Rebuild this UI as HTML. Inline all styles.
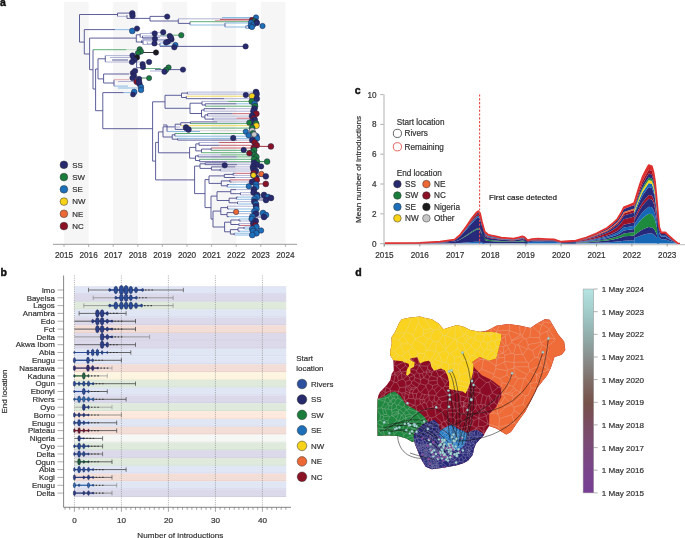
<!DOCTYPE html>
<html><head><meta charset="utf-8"><style>
html,body{margin:0;padding:0;background:#fff;overflow:hidden;width:685px;height:538px;}
svg{display:block;will-change:transform;}
text{font-family:"Liberation Sans",sans-serif;}
</style></head><body>
<svg width="685" height="538" viewBox="0 0 685 538">
<rect width="685" height="538" fill="#fff"/>
<rect x="64.0" y="2.0" width="24.6" height="241.8" fill="#f6f6f6" />
<rect x="113.2" y="2.0" width="24.6" height="241.8" fill="#f6f6f6" />
<rect x="162.4" y="2.0" width="24.6" height="241.8" fill="#f6f6f6" />
<rect x="211.6" y="2.0" width="24.6" height="241.8" fill="#f6f6f6" />
<rect x="260.8" y="2.0" width="24.6" height="241.8" fill="#f6f6f6" />
<text x="0.0" y="5.8" font-size="10.5" text-anchor="start" fill="#111" font-weight="bold"  stroke="#111" stroke-width="0.45">a</text>
<line x1="53.0" y1="244.3" x2="297.0" y2="244.3" stroke="#9a9a9a" stroke-width="1" />
<line x1="64.0" y1="244.3" x2="64.0" y2="246.8" stroke="#9a9a9a" stroke-width="0.8" />
<text x="64.0" y="258.0" font-size="8.2" text-anchor="middle" fill="#333" font-weight="normal" stroke="#333" stroke-width="0.2" >2015</text>
<line x1="88.6" y1="244.3" x2="88.6" y2="246.8" stroke="#9a9a9a" stroke-width="0.8" />
<text x="88.6" y="258.0" font-size="8.2" text-anchor="middle" fill="#333" font-weight="normal" stroke="#333" stroke-width="0.2" >2016</text>
<line x1="113.2" y1="244.3" x2="113.2" y2="246.8" stroke="#9a9a9a" stroke-width="0.8" />
<text x="113.2" y="258.0" font-size="8.2" text-anchor="middle" fill="#333" font-weight="normal" stroke="#333" stroke-width="0.2" >2017</text>
<line x1="137.8" y1="244.3" x2="137.8" y2="246.8" stroke="#9a9a9a" stroke-width="0.8" />
<text x="137.8" y="258.0" font-size="8.2" text-anchor="middle" fill="#333" font-weight="normal" stroke="#333" stroke-width="0.2" >2018</text>
<line x1="162.4" y1="244.3" x2="162.4" y2="246.8" stroke="#9a9a9a" stroke-width="0.8" />
<text x="162.4" y="258.0" font-size="8.2" text-anchor="middle" fill="#333" font-weight="normal" stroke="#333" stroke-width="0.2" >2019</text>
<line x1="187.0" y1="244.3" x2="187.0" y2="246.8" stroke="#9a9a9a" stroke-width="0.8" />
<text x="187.0" y="258.0" font-size="8.2" text-anchor="middle" fill="#333" font-weight="normal" stroke="#333" stroke-width="0.2" >2020</text>
<line x1="211.6" y1="244.3" x2="211.6" y2="246.8" stroke="#9a9a9a" stroke-width="0.8" />
<text x="211.6" y="258.0" font-size="8.2" text-anchor="middle" fill="#333" font-weight="normal" stroke="#333" stroke-width="0.2" >2021</text>
<line x1="236.2" y1="244.3" x2="236.2" y2="246.8" stroke="#9a9a9a" stroke-width="0.8" />
<text x="236.2" y="258.0" font-size="8.2" text-anchor="middle" fill="#333" font-weight="normal" stroke="#333" stroke-width="0.2" >2022</text>
<line x1="260.8" y1="244.3" x2="260.8" y2="246.8" stroke="#9a9a9a" stroke-width="0.8" />
<text x="260.8" y="258.0" font-size="8.2" text-anchor="middle" fill="#333" font-weight="normal" stroke="#333" stroke-width="0.2" >2023</text>
<line x1="285.4" y1="244.3" x2="285.4" y2="246.8" stroke="#9a9a9a" stroke-width="0.8" />
<text x="285.4" y="258.0" font-size="8.2" text-anchor="middle" fill="#333" font-weight="normal" stroke="#333" stroke-width="0.2" >2024</text>
<circle cx="63.9" cy="164.8" r="3.85" fill="#272a6c" stroke="#333" stroke-width="0.5"/>
<text x="72.3" y="167.7" font-size="7.9" text-anchor="start" fill="#333" font-weight="normal" stroke="#333" stroke-width="0.2" >SS</text>
<circle cx="63.9" cy="177.1" r="3.85" fill="#1b7d3b" stroke="#333" stroke-width="0.5"/>
<text x="72.3" y="179.9" font-size="7.9" text-anchor="start" fill="#333" font-weight="normal" stroke="#333" stroke-width="0.2" >SW</text>
<circle cx="63.9" cy="189.3" r="3.85" fill="#1c6fb8" stroke="#333" stroke-width="0.5"/>
<text x="72.3" y="192.2" font-size="7.9" text-anchor="start" fill="#333" font-weight="normal" stroke="#333" stroke-width="0.2" >SE</text>
<circle cx="63.9" cy="201.6" r="3.85" fill="#f6d219" stroke="#333" stroke-width="0.5"/>
<text x="72.3" y="204.4" font-size="7.9" text-anchor="start" fill="#333" font-weight="normal" stroke="#333" stroke-width="0.2" >NW</text>
<circle cx="63.9" cy="213.8" r="3.85" fill="#ec6935" stroke="#333" stroke-width="0.5"/>
<text x="72.3" y="216.7" font-size="7.9" text-anchor="start" fill="#333" font-weight="normal" stroke="#333" stroke-width="0.2" >NE</text>
<circle cx="63.9" cy="226.1" r="3.85" fill="#8a1224" stroke="#333" stroke-width="0.5"/>
<text x="72.3" y="228.9" font-size="7.9" text-anchor="start" fill="#333" font-weight="normal" stroke="#333" stroke-width="0.2" >NC</text>
<line x1="79.5" y1="14.5" x2="79.5" y2="42.1" stroke="#4c4e90" stroke-width="0.9" />
<line x1="79.5" y1="14.5" x2="117.5" y2="14.5" stroke="#4c4e90" stroke-width="0.9" />
<line x1="79.5" y1="42.1" x2="84.3" y2="42.1" stroke="#4c4e90" stroke-width="0.9" />
<line x1="117.5" y1="13.1" x2="117.5" y2="16.4" stroke="#4c4e90" stroke-width="0.9" />
<line x1="117.5" y1="13.1" x2="131.0" y2="13.1" stroke="#4c4e90" stroke-width="0.9" />
<line x1="117.5" y1="16.4" x2="127.0" y2="16.4" stroke="#a9abd3" stroke-width="0.9" />
<line x1="127.0" y1="15.1" x2="127.0" y2="18.4" stroke="#4c4e90" stroke-width="0.9" />
<line x1="127.0" y1="18.4" x2="150.0" y2="18.4" stroke="#4c4e90" stroke-width="0.9" />
<line x1="150.0" y1="16.4" x2="150.0" y2="21.0" stroke="#4c4e90" stroke-width="0.9" />
<line x1="150.0" y1="16.4" x2="165.0" y2="16.4" stroke="#4c4e90" stroke-width="0.9" />
<line x1="150.0" y1="21.0" x2="178.3" y2="21.0" stroke="#4c4e90" stroke-width="0.9" />
<line x1="178.3" y1="18.8" x2="178.3" y2="23.4" stroke="#4c4e90" stroke-width="0.9" />
<line x1="178.3" y1="18.8" x2="250.0" y2="18.8" stroke="#a9abd3" stroke-width="0.9" />
<line x1="178.3" y1="23.4" x2="190.0" y2="23.4" stroke="#4c4e90" stroke-width="0.9" />
<line x1="190.0" y1="21.7" x2="190.0" y2="25.0" stroke="#4c4e90" stroke-width="0.9" />
<line x1="190.0" y1="21.7" x2="250.0" y2="21.7" stroke="#4fa46a" stroke-width="0.9" />
<line x1="190.0" y1="25.0" x2="225.0" y2="25.0" stroke="#7fb3e0" stroke-width="0.9" />
<line x1="222.0" y1="17.5" x2="252.0" y2="17.5" stroke="#7fb3e0" stroke-width="0.9" />
<line x1="220.0" y1="19.5" x2="250.0" y2="19.5" stroke="#c0505c" stroke-width="0.9" />
<line x1="215.0" y1="20.5" x2="250.0" y2="20.5" stroke="#e3a3a6" stroke-width="0.9" />
<line x1="225.0" y1="23.0" x2="225.0" y2="27.0" stroke="#4c4e90" stroke-width="0.9" />
<line x1="225.0" y1="23.0" x2="252.0" y2="23.0" stroke="#7fb3e0" stroke-width="0.9" />
<line x1="225.0" y1="27.0" x2="246.0" y2="27.0" stroke="#7fb3e0" stroke-width="0.9" />
<line x1="246.0" y1="25.5" x2="246.0" y2="28.5" stroke="#4c4e90" stroke-width="0.9" />
<line x1="246.0" y1="25.5" x2="256.0" y2="25.5" stroke="#7fb3e0" stroke-width="0.9" />
<line x1="246.0" y1="28.5" x2="252.0" y2="28.5" stroke="#7fb3e0" stroke-width="0.9" />
<line x1="84.3" y1="29.6" x2="84.3" y2="54.0" stroke="#4c4e90" stroke-width="0.9" />
<line x1="84.3" y1="29.6" x2="115.0" y2="29.6" stroke="#4c4e90" stroke-width="0.9" />
<line x1="115.0" y1="29.6" x2="131.0" y2="29.6" stroke="#7fb3e0" stroke-width="0.9" />
<line x1="84.3" y1="54.0" x2="89.6" y2="54.0" stroke="#4c4e90" stroke-width="0.9" />
<line x1="89.6" y1="38.1" x2="89.6" y2="69.7" stroke="#4c4e90" stroke-width="0.9" />
<line x1="89.6" y1="38.1" x2="136.3" y2="38.1" stroke="#4c4e90" stroke-width="0.9" />
<line x1="136.3" y1="34.8" x2="136.3" y2="42.0" stroke="#4c4e90" stroke-width="0.9" />
<line x1="140.2" y1="33.5" x2="140.2" y2="37.5" stroke="#4c4e90" stroke-width="0.9" />
<line x1="140.2" y1="33.5" x2="153.4" y2="33.5" stroke="#a9abd3" stroke-width="0.9" />
<line x1="140.2" y1="37.5" x2="160.0" y2="37.5" stroke="#a9abd3" stroke-width="0.9" />
<line x1="136.3" y1="34.8" x2="140.2" y2="34.8" stroke="#4c4e90" stroke-width="0.9" />
<line x1="136.3" y1="42.0" x2="143.0" y2="42.0" stroke="#4c4e90" stroke-width="0.9" />
<line x1="143.0" y1="39.5" x2="143.0" y2="44.5" stroke="#4c4e90" stroke-width="0.9" />
<line x1="143.0" y1="39.5" x2="165.0" y2="39.5" stroke="#a9abd3" stroke-width="0.9" />
<line x1="143.0" y1="44.5" x2="160.0" y2="44.5" stroke="#a9abd3" stroke-width="0.9" />
<line x1="160.0" y1="43.0" x2="160.0" y2="46.4" stroke="#4c4e90" stroke-width="0.9" />
<line x1="160.0" y1="46.4" x2="245.6" y2="46.4" stroke="#4c4e90" stroke-width="0.9" />
<line x1="160.0" y1="43.0" x2="172.0" y2="43.0" stroke="#7fb3e0" stroke-width="0.9" />
<line x1="160.0" y1="35.2" x2="181.3" y2="35.2" stroke="#4fa46a" stroke-width="0.9" />
<line x1="142.5" y1="35.9" x2="142.5" y2="38.1" stroke="#4c4e90" stroke-width="0.9" />
<line x1="142.5" y1="35.9" x2="166.0" y2="35.9" stroke="#a9abd3" stroke-width="0.9" />
<line x1="142.5" y1="38.1" x2="156.5" y2="38.1" stroke="#4c4e90" stroke-width="0.9" />
<line x1="145.0" y1="36.6" x2="170.0" y2="36.6" stroke="#c4c6e4" stroke-width="0.9" />
<line x1="141.6" y1="40.3" x2="141.6" y2="43.0" stroke="#4c4e90" stroke-width="0.9" />
<line x1="141.6" y1="40.3" x2="170.0" y2="40.3" stroke="#a9abd3" stroke-width="0.9" />
<line x1="146.0" y1="41.2" x2="168.0" y2="41.2" stroke="#c4c6e4" stroke-width="0.9" />
<line x1="147.3" y1="42.5" x2="147.3" y2="43.8" stroke="#4c4e90" stroke-width="0.9" />
<line x1="147.3" y1="43.8" x2="155.0" y2="43.8" stroke="#a9abd3" stroke-width="0.9" />
<line x1="160.0" y1="45.6" x2="175.0" y2="45.6" stroke="#7fb3e0" stroke-width="0.9" />
<line x1="150.0" y1="32.4" x2="163.0" y2="32.4" stroke="#a9abd3" stroke-width="0.9" />
<line x1="156.0" y1="39.4" x2="172.0" y2="39.4" stroke="#a9abd3" stroke-width="0.9" />
<line x1="89.6" y1="69.7" x2="93.0" y2="69.7" stroke="#4c4e90" stroke-width="0.9" />
<line x1="93.0" y1="49.7" x2="93.0" y2="89.0" stroke="#4c4e90" stroke-width="0.9" />
<line x1="93.0" y1="49.7" x2="126.4" y2="49.7" stroke="#4fa46a" stroke-width="0.9" />
<line x1="126.4" y1="49.7" x2="138.0" y2="49.7" stroke="#b8dcc2" stroke-width="0.9" />
<line x1="140.0" y1="52.5" x2="156.0" y2="52.5" stroke="#222" stroke-width="0.9" />
<line x1="93.0" y1="89.0" x2="95.6" y2="89.0" stroke="#4c4e90" stroke-width="0.9" />
<line x1="95.6" y1="69.0" x2="95.6" y2="110.7" stroke="#4c4e90" stroke-width="0.9" />
<line x1="95.6" y1="69.0" x2="98.0" y2="69.0" stroke="#4c4e90" stroke-width="0.9" />
<line x1="98.0" y1="58.8" x2="98.0" y2="78.9" stroke="#4c4e90" stroke-width="0.9" />
<line x1="98.0" y1="58.8" x2="105.3" y2="58.8" stroke="#4c4e90" stroke-width="0.9" />
<line x1="105.3" y1="55.6" x2="105.3" y2="62.0" stroke="#4c4e90" stroke-width="0.9" />
<line x1="105.3" y1="55.6" x2="130.0" y2="55.6" stroke="#a9abd3" stroke-width="0.9" />
<line x1="105.3" y1="62.0" x2="130.0" y2="62.0" stroke="#a9abd3" stroke-width="0.9" />
<line x1="110.0" y1="57.5" x2="130.0" y2="57.5" stroke="#a9abd3" stroke-width="0.9" />
<line x1="112.0" y1="60.0" x2="128.0" y2="60.0" stroke="#4c4e90" stroke-width="0.9" />
<line x1="98.0" y1="78.9" x2="103.6" y2="78.9" stroke="#4c4e90" stroke-width="0.9" />
<line x1="103.6" y1="74.0" x2="103.6" y2="83.0" stroke="#4c4e90" stroke-width="0.9" />
<line x1="103.6" y1="74.0" x2="129.3" y2="74.0" stroke="#4c4e90" stroke-width="0.9" />
<line x1="103.6" y1="83.0" x2="114.0" y2="83.0" stroke="#4c4e90" stroke-width="0.9" />
<line x1="114.0" y1="79.7" x2="114.0" y2="86.1" stroke="#4c4e90" stroke-width="0.9" />
<line x1="114.0" y1="79.7" x2="129.0" y2="79.7" stroke="#e3a3a6" stroke-width="0.9" />
<line x1="118.0" y1="81.5" x2="135.0" y2="81.5" stroke="#a9abd3" stroke-width="0.9" />
<line x1="114.0" y1="86.1" x2="128.0" y2="86.1" stroke="#7fb3e0" stroke-width="0.9" />
<line x1="118.0" y1="88.0" x2="138.0" y2="88.0" stroke="#7fb3e0" stroke-width="0.9" />
<line x1="138.0" y1="78.0" x2="149.1" y2="78.0" stroke="#2a7a40" stroke-width="0.9" />
<line x1="136.6" y1="62.0" x2="136.6" y2="67.7" stroke="#4c4e90" stroke-width="0.9" />
<line x1="136.6" y1="62.0" x2="148.0" y2="62.0" stroke="#a9abd3" stroke-width="0.9" />
<line x1="136.6" y1="67.7" x2="142.0" y2="67.7" stroke="#4c4e90" stroke-width="0.9" />
<line x1="143.0" y1="68.5" x2="160.7" y2="68.5" stroke="#4fa46a" stroke-width="0.9" />
<line x1="155.0" y1="69.6" x2="183.0" y2="69.6" stroke="#4c4e90" stroke-width="0.9" />
<line x1="150.0" y1="71.0" x2="163.0" y2="71.0" stroke="#a9abd3" stroke-width="0.9" />
<line x1="95.6" y1="110.7" x2="102.8" y2="110.7" stroke="#4c4e90" stroke-width="0.9" />
<line x1="102.8" y1="92.6" x2="102.8" y2="128.7" stroke="#4c4e90" stroke-width="0.9" />
<line x1="102.8" y1="92.6" x2="123.7" y2="92.6" stroke="#4c4e90" stroke-width="0.9" />
<line x1="123.7" y1="92.6" x2="132.0" y2="92.6" stroke="#7fb3e0" stroke-width="0.9" />
<line x1="102.8" y1="128.7" x2="152.6" y2="128.7" stroke="#4c4e90" stroke-width="0.9" />
<line x1="187.3" y1="92.1" x2="256.0" y2="92.1" stroke="#a9abd3" stroke-width="0.9" />
<line x1="187.3" y1="94.1" x2="256.5" y2="94.1" stroke="#a9abd3" stroke-width="0.9" />
<line x1="187.3" y1="92.1" x2="187.3" y2="94.1" stroke="#4c4e90" stroke-width="0.9" />
<line x1="181.5" y1="93.1" x2="187.3" y2="93.1" stroke="#4c4e90" stroke-width="0.9" />
<line x1="186.3" y1="96.2" x2="252.0" y2="96.2" stroke="#f1d64a" stroke-width="0.9" />
<line x1="186.3" y1="98.7" x2="224.2" y2="98.7" stroke="#4c4e90" stroke-width="0.9" />
<line x1="224.2" y1="98.7" x2="256.7" y2="98.7" stroke="#a9abd3" stroke-width="0.9" />
<line x1="186.3" y1="96.2" x2="186.3" y2="98.7" stroke="#4c4e90" stroke-width="0.9" />
<line x1="181.5" y1="97.5" x2="186.3" y2="97.5" stroke="#4c4e90" stroke-width="0.9" />
<line x1="181.5" y1="93.1" x2="181.5" y2="97.5" stroke="#4c4e90" stroke-width="0.9" />
<line x1="165.0" y1="95.3" x2="181.5" y2="95.3" stroke="#4c4e90" stroke-width="0.9" />
<line x1="202.0" y1="101.4" x2="228.1" y2="101.4" stroke="#a9abd3" stroke-width="0.9" />
<line x1="228.1" y1="101.4" x2="251.8" y2="101.4" stroke="#4fa46a" stroke-width="0.9" />
<line x1="205.2" y1="103.8" x2="236.5" y2="103.8" stroke="#4c4e90" stroke-width="0.9" />
<line x1="236.5" y1="103.8" x2="254.6" y2="103.8" stroke="#7fb3e0" stroke-width="0.9" />
<line x1="205.2" y1="106.2" x2="255.0" y2="106.2" stroke="#4fa46a" stroke-width="0.9" />
<line x1="205.2" y1="103.8" x2="205.2" y2="106.2" stroke="#4c4e90" stroke-width="0.9" />
<line x1="202.0" y1="105.0" x2="205.2" y2="105.0" stroke="#4c4e90" stroke-width="0.9" />
<line x1="202.0" y1="101.4" x2="202.0" y2="105.0" stroke="#4c4e90" stroke-width="0.9" />
<line x1="190.0" y1="103.2" x2="202.0" y2="103.2" stroke="#4c4e90" stroke-width="0.9" />
<line x1="204.0" y1="108.7" x2="225.5" y2="108.7" stroke="#4c4e90" stroke-width="0.9" />
<line x1="225.5" y1="108.7" x2="254.4" y2="108.7" stroke="#a9abd3" stroke-width="0.9" />
<line x1="204.0" y1="111.2" x2="253.5" y2="111.2" stroke="#a9abd3" stroke-width="0.9" />
<line x1="204.0" y1="108.7" x2="204.0" y2="111.2" stroke="#4c4e90" stroke-width="0.9" />
<line x1="201.5" y1="110.0" x2="204.0" y2="110.0" stroke="#4c4e90" stroke-width="0.9" />
<line x1="207.6" y1="113.7" x2="232.7" y2="113.7" stroke="#4c4e90" stroke-width="0.9" />
<line x1="232.7" y1="113.7" x2="256.3" y2="113.7" stroke="#c0505c" stroke-width="0.9" />
<line x1="207.6" y1="116.1" x2="252.1" y2="116.1" stroke="#a9abd3" stroke-width="0.9" />
<line x1="207.6" y1="113.7" x2="207.6" y2="116.1" stroke="#4c4e90" stroke-width="0.9" />
<line x1="204.9" y1="114.9" x2="207.6" y2="114.9" stroke="#4c4e90" stroke-width="0.9" />
<line x1="213.0" y1="118.2" x2="236.5" y2="118.2" stroke="#a9abd3" stroke-width="0.9" />
<line x1="236.5" y1="118.2" x2="253.8" y2="118.2" stroke="#c0505c" stroke-width="0.9" />
<line x1="213.0" y1="119.9" x2="230.2" y2="119.9" stroke="#a9abd3" stroke-width="0.9" />
<line x1="230.2" y1="119.9" x2="254.7" y2="119.9" stroke="#a9abd3" stroke-width="0.9" />
<line x1="213.0" y1="118.2" x2="213.0" y2="119.9" stroke="#4c4e90" stroke-width="0.9" />
<line x1="204.9" y1="119.1" x2="213.0" y2="119.1" stroke="#4c4e90" stroke-width="0.9" />
<line x1="204.9" y1="114.9" x2="204.9" y2="119.1" stroke="#4c4e90" stroke-width="0.9" />
<line x1="201.5" y1="117.0" x2="204.9" y2="117.0" stroke="#4c4e90" stroke-width="0.9" />
<line x1="201.5" y1="110.0" x2="201.5" y2="117.0" stroke="#4c4e90" stroke-width="0.9" />
<line x1="190.0" y1="113.5" x2="201.5" y2="113.5" stroke="#4c4e90" stroke-width="0.9" />
<line x1="190.0" y1="103.2" x2="190.0" y2="113.5" stroke="#4c4e90" stroke-width="0.9" />
<line x1="165.0" y1="108.3" x2="190.0" y2="108.3" stroke="#4c4e90" stroke-width="0.9" />
<line x1="165.0" y1="95.3" x2="165.0" y2="108.3" stroke="#4c4e90" stroke-width="0.9" />
<line x1="152.6" y1="101.8" x2="165.0" y2="101.8" stroke="#4c4e90" stroke-width="0.9" />
<line x1="190.4" y1="121.9" x2="217.4" y2="121.9" stroke="#4c4e90" stroke-width="0.9" />
<line x1="217.4" y1="121.9" x2="251.8" y2="121.9" stroke="#a9abd3" stroke-width="0.9" />
<line x1="190.4" y1="123.6" x2="256.0" y2="123.6" stroke="#4fa46a" stroke-width="0.9" />
<line x1="190.4" y1="121.9" x2="190.4" y2="123.6" stroke="#4c4e90" stroke-width="0.9" />
<line x1="180.8" y1="122.7" x2="190.4" y2="122.7" stroke="#4c4e90" stroke-width="0.9" />
<line x1="180.8" y1="125.7" x2="256.4" y2="125.7" stroke="#f1d64a" stroke-width="0.9" />
<line x1="180.8" y1="122.7" x2="180.8" y2="125.7" stroke="#4c4e90" stroke-width="0.9" />
<line x1="175.2" y1="124.2" x2="180.8" y2="124.2" stroke="#4c4e90" stroke-width="0.9" />
<line x1="184.7" y1="128.1" x2="252.1" y2="128.1" stroke="#4fa46a" stroke-width="0.9" />
<line x1="184.7" y1="130.7" x2="252.2" y2="130.7" stroke="#d0d0d0" stroke-width="0.9" />
<line x1="184.7" y1="128.1" x2="184.7" y2="130.7" stroke="#4c4e90" stroke-width="0.9" />
<line x1="175.2" y1="129.4" x2="184.7" y2="129.4" stroke="#4c4e90" stroke-width="0.9" />
<line x1="175.2" y1="124.2" x2="175.2" y2="129.4" stroke="#4c4e90" stroke-width="0.9" />
<line x1="163.0" y1="126.8" x2="175.2" y2="126.8" stroke="#4c4e90" stroke-width="0.9" />
<line x1="174.9" y1="133.5" x2="253.0" y2="133.5" stroke="#4fa46a" stroke-width="0.9" />
<line x1="174.9" y1="136.2" x2="256.3" y2="136.2" stroke="#7fb3e0" stroke-width="0.9" />
<line x1="174.9" y1="133.5" x2="174.9" y2="136.2" stroke="#4c4e90" stroke-width="0.9" />
<line x1="172.2" y1="134.8" x2="174.9" y2="134.8" stroke="#4c4e90" stroke-width="0.9" />
<line x1="177.6" y1="138.4" x2="256.8" y2="138.4" stroke="#7fb3e0" stroke-width="0.9" />
<line x1="177.6" y1="140.1" x2="237.0" y2="140.1" stroke="#4c4e90" stroke-width="0.9" />
<line x1="237.0" y1="140.1" x2="252.3" y2="140.1" stroke="#a9abd3" stroke-width="0.9" />
<line x1="177.6" y1="138.4" x2="177.6" y2="140.1" stroke="#4c4e90" stroke-width="0.9" />
<line x1="172.2" y1="139.2" x2="177.6" y2="139.2" stroke="#4c4e90" stroke-width="0.9" />
<line x1="172.2" y1="134.8" x2="172.2" y2="139.2" stroke="#4c4e90" stroke-width="0.9" />
<line x1="163.0" y1="137.0" x2="172.2" y2="137.0" stroke="#4c4e90" stroke-width="0.9" />
<line x1="163.0" y1="126.8" x2="163.0" y2="137.0" stroke="#4c4e90" stroke-width="0.9" />
<line x1="158.4" y1="131.9" x2="163.0" y2="131.9" stroke="#4c4e90" stroke-width="0.9" />
<line x1="199.0" y1="142.5" x2="218.9" y2="142.5" stroke="#a9abd3" stroke-width="0.9" />
<line x1="218.9" y1="142.5" x2="254.6" y2="142.5" stroke="#c0505c" stroke-width="0.9" />
<line x1="199.0" y1="145.3" x2="219.5" y2="145.3" stroke="#4c4e90" stroke-width="0.9" />
<line x1="219.5" y1="145.3" x2="256.7" y2="145.3" stroke="#c0505c" stroke-width="0.9" />
<line x1="199.0" y1="142.5" x2="199.0" y2="145.3" stroke="#4c4e90" stroke-width="0.9" />
<line x1="195.8" y1="143.9" x2="199.0" y2="143.9" stroke="#4c4e90" stroke-width="0.9" />
<line x1="211.1" y1="148.0" x2="253.7" y2="148.0" stroke="#c0505c" stroke-width="0.9" />
<line x1="211.1" y1="150.3" x2="254.1" y2="150.3" stroke="#4fa46a" stroke-width="0.9" />
<line x1="211.1" y1="148.0" x2="211.1" y2="150.3" stroke="#4c4e90" stroke-width="0.9" />
<line x1="201.5" y1="149.1" x2="211.1" y2="149.1" stroke="#4c4e90" stroke-width="0.9" />
<line x1="201.5" y1="152.7" x2="251.9" y2="152.7" stroke="#4fa46a" stroke-width="0.9" />
<line x1="201.5" y1="149.1" x2="201.5" y2="152.7" stroke="#4c4e90" stroke-width="0.9" />
<line x1="195.8" y1="150.9" x2="201.5" y2="150.9" stroke="#4c4e90" stroke-width="0.9" />
<line x1="195.8" y1="143.9" x2="195.8" y2="150.9" stroke="#4c4e90" stroke-width="0.9" />
<line x1="189.6" y1="147.4" x2="195.8" y2="147.4" stroke="#4c4e90" stroke-width="0.9" />
<line x1="198.0" y1="154.9" x2="221.0" y2="154.9" stroke="#a9abd3" stroke-width="0.9" />
<line x1="221.0" y1="154.9" x2="254.5" y2="154.9" stroke="#4fa46a" stroke-width="0.9" />
<line x1="198.0" y1="156.9" x2="236.9" y2="156.9" stroke="#4c4e90" stroke-width="0.9" />
<line x1="236.9" y1="156.9" x2="256.3" y2="156.9" stroke="#4fa46a" stroke-width="0.9" />
<line x1="198.0" y1="154.9" x2="198.0" y2="156.9" stroke="#4c4e90" stroke-width="0.9" />
<line x1="195.5" y1="155.9" x2="198.0" y2="155.9" stroke="#4c4e90" stroke-width="0.9" />
<line x1="199.6" y1="159.3" x2="254.1" y2="159.3" stroke="#4fa46a" stroke-width="0.9" />
<line x1="199.6" y1="161.7" x2="227.4" y2="161.7" stroke="#4c4e90" stroke-width="0.9" />
<line x1="227.4" y1="161.7" x2="257.0" y2="161.7" stroke="#4fa46a" stroke-width="0.9" />
<line x1="199.6" y1="159.3" x2="199.6" y2="161.7" stroke="#4c4e90" stroke-width="0.9" />
<line x1="195.5" y1="160.5" x2="199.6" y2="160.5" stroke="#4c4e90" stroke-width="0.9" />
<line x1="195.5" y1="155.9" x2="195.5" y2="160.5" stroke="#4c4e90" stroke-width="0.9" />
<line x1="189.6" y1="158.2" x2="195.5" y2="158.2" stroke="#4c4e90" stroke-width="0.9" />
<line x1="189.6" y1="147.4" x2="189.6" y2="158.2" stroke="#4c4e90" stroke-width="0.9" />
<line x1="158.4" y1="152.8" x2="189.6" y2="152.8" stroke="#4c4e90" stroke-width="0.9" />
<line x1="158.4" y1="131.9" x2="158.4" y2="152.8" stroke="#4c4e90" stroke-width="0.9" />
<line x1="155.6" y1="142.4" x2="158.4" y2="142.4" stroke="#4c4e90" stroke-width="0.9" />
<line x1="205.1" y1="162.9" x2="223.6" y2="162.9" stroke="#4c4e90" stroke-width="0.9" />
<line x1="223.6" y1="162.9" x2="254.1" y2="162.9" stroke="#a9abd3" stroke-width="0.9" />
<line x1="205.1" y1="164.7" x2="237.3" y2="164.7" stroke="#4c4e90" stroke-width="0.9" />
<line x1="237.3" y1="164.7" x2="256.7" y2="164.7" stroke="#a9abd3" stroke-width="0.9" />
<line x1="205.1" y1="162.9" x2="205.1" y2="164.7" stroke="#4c4e90" stroke-width="0.9" />
<line x1="200.0" y1="163.8" x2="205.1" y2="163.8" stroke="#4c4e90" stroke-width="0.9" />
<line x1="211.4" y1="166.9" x2="235.4" y2="166.9" stroke="#4c4e90" stroke-width="0.9" />
<line x1="235.4" y1="166.9" x2="253.1" y2="166.9" stroke="#a9abd3" stroke-width="0.9" />
<line x1="220.2" y1="169.0" x2="253.5" y2="169.0" stroke="#a9abd3" stroke-width="0.9" />
<line x1="220.2" y1="171.0" x2="255.8" y2="171.0" stroke="#a9abd3" stroke-width="0.9" />
<line x1="220.2" y1="169.0" x2="220.2" y2="171.0" stroke="#4c4e90" stroke-width="0.9" />
<line x1="211.4" y1="170.0" x2="220.2" y2="170.0" stroke="#4c4e90" stroke-width="0.9" />
<line x1="211.4" y1="166.9" x2="211.4" y2="170.0" stroke="#4c4e90" stroke-width="0.9" />
<line x1="200.0" y1="168.4" x2="211.4" y2="168.4" stroke="#4c4e90" stroke-width="0.9" />
<line x1="200.0" y1="163.8" x2="200.0" y2="168.4" stroke="#4c4e90" stroke-width="0.9" />
<line x1="194.6" y1="166.1" x2="200.0" y2="166.1" stroke="#4c4e90" stroke-width="0.9" />
<line x1="233.1" y1="173.3" x2="235.1" y2="173.3" stroke="#4c4e90" stroke-width="0.9" />
<line x1="235.1" y1="173.3" x2="253.7" y2="173.3" stroke="#c0505c" stroke-width="0.9" />
<line x1="233.1" y1="175.4" x2="253.5" y2="175.4" stroke="#a9abd3" stroke-width="0.9" />
<line x1="233.1" y1="173.3" x2="233.1" y2="175.4" stroke="#4c4e90" stroke-width="0.9" />
<line x1="224.3" y1="174.4" x2="233.1" y2="174.4" stroke="#4c4e90" stroke-width="0.9" />
<line x1="224.3" y1="177.5" x2="235.0" y2="177.5" stroke="#4c4e90" stroke-width="0.9" />
<line x1="235.0" y1="177.5" x2="255.8" y2="177.5" stroke="#a9abd3" stroke-width="0.9" />
<line x1="224.3" y1="174.4" x2="224.3" y2="177.5" stroke="#4c4e90" stroke-width="0.9" />
<line x1="209.0" y1="175.9" x2="224.3" y2="175.9" stroke="#4c4e90" stroke-width="0.9" />
<line x1="229.8" y1="179.9" x2="256.8" y2="179.9" stroke="#c0505c" stroke-width="0.9" />
<line x1="229.8" y1="182.0" x2="231.8" y2="182.0" stroke="#4c4e90" stroke-width="0.9" />
<line x1="231.8" y1="182.0" x2="252.1" y2="182.0" stroke="#a9abd3" stroke-width="0.9" />
<line x1="229.8" y1="179.9" x2="229.8" y2="182.0" stroke="#4c4e90" stroke-width="0.9" />
<line x1="221.3" y1="180.9" x2="229.8" y2="180.9" stroke="#4c4e90" stroke-width="0.9" />
<line x1="227.2" y1="184.5" x2="229.2" y2="184.5" stroke="#4c4e90" stroke-width="0.9" />
<line x1="229.2" y1="184.5" x2="256.1" y2="184.5" stroke="#7fb3e0" stroke-width="0.9" />
<line x1="227.2" y1="187.1" x2="256.1" y2="187.1" stroke="#7fb3e0" stroke-width="0.9" />
<line x1="227.2" y1="184.5" x2="227.2" y2="187.1" stroke="#4c4e90" stroke-width="0.9" />
<line x1="221.3" y1="185.8" x2="227.2" y2="185.8" stroke="#4c4e90" stroke-width="0.9" />
<line x1="221.3" y1="180.9" x2="221.3" y2="185.8" stroke="#4c4e90" stroke-width="0.9" />
<line x1="209.0" y1="183.4" x2="221.3" y2="183.4" stroke="#4c4e90" stroke-width="0.9" />
<line x1="209.0" y1="175.9" x2="209.0" y2="183.4" stroke="#4c4e90" stroke-width="0.9" />
<line x1="205.0" y1="179.6" x2="209.0" y2="179.6" stroke="#4c4e90" stroke-width="0.9" />
<line x1="230.8" y1="189.6" x2="236.3" y2="189.6" stroke="#4c4e90" stroke-width="0.9" />
<line x1="236.3" y1="189.6" x2="253.9" y2="189.6" stroke="#a9abd3" stroke-width="0.9" />
<line x1="240.4" y1="192.6" x2="242.4" y2="192.6" stroke="#a9abd3" stroke-width="0.9" />
<line x1="242.4" y1="192.6" x2="253.7" y2="192.6" stroke="#a9abd3" stroke-width="0.9" />
<line x1="240.4" y1="194.9" x2="257.0" y2="194.9" stroke="#a9abd3" stroke-width="0.9" />
<line x1="240.4" y1="192.6" x2="240.4" y2="194.9" stroke="#4c4e90" stroke-width="0.9" />
<line x1="230.8" y1="193.7" x2="240.4" y2="193.7" stroke="#4c4e90" stroke-width="0.9" />
<line x1="230.8" y1="189.6" x2="230.8" y2="193.7" stroke="#4c4e90" stroke-width="0.9" />
<line x1="217.0" y1="191.7" x2="230.8" y2="191.7" stroke="#4c4e90" stroke-width="0.9" />
<line x1="236.4" y1="197.1" x2="238.4" y2="197.1" stroke="#4c4e90" stroke-width="0.9" />
<line x1="238.4" y1="197.1" x2="256.9" y2="197.1" stroke="#7fb3e0" stroke-width="0.9" />
<line x1="236.4" y1="199.3" x2="254.5" y2="199.3" stroke="#7fb3e0" stroke-width="0.9" />
<line x1="236.4" y1="197.1" x2="236.4" y2="199.3" stroke="#4c4e90" stroke-width="0.9" />
<line x1="229.1" y1="198.2" x2="236.4" y2="198.2" stroke="#4c4e90" stroke-width="0.9" />
<line x1="237.5" y1="201.7" x2="239.5" y2="201.7" stroke="#a9abd3" stroke-width="0.9" />
<line x1="239.5" y1="201.7" x2="254.4" y2="201.7" stroke="#a9abd3" stroke-width="0.9" />
<line x1="237.5" y1="204.0" x2="256.0" y2="204.0" stroke="#7fb3e0" stroke-width="0.9" />
<line x1="237.5" y1="201.7" x2="237.5" y2="204.0" stroke="#4c4e90" stroke-width="0.9" />
<line x1="229.1" y1="202.8" x2="237.5" y2="202.8" stroke="#4c4e90" stroke-width="0.9" />
<line x1="229.1" y1="198.2" x2="229.1" y2="202.8" stroke="#4c4e90" stroke-width="0.9" />
<line x1="217.0" y1="200.5" x2="229.1" y2="200.5" stroke="#4c4e90" stroke-width="0.9" />
<line x1="217.0" y1="191.7" x2="217.0" y2="200.5" stroke="#4c4e90" stroke-width="0.9" />
<line x1="211.0" y1="196.1" x2="217.0" y2="196.1" stroke="#4c4e90" stroke-width="0.9" />
<line x1="227.5" y1="206.2" x2="256.1" y2="206.2" stroke="#a9abd3" stroke-width="0.9" />
<line x1="227.5" y1="209.0" x2="229.5" y2="209.0" stroke="#4c4e90" stroke-width="0.9" />
<line x1="229.5" y1="209.0" x2="256.4" y2="209.0" stroke="#7fb3e0" stroke-width="0.9" />
<line x1="227.5" y1="206.2" x2="227.5" y2="209.0" stroke="#4c4e90" stroke-width="0.9" />
<line x1="220.8" y1="207.6" x2="227.5" y2="207.6" stroke="#4c4e90" stroke-width="0.9" />
<line x1="236.0" y1="211.5" x2="254.4" y2="211.5" stroke="#7fb3e0" stroke-width="0.9" />
<line x1="236.0" y1="213.7" x2="238.0" y2="213.7" stroke="#4c4e90" stroke-width="0.9" />
<line x1="238.0" y1="213.7" x2="255.8" y2="213.7" stroke="#a9abd3" stroke-width="0.9" />
<line x1="236.0" y1="211.5" x2="236.0" y2="213.7" stroke="#4c4e90" stroke-width="0.9" />
<line x1="227.0" y1="212.6" x2="236.0" y2="212.6" stroke="#4c4e90" stroke-width="0.9" />
<line x1="227.0" y1="216.7" x2="229.0" y2="216.7" stroke="#4c4e90" stroke-width="0.9" />
<line x1="229.0" y1="216.7" x2="252.4" y2="216.7" stroke="#7fb3e0" stroke-width="0.9" />
<line x1="227.0" y1="212.6" x2="227.0" y2="216.7" stroke="#4c4e90" stroke-width="0.9" />
<line x1="220.8" y1="214.6" x2="227.0" y2="214.6" stroke="#4c4e90" stroke-width="0.9" />
<line x1="220.8" y1="207.6" x2="220.8" y2="214.6" stroke="#4c4e90" stroke-width="0.9" />
<line x1="213.0" y1="211.1" x2="220.8" y2="211.1" stroke="#4c4e90" stroke-width="0.9" />
<line x1="239.0" y1="219.0" x2="251.8" y2="219.0" stroke="#7fb3e0" stroke-width="0.9" />
<line x1="239.0" y1="221.0" x2="241.0" y2="221.0" stroke="#4c4e90" stroke-width="0.9" />
<line x1="241.0" y1="221.0" x2="255.7" y2="221.0" stroke="#a9abd3" stroke-width="0.9" />
<line x1="239.0" y1="219.0" x2="239.0" y2="221.0" stroke="#4c4e90" stroke-width="0.9" />
<line x1="230.8" y1="220.0" x2="239.0" y2="220.0" stroke="#4c4e90" stroke-width="0.9" />
<line x1="238.8" y1="223.5" x2="240.8" y2="223.5" stroke="#a9abd3" stroke-width="0.9" />
<line x1="240.8" y1="223.5" x2="253.3" y2="223.5" stroke="#a9abd3" stroke-width="0.9" />
<line x1="238.8" y1="225.4" x2="240.8" y2="225.4" stroke="#4c4e90" stroke-width="0.9" />
<line x1="240.8" y1="225.4" x2="255.3" y2="225.4" stroke="#c0505c" stroke-width="0.9" />
<line x1="238.8" y1="223.5" x2="238.8" y2="225.4" stroke="#4c4e90" stroke-width="0.9" />
<line x1="230.8" y1="224.5" x2="238.8" y2="224.5" stroke="#4c4e90" stroke-width="0.9" />
<line x1="230.8" y1="220.0" x2="230.8" y2="224.5" stroke="#4c4e90" stroke-width="0.9" />
<line x1="224.6" y1="222.2" x2="230.8" y2="222.2" stroke="#4c4e90" stroke-width="0.9" />
<line x1="244.0" y1="227.0" x2="256.4" y2="227.0" stroke="#7fb3e0" stroke-width="0.9" />
<line x1="244.0" y1="228.9" x2="252.3" y2="228.9" stroke="#7fb3e0" stroke-width="0.9" />
<line x1="244.0" y1="227.0" x2="244.0" y2="228.9" stroke="#4c4e90" stroke-width="0.9" />
<line x1="238.0" y1="227.9" x2="244.0" y2="227.9" stroke="#4c4e90" stroke-width="0.9" />
<line x1="238.0" y1="231.2" x2="240.0" y2="231.2" stroke="#4c4e90" stroke-width="0.9" />
<line x1="240.0" y1="231.2" x2="253.2" y2="231.2" stroke="#7fb3e0" stroke-width="0.9" />
<line x1="238.0" y1="227.9" x2="238.0" y2="231.2" stroke="#4c4e90" stroke-width="0.9" />
<line x1="230.4" y1="229.6" x2="238.0" y2="229.6" stroke="#4c4e90" stroke-width="0.9" />
<line x1="234.1" y1="233.2" x2="256.4" y2="233.2" stroke="#7fb3e0" stroke-width="0.9" />
<line x1="234.1" y1="235.0" x2="236.1" y2="235.0" stroke="#a9abd3" stroke-width="0.9" />
<line x1="236.1" y1="235.0" x2="252.3" y2="235.0" stroke="#7fb3e0" stroke-width="0.9" />
<line x1="234.1" y1="233.2" x2="234.1" y2="235.0" stroke="#4c4e90" stroke-width="0.9" />
<line x1="230.4" y1="234.1" x2="234.1" y2="234.1" stroke="#4c4e90" stroke-width="0.9" />
<line x1="230.4" y1="229.6" x2="230.4" y2="234.1" stroke="#4c4e90" stroke-width="0.9" />
<line x1="224.6" y1="231.8" x2="230.4" y2="231.8" stroke="#4c4e90" stroke-width="0.9" />
<line x1="224.6" y1="222.2" x2="224.6" y2="231.8" stroke="#4c4e90" stroke-width="0.9" />
<line x1="213.0" y1="227.0" x2="224.6" y2="227.0" stroke="#4c4e90" stroke-width="0.9" />
<line x1="213.0" y1="211.1" x2="213.0" y2="227.0" stroke="#4c4e90" stroke-width="0.9" />
<line x1="211.0" y1="219.1" x2="213.0" y2="219.1" stroke="#4c4e90" stroke-width="0.9" />
<line x1="211.0" y1="196.1" x2="211.0" y2="219.1" stroke="#4c4e90" stroke-width="0.9" />
<line x1="205.0" y1="207.6" x2="211.0" y2="207.6" stroke="#4c4e90" stroke-width="0.9" />
<line x1="205.0" y1="179.6" x2="205.0" y2="207.6" stroke="#4c4e90" stroke-width="0.9" />
<line x1="194.6" y1="193.6" x2="205.0" y2="193.6" stroke="#4c4e90" stroke-width="0.9" />
<line x1="194.6" y1="166.1" x2="194.6" y2="193.6" stroke="#4c4e90" stroke-width="0.9" />
<line x1="155.6" y1="179.9" x2="194.6" y2="179.9" stroke="#4c4e90" stroke-width="0.9" />
<line x1="155.6" y1="142.4" x2="155.6" y2="179.9" stroke="#4c4e90" stroke-width="0.9" />
<line x1="152.6" y1="161.1" x2="155.6" y2="161.1" stroke="#4c4e90" stroke-width="0.9" />
<line x1="167.0" y1="127.0" x2="180.0" y2="127.0" stroke="#a9abd3" stroke-width="0.9" />
<line x1="167.0" y1="131.5" x2="200.0" y2="131.5" stroke="#7fb3e0" stroke-width="0.9" />
<line x1="167.0" y1="125.0" x2="167.0" y2="131.5" stroke="#4c4e90" stroke-width="0.9" />
<line x1="163.0" y1="125.0" x2="167.0" y2="125.0" stroke="#4c4e90" stroke-width="0.9" />
<line x1="152.6" y1="101.8" x2="152.6" y2="161.1" stroke="#4c4e90" stroke-width="0.9" />
<line x1="255.0" y1="146.4" x2="270.9" y2="146.4" stroke="#9a1c2a" stroke-width="0.9" />
<line x1="255.0" y1="161.6" x2="267.1" y2="161.6" stroke="#1b7d3b" stroke-width="0.9" />
<line x1="255.0" y1="166.4" x2="261.1" y2="166.4" stroke="#4c4e90" stroke-width="0.9" />
<line x1="255.0" y1="174.0" x2="261.4" y2="174.0" stroke="#ec6935" stroke-width="0.9" />
<line x1="255.0" y1="176.3" x2="265.8" y2="176.3" stroke="#4c4e90" stroke-width="0.9" />
<line x1="255.0" y1="183.9" x2="265.8" y2="183.9" stroke="#9a1c2a" stroke-width="0.9" />
<line x1="255.0" y1="195.0" x2="264.0" y2="195.0" stroke="#4c4e90" stroke-width="0.9" />
<line x1="255.0" y1="197.0" x2="268.0" y2="197.0" stroke="#3a7cc0" stroke-width="0.9" />
<line x1="255.0" y1="198.0" x2="271.0" y2="198.0" stroke="#4c4e90" stroke-width="0.9" />
<line x1="255.0" y1="200.0" x2="266.0" y2="200.0" stroke="#4c4e90" stroke-width="0.9" />
<line x1="255.0" y1="213.0" x2="263.0" y2="213.0" stroke="#3a7cc0" stroke-width="0.9" />
<line x1="255.0" y1="215.0" x2="266.0" y2="215.0" stroke="#3a7cc0" stroke-width="0.9" />
<line x1="255.0" y1="217.0" x2="264.0" y2="217.0" stroke="#4c4e90" stroke-width="0.9" />
<line x1="255.0" y1="230.5" x2="261.1" y2="230.5" stroke="#3a7cc0" stroke-width="0.9" />
<circle cx="132.3" cy="13.2" r="2.8" fill="#272a6c" stroke="#23234a" stroke-width="0.5"/>
<circle cx="132.5" cy="15.8" r="2.8" fill="#272a6c" stroke="#23234a" stroke-width="0.5"/>
<circle cx="167.2" cy="16.6" r="2.7" fill="#272a6c" stroke="#23234a" stroke-width="0.5"/>
<circle cx="256.0" cy="17.5" r="2.7" fill="#1c6fb8" stroke="#23234a" stroke-width="0.5"/>
<circle cx="252.0" cy="20.0" r="2.7" fill="#8a1224" stroke="#23234a" stroke-width="0.5"/>
<circle cx="254.5" cy="21.0" r="2.7" fill="#1b7d3b" stroke="#23234a" stroke-width="0.5"/>
<circle cx="256.5" cy="22.0" r="2.7" fill="#272a6c" stroke="#23234a" stroke-width="0.5"/>
<circle cx="251.0" cy="22.5" r="2.7" fill="#1c6fb8" stroke="#23234a" stroke-width="0.5"/>
<circle cx="253.5" cy="24.5" r="2.7" fill="#1c6fb8" stroke="#23234a" stroke-width="0.5"/>
<circle cx="250.5" cy="26.0" r="2.7" fill="#1c6fb8" stroke="#23234a" stroke-width="0.5"/>
<circle cx="252.0" cy="27.0" r="2.7" fill="#1c6fb8" stroke="#23234a" stroke-width="0.5"/>
<circle cx="262.5" cy="26.0" r="2.7" fill="#1c6fb8" stroke="#23234a" stroke-width="0.5"/>
<circle cx="257.0" cy="23.0" r="2.7" fill="#272a6c" stroke="#23234a" stroke-width="0.5"/>
<circle cx="132.3" cy="30.9" r="2.9" fill="#1c6fb8" stroke="#23234a" stroke-width="0.5"/>
<circle cx="137.0" cy="28.6" r="2.7" fill="#272a6c" stroke="#23234a" stroke-width="0.5"/>
<circle cx="154.7" cy="33.5" r="2.7" fill="#272a6c" stroke="#23234a" stroke-width="0.5"/>
<circle cx="163.2" cy="32.3" r="2.7" fill="#272a6c" stroke="#23234a" stroke-width="0.5"/>
<circle cx="169.7" cy="36.0" r="2.7" fill="#272a6c" stroke="#23234a" stroke-width="0.5"/>
<circle cx="171.5" cy="39.4" r="2.7" fill="#272a6c" stroke="#23234a" stroke-width="0.5"/>
<circle cx="168.0" cy="41.6" r="2.7" fill="#272a6c" stroke="#23234a" stroke-width="0.5"/>
<circle cx="154.9" cy="38.8" r="2.7" fill="#272a6c" stroke="#23234a" stroke-width="0.5"/>
<circle cx="154.5" cy="43.4" r="2.7" fill="#272a6c" stroke="#23234a" stroke-width="0.5"/>
<circle cx="175.4" cy="45.0" r="2.7" fill="#1c6fb8" stroke="#23234a" stroke-width="0.5"/>
<circle cx="174.3" cy="47.3" r="2.7" fill="#272a6c" stroke="#23234a" stroke-width="0.5"/>
<circle cx="166.0" cy="42.5" r="2.7" fill="#272a6c" stroke="#23234a" stroke-width="0.5"/>
<circle cx="171.0" cy="37.8" r="2.7" fill="#272a6c" stroke="#23234a" stroke-width="0.5"/>
<circle cx="245.6" cy="46.4" r="2.7" fill="#272a6c" stroke="#23234a" stroke-width="0.5"/>
<circle cx="181.3" cy="35.2" r="2.7" fill="#1b7d3b" stroke="#23234a" stroke-width="0.5"/>
<circle cx="156.0" cy="52.5" r="2.7" fill="#1b1b1b" stroke="#23234a" stroke-width="0.5"/>
<circle cx="139.7" cy="49.3" r="2.7" fill="#1b7d3b" stroke="#23234a" stroke-width="0.5"/>
<circle cx="141.0" cy="51.5" r="2.7" fill="#1b7d3b" stroke="#23234a" stroke-width="0.5"/>
<circle cx="138.0" cy="53.0" r="2.7" fill="#1b7d3b" stroke="#23234a" stroke-width="0.5"/>
<circle cx="132.5" cy="55.5" r="2.7" fill="#272a6c" stroke="#23234a" stroke-width="0.5"/>
<circle cx="133.5" cy="58.0" r="2.7" fill="#272a6c" stroke="#23234a" stroke-width="0.5"/>
<circle cx="137.0" cy="57.5" r="2.7" fill="#1b1b1b" stroke="#23234a" stroke-width="0.5"/>
<circle cx="134.5" cy="60.0" r="2.7" fill="#272a6c" stroke="#23234a" stroke-width="0.5"/>
<circle cx="132.0" cy="62.0" r="2.7" fill="#272a6c" stroke="#23234a" stroke-width="0.5"/>
<circle cx="133.0" cy="73.0" r="2.8" fill="#272a6c" stroke="#23234a" stroke-width="0.5"/>
<circle cx="135.0" cy="71.0" r="2.8" fill="#272a6c" stroke="#23234a" stroke-width="0.5"/>
<circle cx="134.0" cy="76.0" r="2.8" fill="#272a6c" stroke="#23234a" stroke-width="0.5"/>
<circle cx="132.6" cy="78.0" r="2.8" fill="#272a6c" stroke="#23234a" stroke-width="0.5"/>
<circle cx="136.6" cy="81.8" r="2.8" fill="#8a1224" stroke="#23234a" stroke-width="0.5"/>
<circle cx="139.0" cy="79.0" r="2.8" fill="#272a6c" stroke="#23234a" stroke-width="0.5"/>
<circle cx="139.5" cy="84.0" r="2.8" fill="#272a6c" stroke="#23234a" stroke-width="0.5"/>
<circle cx="141.0" cy="87.0" r="2.8" fill="#1c6fb8" stroke="#23234a" stroke-width="0.5"/>
<circle cx="141.0" cy="90.0" r="2.8" fill="#1c6fb8" stroke="#23234a" stroke-width="0.5"/>
<circle cx="139.0" cy="82.0" r="2.8" fill="#272a6c" stroke="#23234a" stroke-width="0.5"/>
<circle cx="149.1" cy="78.1" r="2.6" fill="#1b7d3b" stroke="#23234a" stroke-width="0.5"/>
<circle cx="142.6" cy="64.3" r="2.7" fill="#272a6c" stroke="#23234a" stroke-width="0.5"/>
<circle cx="149.1" cy="62.0" r="2.7" fill="#272a6c" stroke="#23234a" stroke-width="0.5"/>
<circle cx="143.0" cy="67.0" r="2.7" fill="#272a6c" stroke="#23234a" stroke-width="0.5"/>
<circle cx="168.5" cy="67.5" r="2.7" fill="#1b7d3b" stroke="#23234a" stroke-width="0.5"/>
<circle cx="166.0" cy="70.0" r="2.7" fill="#1b7d3b" stroke="#23234a" stroke-width="0.5"/>
<circle cx="164.5" cy="71.7" r="2.7" fill="#272a6c" stroke="#23234a" stroke-width="0.5"/>
<circle cx="183.0" cy="69.6" r="2.7" fill="#272a6c" stroke="#23234a" stroke-width="0.5"/>
<circle cx="134.2" cy="92.0" r="2.9" fill="#1c6fb8" stroke="#23234a" stroke-width="0.5"/>
<circle cx="133.0" cy="94.5" r="2.5" fill="#272a6c" stroke="#23234a" stroke-width="0.5"/>
<circle cx="256.0" cy="92.1" r="3.0" fill="#272a6c" stroke="#23234a" stroke-width="0.5"/>
<circle cx="256.5" cy="94.1" r="3.0" fill="#272a6c" stroke="#23234a" stroke-width="0.5"/>
<circle cx="252.0" cy="96.2" r="3.0" fill="#f6d219" stroke="#23234a" stroke-width="0.5"/>
<circle cx="256.7" cy="98.7" r="3.0" fill="#272a6c" stroke="#23234a" stroke-width="0.5"/>
<circle cx="251.8" cy="101.4" r="3.0" fill="#1b7d3b" stroke="#23234a" stroke-width="0.5"/>
<circle cx="254.6" cy="103.8" r="3.0" fill="#1c6fb8" stroke="#23234a" stroke-width="0.5"/>
<circle cx="255.0" cy="106.2" r="3.0" fill="#1b7d3b" stroke="#23234a" stroke-width="0.5"/>
<circle cx="254.4" cy="108.7" r="3.0" fill="#272a6c" stroke="#23234a" stroke-width="0.5"/>
<circle cx="253.5" cy="111.2" r="3.0" fill="#272a6c" stroke="#23234a" stroke-width="0.5"/>
<circle cx="256.3" cy="113.7" r="3.0" fill="#8a1224" stroke="#23234a" stroke-width="0.5"/>
<circle cx="252.1" cy="116.1" r="3.0" fill="#272a6c" stroke="#23234a" stroke-width="0.5"/>
<circle cx="253.8" cy="118.2" r="3.0" fill="#8a1224" stroke="#23234a" stroke-width="0.5"/>
<circle cx="254.7" cy="119.9" r="3.0" fill="#272a6c" stroke="#23234a" stroke-width="0.5"/>
<circle cx="251.8" cy="121.9" r="3.0" fill="#272a6c" stroke="#23234a" stroke-width="0.5"/>
<circle cx="256.0" cy="123.6" r="3.0" fill="#1b7d3b" stroke="#23234a" stroke-width="0.5"/>
<circle cx="256.4" cy="125.7" r="3.0" fill="#f6d219" stroke="#23234a" stroke-width="0.5"/>
<circle cx="252.1" cy="128.1" r="3.0" fill="#1b7d3b" stroke="#23234a" stroke-width="0.5"/>
<circle cx="252.2" cy="130.7" r="3.0" fill="#c6c6c6" stroke="#23234a" stroke-width="0.5"/>
<circle cx="253.0" cy="133.5" r="3.0" fill="#1b7d3b" stroke="#23234a" stroke-width="0.5"/>
<circle cx="256.3" cy="136.2" r="3.0" fill="#1c6fb8" stroke="#23234a" stroke-width="0.5"/>
<circle cx="256.8" cy="138.4" r="3.0" fill="#1c6fb8" stroke="#23234a" stroke-width="0.5"/>
<circle cx="252.3" cy="140.1" r="3.0" fill="#272a6c" stroke="#23234a" stroke-width="0.5"/>
<circle cx="254.6" cy="142.5" r="3.0" fill="#8a1224" stroke="#23234a" stroke-width="0.5"/>
<circle cx="256.7" cy="145.3" r="3.0" fill="#8a1224" stroke="#23234a" stroke-width="0.5"/>
<circle cx="253.7" cy="148.0" r="3.0" fill="#8a1224" stroke="#23234a" stroke-width="0.5"/>
<circle cx="254.1" cy="150.3" r="3.0" fill="#1b7d3b" stroke="#23234a" stroke-width="0.5"/>
<circle cx="251.9" cy="152.7" r="3.0" fill="#1b7d3b" stroke="#23234a" stroke-width="0.5"/>
<circle cx="254.5" cy="154.9" r="3.0" fill="#1b7d3b" stroke="#23234a" stroke-width="0.5"/>
<circle cx="256.3" cy="156.9" r="3.0" fill="#1b7d3b" stroke="#23234a" stroke-width="0.5"/>
<circle cx="254.1" cy="159.3" r="3.0" fill="#1b7d3b" stroke="#23234a" stroke-width="0.5"/>
<circle cx="257.0" cy="161.7" r="3.0" fill="#1b7d3b" stroke="#23234a" stroke-width="0.5"/>
<circle cx="254.1" cy="162.9" r="3.0" fill="#272a6c" stroke="#23234a" stroke-width="0.5"/>
<circle cx="256.7" cy="164.7" r="3.0" fill="#272a6c" stroke="#23234a" stroke-width="0.5"/>
<circle cx="253.1" cy="166.9" r="3.0" fill="#272a6c" stroke="#23234a" stroke-width="0.5"/>
<circle cx="253.5" cy="169.0" r="3.0" fill="#272a6c" stroke="#23234a" stroke-width="0.5"/>
<circle cx="255.8" cy="171.0" r="3.0" fill="#272a6c" stroke="#23234a" stroke-width="0.5"/>
<circle cx="253.7" cy="173.3" r="3.0" fill="#8a1224" stroke="#23234a" stroke-width="0.5"/>
<circle cx="253.5" cy="175.4" r="3.0" fill="#272a6c" stroke="#23234a" stroke-width="0.5"/>
<circle cx="255.8" cy="177.5" r="3.0" fill="#272a6c" stroke="#23234a" stroke-width="0.5"/>
<circle cx="256.8" cy="179.9" r="3.0" fill="#8a1224" stroke="#23234a" stroke-width="0.5"/>
<circle cx="252.1" cy="182.0" r="3.0" fill="#272a6c" stroke="#23234a" stroke-width="0.5"/>
<circle cx="256.1" cy="184.5" r="3.0" fill="#1c6fb8" stroke="#23234a" stroke-width="0.5"/>
<circle cx="256.1" cy="187.1" r="3.0" fill="#1c6fb8" stroke="#23234a" stroke-width="0.5"/>
<circle cx="253.9" cy="189.6" r="3.0" fill="#272a6c" stroke="#23234a" stroke-width="0.5"/>
<circle cx="253.7" cy="192.6" r="3.0" fill="#272a6c" stroke="#23234a" stroke-width="0.5"/>
<circle cx="257.0" cy="194.9" r="3.0" fill="#272a6c" stroke="#23234a" stroke-width="0.5"/>
<circle cx="256.9" cy="197.1" r="3.0" fill="#1c6fb8" stroke="#23234a" stroke-width="0.5"/>
<circle cx="254.5" cy="199.3" r="3.0" fill="#1c6fb8" stroke="#23234a" stroke-width="0.5"/>
<circle cx="254.4" cy="201.7" r="3.0" fill="#272a6c" stroke="#23234a" stroke-width="0.5"/>
<circle cx="256.0" cy="204.0" r="3.0" fill="#1c6fb8" stroke="#23234a" stroke-width="0.5"/>
<circle cx="256.1" cy="206.2" r="3.0" fill="#272a6c" stroke="#23234a" stroke-width="0.5"/>
<circle cx="256.4" cy="209.0" r="3.0" fill="#1c6fb8" stroke="#23234a" stroke-width="0.5"/>
<circle cx="254.4" cy="211.5" r="3.0" fill="#1c6fb8" stroke="#23234a" stroke-width="0.5"/>
<circle cx="255.8" cy="213.7" r="3.0" fill="#272a6c" stroke="#23234a" stroke-width="0.5"/>
<circle cx="252.4" cy="216.7" r="3.0" fill="#1c6fb8" stroke="#23234a" stroke-width="0.5"/>
<circle cx="251.8" cy="219.0" r="3.0" fill="#1c6fb8" stroke="#23234a" stroke-width="0.5"/>
<circle cx="255.7" cy="221.0" r="3.0" fill="#272a6c" stroke="#23234a" stroke-width="0.5"/>
<circle cx="253.3" cy="223.5" r="3.0" fill="#272a6c" stroke="#23234a" stroke-width="0.5"/>
<circle cx="255.3" cy="225.4" r="3.0" fill="#8a1224" stroke="#23234a" stroke-width="0.5"/>
<circle cx="256.4" cy="227.0" r="3.0" fill="#1c6fb8" stroke="#23234a" stroke-width="0.5"/>
<circle cx="252.3" cy="228.9" r="3.0" fill="#1c6fb8" stroke="#23234a" stroke-width="0.5"/>
<circle cx="253.2" cy="231.2" r="3.0" fill="#1c6fb8" stroke="#23234a" stroke-width="0.5"/>
<circle cx="256.4" cy="233.2" r="3.0" fill="#1c6fb8" stroke="#23234a" stroke-width="0.5"/>
<circle cx="252.3" cy="235.0" r="3.0" fill="#1c6fb8" stroke="#23234a" stroke-width="0.5"/>
<circle cx="186.0" cy="127.5" r="2.9" fill="#272a6c" stroke="#23234a" stroke-width="0.5"/>
<circle cx="188.5" cy="129.5" r="2.9" fill="#272a6c" stroke="#23234a" stroke-width="0.5"/>
<circle cx="245.8" cy="95.0" r="2.7" fill="#272a6c" stroke="#23234a" stroke-width="0.5"/>
<circle cx="233.2" cy="138.0" r="2.7" fill="#272a6c" stroke="#23234a" stroke-width="0.5"/>
<circle cx="270.9" cy="146.4" r="2.9" fill="#8a1224" stroke="#23234a" stroke-width="0.5"/>
<circle cx="243.7" cy="149.9" r="2.7" fill="#272a6c" stroke="#23234a" stroke-width="0.5"/>
<circle cx="249.3" cy="153.3" r="2.7" fill="#8a1224" stroke="#23234a" stroke-width="0.5"/>
<circle cx="245.8" cy="131.7" r="2.7" fill="#1c6fb8" stroke="#23234a" stroke-width="0.5"/>
<circle cx="248.6" cy="135.2" r="2.7" fill="#1c6fb8" stroke="#23234a" stroke-width="0.5"/>
<circle cx="254.2" cy="134.5" r="2.7" fill="#c6c6c6" stroke="#23234a" stroke-width="0.5"/>
<circle cx="249.3" cy="122.7" r="2.7" fill="#1b7d3b" stroke="#23234a" stroke-width="0.5"/>
<circle cx="267.1" cy="161.6" r="2.9" fill="#1b7d3b" stroke="#23234a" stroke-width="0.5"/>
<circle cx="224.7" cy="165.3" r="2.7" fill="#272a6c" stroke="#23234a" stroke-width="0.5"/>
<circle cx="261.1" cy="166.4" r="2.7" fill="#272a6c" stroke="#23234a" stroke-width="0.5"/>
<circle cx="261.4" cy="174.0" r="2.7" fill="#ec6935" stroke="#23234a" stroke-width="0.5"/>
<circle cx="265.8" cy="176.3" r="2.9" fill="#272a6c" stroke="#23234a" stroke-width="0.5"/>
<circle cx="253.5" cy="175.2" r="2.7" fill="#f6d219" stroke="#23234a" stroke-width="0.5"/>
<circle cx="265.8" cy="183.9" r="2.9" fill="#8a1224" stroke="#23234a" stroke-width="0.5"/>
<circle cx="248.8" cy="186.3" r="2.7" fill="#1c6fb8" stroke="#23234a" stroke-width="0.5"/>
<circle cx="264.0" cy="195.0" r="2.9" fill="#272a6c" stroke="#23234a" stroke-width="0.5"/>
<circle cx="268.0" cy="197.0" r="2.9" fill="#1c6fb8" stroke="#23234a" stroke-width="0.5"/>
<circle cx="271.0" cy="198.0" r="2.9" fill="#272a6c" stroke="#23234a" stroke-width="0.5"/>
<circle cx="266.0" cy="200.0" r="2.9" fill="#272a6c" stroke="#23234a" stroke-width="0.5"/>
<circle cx="236.1" cy="211.9" r="2.7" fill="#ec6935" stroke="#23234a" stroke-width="0.5"/>
<circle cx="263.0" cy="213.0" r="2.9" fill="#1c6fb8" stroke="#23234a" stroke-width="0.5"/>
<circle cx="266.0" cy="215.0" r="2.9" fill="#1c6fb8" stroke="#23234a" stroke-width="0.5"/>
<circle cx="264.0" cy="217.0" r="2.9" fill="#272a6c" stroke="#23234a" stroke-width="0.5"/>
<circle cx="261.1" cy="230.5" r="2.7" fill="#1c6fb8" stroke="#23234a" stroke-width="0.5"/>
<text x="0.5" y="276.3" font-size="10.5" text-anchor="start" fill="#111" font-weight="bold"  stroke="#111" stroke-width="0.45">b</text>
<rect x="74.4" y="286.1" width="211.8" height="7.8" fill="#e1e6f5" />
<line x1="74.4" y1="293.4" x2="286.2" y2="293.4" stroke="#d6ddf0" stroke-width="0.9" />
<text x="54.8" y="292.7" font-size="7.9" text-anchor="end" fill="#333" font-weight="normal" stroke="#333" stroke-width="0.2" >Imo</text>
<line x1="57.5" y1="290.0" x2="63.6" y2="290.0" stroke="#777" stroke-width="0.6" />
<rect x="74.4" y="293.9" width="211.8" height="7.8" fill="#dcdaea" />
<line x1="74.4" y1="301.2" x2="286.2" y2="301.2" stroke="#d2cfe3" stroke-width="0.9" />
<text x="54.8" y="300.5" font-size="7.9" text-anchor="end" fill="#333" font-weight="normal" stroke="#333" stroke-width="0.2" >Bayelsa</text>
<line x1="57.5" y1="297.8" x2="63.6" y2="297.8" stroke="#777" stroke-width="0.6" />
<rect x="74.4" y="301.7" width="211.8" height="7.8" fill="#dfeadd" />
<line x1="74.4" y1="309.0" x2="286.2" y2="309.0" stroke="#d3e1d1" stroke-width="0.9" />
<text x="54.8" y="308.3" font-size="7.9" text-anchor="end" fill="#333" font-weight="normal" stroke="#333" stroke-width="0.2" >Lagos</text>
<line x1="57.5" y1="305.6" x2="63.6" y2="305.6" stroke="#777" stroke-width="0.6" />
<rect x="74.4" y="309.5" width="211.8" height="7.8" fill="#e1e6f5" />
<line x1="74.4" y1="316.8" x2="286.2" y2="316.8" stroke="#d6ddf0" stroke-width="0.9" />
<text x="54.8" y="316.1" font-size="7.9" text-anchor="end" fill="#333" font-weight="normal" stroke="#333" stroke-width="0.2" >Anambra</text>
<line x1="57.5" y1="313.4" x2="63.6" y2="313.4" stroke="#777" stroke-width="0.6" />
<rect x="74.4" y="317.3" width="211.8" height="7.8" fill="#dcdaea" />
<line x1="74.4" y1="324.7" x2="286.2" y2="324.7" stroke="#d2cfe3" stroke-width="0.9" />
<text x="54.8" y="323.9" font-size="7.9" text-anchor="end" fill="#333" font-weight="normal" stroke="#333" stroke-width="0.2" >Edo</text>
<line x1="57.5" y1="321.2" x2="63.6" y2="321.2" stroke="#777" stroke-width="0.6" />
<rect x="74.4" y="325.2" width="211.8" height="7.8" fill="#f2ddd7" />
<line x1="74.4" y1="332.5" x2="286.2" y2="332.5" stroke="#ead0ca" stroke-width="0.9" />
<text x="54.8" y="331.8" font-size="7.9" text-anchor="end" fill="#333" font-weight="normal" stroke="#333" stroke-width="0.2" >Fct</text>
<line x1="57.5" y1="329.1" x2="63.6" y2="329.1" stroke="#777" stroke-width="0.6" />
<rect x="74.4" y="333.0" width="211.8" height="7.8" fill="#dcdaea" />
<line x1="74.4" y1="340.3" x2="286.2" y2="340.3" stroke="#d2cfe3" stroke-width="0.9" />
<text x="54.8" y="339.6" font-size="7.9" text-anchor="end" fill="#333" font-weight="normal" stroke="#333" stroke-width="0.2" >Delta</text>
<line x1="57.5" y1="336.9" x2="63.6" y2="336.9" stroke="#777" stroke-width="0.6" />
<rect x="74.4" y="340.8" width="211.8" height="7.8" fill="#dcdaea" />
<line x1="74.4" y1="348.1" x2="286.2" y2="348.1" stroke="#d2cfe3" stroke-width="0.9" />
<text x="54.8" y="347.4" font-size="7.9" text-anchor="end" fill="#333" font-weight="normal" stroke="#333" stroke-width="0.2" >Akwa Ibom</text>
<line x1="57.5" y1="344.7" x2="63.6" y2="344.7" stroke="#777" stroke-width="0.6" />
<rect x="74.4" y="348.6" width="211.8" height="7.8" fill="#e1e6f5" />
<line x1="74.4" y1="355.9" x2="286.2" y2="355.9" stroke="#d6ddf0" stroke-width="0.9" />
<text x="54.8" y="355.2" font-size="7.9" text-anchor="end" fill="#333" font-weight="normal" stroke="#333" stroke-width="0.2" >Abia</text>
<line x1="57.5" y1="352.5" x2="63.6" y2="352.5" stroke="#777" stroke-width="0.6" />
<rect x="74.4" y="356.4" width="211.8" height="7.8" fill="#e1e6f5" />
<line x1="74.4" y1="363.7" x2="286.2" y2="363.7" stroke="#d6ddf0" stroke-width="0.9" />
<text x="54.8" y="363.0" font-size="7.9" text-anchor="end" fill="#333" font-weight="normal" stroke="#333" stroke-width="0.2" >Enugu</text>
<line x1="57.5" y1="360.3" x2="63.6" y2="360.3" stroke="#777" stroke-width="0.6" />
<rect x="74.4" y="364.2" width="211.8" height="7.8" fill="#f2ddd7" />
<line x1="74.4" y1="371.5" x2="286.2" y2="371.5" stroke="#ead0ca" stroke-width="0.9" />
<text x="54.8" y="370.8" font-size="7.9" text-anchor="end" fill="#333" font-weight="normal" stroke="#333" stroke-width="0.2" >Nasarawa</text>
<line x1="57.5" y1="368.1" x2="63.6" y2="368.1" stroke="#777" stroke-width="0.6" />
<rect x="74.4" y="372.0" width="211.8" height="7.8" fill="#fdf5e1" />
<line x1="74.4" y1="379.3" x2="286.2" y2="379.3" stroke="#f6ecd2" stroke-width="0.9" />
<text x="54.8" y="378.6" font-size="7.9" text-anchor="end" fill="#333" font-weight="normal" stroke="#333" stroke-width="0.2" >Kaduna</text>
<line x1="57.5" y1="375.9" x2="63.6" y2="375.9" stroke="#777" stroke-width="0.6" />
<rect x="74.4" y="379.8" width="211.8" height="7.8" fill="#dfeadd" />
<line x1="74.4" y1="387.1" x2="286.2" y2="387.1" stroke="#d3e1d1" stroke-width="0.9" />
<text x="54.8" y="386.4" font-size="7.9" text-anchor="end" fill="#333" font-weight="normal" stroke="#333" stroke-width="0.2" >Ogun</text>
<line x1="57.5" y1="383.7" x2="63.6" y2="383.7" stroke="#777" stroke-width="0.6" />
<rect x="74.4" y="387.6" width="211.8" height="7.8" fill="#e1e6f5" />
<line x1="74.4" y1="394.9" x2="286.2" y2="394.9" stroke="#d6ddf0" stroke-width="0.9" />
<text x="54.8" y="394.2" font-size="7.9" text-anchor="end" fill="#333" font-weight="normal" stroke="#333" stroke-width="0.2" >Ebonyi</text>
<line x1="57.5" y1="391.5" x2="63.6" y2="391.5" stroke="#777" stroke-width="0.6" />
<rect x="74.4" y="395.4" width="211.8" height="7.8" fill="#dcdaea" />
<line x1="74.4" y1="402.8" x2="286.2" y2="402.8" stroke="#d2cfe3" stroke-width="0.9" />
<text x="54.8" y="402.0" font-size="7.9" text-anchor="end" fill="#333" font-weight="normal" stroke="#333" stroke-width="0.2" >Rivers</text>
<line x1="57.5" y1="399.3" x2="63.6" y2="399.3" stroke="#777" stroke-width="0.6" />
<rect x="74.4" y="403.2" width="211.8" height="7.8" fill="#dfeadd" />
<line x1="74.4" y1="410.6" x2="286.2" y2="410.6" stroke="#d3e1d1" stroke-width="0.9" />
<text x="54.8" y="409.9" font-size="7.9" text-anchor="end" fill="#333" font-weight="normal" stroke="#333" stroke-width="0.2" >Oyo</text>
<line x1="57.5" y1="407.2" x2="63.6" y2="407.2" stroke="#777" stroke-width="0.6" />
<rect x="74.4" y="411.1" width="211.8" height="7.8" fill="#fde9dd" />
<line x1="74.4" y1="418.4" x2="286.2" y2="418.4" stroke="#f6dccf" stroke-width="0.9" />
<text x="54.8" y="417.7" font-size="7.9" text-anchor="end" fill="#333" font-weight="normal" stroke="#333" stroke-width="0.2" >Borno</text>
<line x1="57.5" y1="415.0" x2="63.6" y2="415.0" stroke="#777" stroke-width="0.6" />
<rect x="74.4" y="418.9" width="211.8" height="7.8" fill="#e1e6f5" />
<line x1="74.4" y1="426.2" x2="286.2" y2="426.2" stroke="#d6ddf0" stroke-width="0.9" />
<text x="54.8" y="425.5" font-size="7.9" text-anchor="end" fill="#333" font-weight="normal" stroke="#333" stroke-width="0.2" >Enugu</text>
<line x1="57.5" y1="422.8" x2="63.6" y2="422.8" stroke="#777" stroke-width="0.6" />
<rect x="74.4" y="426.7" width="211.8" height="7.8" fill="#f2ddd7" />
<line x1="74.4" y1="434.0" x2="286.2" y2="434.0" stroke="#ead0ca" stroke-width="0.9" />
<text x="54.8" y="433.3" font-size="7.9" text-anchor="end" fill="#333" font-weight="normal" stroke="#333" stroke-width="0.2" >Plateau</text>
<line x1="57.5" y1="430.6" x2="63.6" y2="430.6" stroke="#777" stroke-width="0.6" />
<rect x="74.4" y="434.5" width="211.8" height="7.8" fill="#f5f8f4" />
<line x1="74.4" y1="441.8" x2="286.2" y2="441.8" stroke="#eaefe9" stroke-width="0.9" />
<text x="54.8" y="441.1" font-size="7.9" text-anchor="end" fill="#333" font-weight="normal" stroke="#333" stroke-width="0.2" >Nigeria</text>
<line x1="57.5" y1="438.4" x2="63.6" y2="438.4" stroke="#777" stroke-width="0.6" />
<rect x="74.4" y="442.3" width="211.8" height="7.8" fill="#dfeadd" />
<line x1="74.4" y1="449.6" x2="286.2" y2="449.6" stroke="#d3e1d1" stroke-width="0.9" />
<text x="54.8" y="448.9" font-size="7.9" text-anchor="end" fill="#333" font-weight="normal" stroke="#333" stroke-width="0.2" >Oyo</text>
<line x1="57.5" y1="446.2" x2="63.6" y2="446.2" stroke="#777" stroke-width="0.6" />
<rect x="74.4" y="450.1" width="211.8" height="7.8" fill="#dcdaea" />
<line x1="74.4" y1="457.4" x2="286.2" y2="457.4" stroke="#d2cfe3" stroke-width="0.9" />
<text x="54.8" y="456.7" font-size="7.9" text-anchor="end" fill="#333" font-weight="normal" stroke="#333" stroke-width="0.2" >Delta</text>
<line x1="57.5" y1="454.0" x2="63.6" y2="454.0" stroke="#777" stroke-width="0.6" />
<rect x="74.4" y="457.9" width="211.8" height="7.8" fill="#dfeadd" />
<line x1="74.4" y1="465.2" x2="286.2" y2="465.2" stroke="#d3e1d1" stroke-width="0.9" />
<text x="54.8" y="464.5" font-size="7.9" text-anchor="end" fill="#333" font-weight="normal" stroke="#333" stroke-width="0.2" >Ogun</text>
<line x1="57.5" y1="461.8" x2="63.6" y2="461.8" stroke="#777" stroke-width="0.6" />
<rect x="74.4" y="465.7" width="211.8" height="7.8" fill="#e1e6f5" />
<line x1="74.4" y1="473.0" x2="286.2" y2="473.0" stroke="#d6ddf0" stroke-width="0.9" />
<text x="54.8" y="472.3" font-size="7.9" text-anchor="end" fill="#333" font-weight="normal" stroke="#333" stroke-width="0.2" >Abia</text>
<line x1="57.5" y1="469.6" x2="63.6" y2="469.6" stroke="#777" stroke-width="0.6" />
<rect x="74.4" y="473.5" width="211.8" height="7.8" fill="#f2ddd7" />
<line x1="74.4" y1="480.9" x2="286.2" y2="480.9" stroke="#ead0ca" stroke-width="0.9" />
<text x="54.8" y="480.1" font-size="7.9" text-anchor="end" fill="#333" font-weight="normal" stroke="#333" stroke-width="0.2" >Kogi</text>
<line x1="57.5" y1="477.4" x2="63.6" y2="477.4" stroke="#777" stroke-width="0.6" />
<rect x="74.4" y="481.4" width="211.8" height="7.8" fill="#e1e6f5" />
<line x1="74.4" y1="488.7" x2="286.2" y2="488.7" stroke="#d6ddf0" stroke-width="0.9" />
<text x="54.8" y="488.0" font-size="7.9" text-anchor="end" fill="#333" font-weight="normal" stroke="#333" stroke-width="0.2" >Enugu</text>
<line x1="57.5" y1="485.3" x2="63.6" y2="485.3" stroke="#777" stroke-width="0.6" />
<rect x="74.4" y="489.2" width="211.8" height="7.8" fill="#dcdaea" />
<line x1="74.4" y1="496.5" x2="286.2" y2="496.5" stroke="#d2cfe3" stroke-width="0.9" />
<text x="54.8" y="495.8" font-size="7.9" text-anchor="end" fill="#333" font-weight="normal" stroke="#333" stroke-width="0.2" >Delta</text>
<line x1="57.5" y1="493.1" x2="63.6" y2="493.1" stroke="#777" stroke-width="0.6" />
<line x1="74.4" y1="275.5" x2="74.4" y2="507.0" stroke="#777" stroke-width="0.6" stroke-dasharray="1,1.2"/>
<line x1="121.4" y1="275.5" x2="121.4" y2="507.0" stroke="#777" stroke-width="0.6" stroke-dasharray="1,1.2"/>
<line x1="168.4" y1="275.5" x2="168.4" y2="507.0" stroke="#777" stroke-width="0.6" stroke-dasharray="1,1.2"/>
<line x1="215.4" y1="275.5" x2="215.4" y2="507.0" stroke="#777" stroke-width="0.6" stroke-dasharray="1,1.2"/>
<line x1="262.4" y1="275.5" x2="262.4" y2="507.0" stroke="#777" stroke-width="0.6" stroke-dasharray="1,1.2"/>
<line x1="63.6" y1="275.5" x2="63.6" y2="507.3" stroke="#666" stroke-width="0.8" />
<line x1="63.6" y1="507.3" x2="291.0" y2="507.3" stroke="#666" stroke-width="0.8" />
<line x1="65.0" y1="507.3" x2="65.0" y2="509.8" stroke="#666" stroke-width="0.6" />
<line x1="69.7" y1="507.3" x2="69.7" y2="509.8" stroke="#666" stroke-width="0.6" />
<line x1="74.4" y1="507.3" x2="74.4" y2="511.8" stroke="#666" stroke-width="0.6" />
<line x1="79.1" y1="507.3" x2="79.1" y2="509.8" stroke="#666" stroke-width="0.6" />
<line x1="83.8" y1="507.3" x2="83.8" y2="509.8" stroke="#666" stroke-width="0.6" />
<line x1="88.5" y1="507.3" x2="88.5" y2="509.8" stroke="#666" stroke-width="0.6" />
<line x1="93.2" y1="507.3" x2="93.2" y2="509.8" stroke="#666" stroke-width="0.6" />
<line x1="97.9" y1="507.3" x2="97.9" y2="509.8" stroke="#666" stroke-width="0.6" />
<line x1="102.6" y1="507.3" x2="102.6" y2="509.8" stroke="#666" stroke-width="0.6" />
<line x1="107.3" y1="507.3" x2="107.3" y2="509.8" stroke="#666" stroke-width="0.6" />
<line x1="112.0" y1="507.3" x2="112.0" y2="509.8" stroke="#666" stroke-width="0.6" />
<line x1="116.7" y1="507.3" x2="116.7" y2="509.8" stroke="#666" stroke-width="0.6" />
<line x1="121.4" y1="507.3" x2="121.4" y2="511.8" stroke="#666" stroke-width="0.6" />
<line x1="126.1" y1="507.3" x2="126.1" y2="509.8" stroke="#666" stroke-width="0.6" />
<line x1="130.8" y1="507.3" x2="130.8" y2="509.8" stroke="#666" stroke-width="0.6" />
<line x1="135.5" y1="507.3" x2="135.5" y2="509.8" stroke="#666" stroke-width="0.6" />
<line x1="140.2" y1="507.3" x2="140.2" y2="509.8" stroke="#666" stroke-width="0.6" />
<line x1="144.9" y1="507.3" x2="144.9" y2="509.8" stroke="#666" stroke-width="0.6" />
<line x1="149.6" y1="507.3" x2="149.6" y2="509.8" stroke="#666" stroke-width="0.6" />
<line x1="154.3" y1="507.3" x2="154.3" y2="509.8" stroke="#666" stroke-width="0.6" />
<line x1="159.0" y1="507.3" x2="159.0" y2="509.8" stroke="#666" stroke-width="0.6" />
<line x1="163.7" y1="507.3" x2="163.7" y2="509.8" stroke="#666" stroke-width="0.6" />
<line x1="168.4" y1="507.3" x2="168.4" y2="511.8" stroke="#666" stroke-width="0.6" />
<line x1="173.1" y1="507.3" x2="173.1" y2="509.8" stroke="#666" stroke-width="0.6" />
<line x1="177.8" y1="507.3" x2="177.8" y2="509.8" stroke="#666" stroke-width="0.6" />
<line x1="182.5" y1="507.3" x2="182.5" y2="509.8" stroke="#666" stroke-width="0.6" />
<line x1="187.2" y1="507.3" x2="187.2" y2="509.8" stroke="#666" stroke-width="0.6" />
<line x1="191.9" y1="507.3" x2="191.9" y2="509.8" stroke="#666" stroke-width="0.6" />
<line x1="196.6" y1="507.3" x2="196.6" y2="509.8" stroke="#666" stroke-width="0.6" />
<line x1="201.3" y1="507.3" x2="201.3" y2="509.8" stroke="#666" stroke-width="0.6" />
<line x1="206.0" y1="507.3" x2="206.0" y2="509.8" stroke="#666" stroke-width="0.6" />
<line x1="210.7" y1="507.3" x2="210.7" y2="509.8" stroke="#666" stroke-width="0.6" />
<line x1="215.4" y1="507.3" x2="215.4" y2="511.8" stroke="#666" stroke-width="0.6" />
<line x1="220.1" y1="507.3" x2="220.1" y2="509.8" stroke="#666" stroke-width="0.6" />
<line x1="224.8" y1="507.3" x2="224.8" y2="509.8" stroke="#666" stroke-width="0.6" />
<line x1="229.5" y1="507.3" x2="229.5" y2="509.8" stroke="#666" stroke-width="0.6" />
<line x1="234.2" y1="507.3" x2="234.2" y2="509.8" stroke="#666" stroke-width="0.6" />
<line x1="238.9" y1="507.3" x2="238.9" y2="509.8" stroke="#666" stroke-width="0.6" />
<line x1="243.6" y1="507.3" x2="243.6" y2="509.8" stroke="#666" stroke-width="0.6" />
<line x1="248.3" y1="507.3" x2="248.3" y2="509.8" stroke="#666" stroke-width="0.6" />
<line x1="253.0" y1="507.3" x2="253.0" y2="509.8" stroke="#666" stroke-width="0.6" />
<line x1="257.7" y1="507.3" x2="257.7" y2="509.8" stroke="#666" stroke-width="0.6" />
<line x1="262.4" y1="507.3" x2="262.4" y2="511.8" stroke="#666" stroke-width="0.6" />
<line x1="267.1" y1="507.3" x2="267.1" y2="509.8" stroke="#666" stroke-width="0.6" />
<line x1="271.8" y1="507.3" x2="271.8" y2="509.8" stroke="#666" stroke-width="0.6" />
<line x1="276.5" y1="507.3" x2="276.5" y2="509.8" stroke="#666" stroke-width="0.6" />
<line x1="281.2" y1="507.3" x2="281.2" y2="509.8" stroke="#666" stroke-width="0.6" />
<line x1="285.9" y1="507.3" x2="285.9" y2="509.8" stroke="#666" stroke-width="0.6" />
<text x="74.4" y="523.1" font-size="8.1" text-anchor="middle" fill="#333" font-weight="normal" stroke="#333" stroke-width="0.2" >0</text>
<text x="121.4" y="523.1" font-size="8.1" text-anchor="middle" fill="#333" font-weight="normal" stroke="#333" stroke-width="0.2" >10</text>
<text x="168.4" y="523.1" font-size="8.1" text-anchor="middle" fill="#333" font-weight="normal" stroke="#333" stroke-width="0.2" >20</text>
<text x="215.4" y="523.1" font-size="8.1" text-anchor="middle" fill="#333" font-weight="normal" stroke="#333" stroke-width="0.2" >30</text>
<text x="262.4" y="523.1" font-size="8.1" text-anchor="middle" fill="#333" font-weight="normal" stroke="#333" stroke-width="0.2" >40</text>
<text x="180.3" y="538.3" font-size="8.1" text-anchor="middle" fill="#333" font-weight="normal" stroke="#333" stroke-width="0.2" >Number of introductions</text>
<text x="0.0" y="0.0" font-size="8" text-anchor="middle" fill="#333" font-weight="normal" stroke="#333" stroke-width="0.2" transform="translate(7.2,391.5) rotate(-90)">End location</text>
<line x1="88.5" y1="290.0" x2="183.4" y2="290.0" stroke="#555" stroke-width="0.8" />
<line x1="183.4" y1="287.8" x2="183.4" y2="292.2" stroke="#555" stroke-width="0.7" />
<line x1="88.5" y1="287.8" x2="88.5" y2="292.2" stroke="#555" stroke-width="0.7" />
<line x1="109.7" y1="290.0" x2="142.6" y2="290.0" stroke="#2b4d98" stroke-width="1.6" />
<ellipse cx="115.8" cy="290.0" rx="1.85" ry="3.70" fill="#2b4d98" stroke="#18224a" stroke-width="0.45"/>
<ellipse cx="121.4" cy="290.0" rx="2.22" ry="4.44" fill="#2b4d98" stroke="#18224a" stroke-width="0.45"/>
<ellipse cx="126.1" cy="290.0" rx="2.22" ry="4.44" fill="#2b4d98" stroke="#18224a" stroke-width="0.45"/>
<ellipse cx="130.8" cy="290.0" rx="1.85" ry="3.70" fill="#2b4d98" stroke="#18224a" stroke-width="0.45"/>
<ellipse cx="136.0" cy="290.0" rx="1.48" ry="2.96" fill="#2b4d98" stroke="#18224a" stroke-width="0.45"/>
<ellipse cx="109.7" cy="290.0" rx="1.02" ry="1.48" fill="#2b4d98" stroke="#18224a" stroke-width="0.45"/>
<ellipse cx="142.6" cy="290.0" rx="1.02" ry="1.48" fill="#2b4d98" stroke="#18224a" stroke-width="0.45"/>
<line x1="145.1" y1="290.0" x2="146.5" y2="290.0" stroke="#333" stroke-width="1.1" />
<line x1="148.2" y1="290.0" x2="149.7" y2="290.0" stroke="#333" stroke-width="1.1" />
<line x1="151.5" y1="290.0" x2="152.9" y2="290.0" stroke="#333" stroke-width="1.1" />
<line x1="93.2" y1="297.8" x2="173.1" y2="297.8" stroke="#888" stroke-width="0.8" />
<line x1="173.1" y1="295.6" x2="173.1" y2="300.0" stroke="#888" stroke-width="0.7" />
<line x1="93.2" y1="295.6" x2="93.2" y2="300.0" stroke="#888" stroke-width="0.7" />
<line x1="115.8" y1="297.8" x2="136.4" y2="297.8" stroke="#2b4d98" stroke-width="1.6" />
<ellipse cx="121.4" cy="297.8" rx="1.85" ry="3.70" fill="#2b4d98" stroke="#18224a" stroke-width="0.45"/>
<ellipse cx="126.1" cy="297.8" rx="1.85" ry="3.70" fill="#2b4d98" stroke="#18224a" stroke-width="0.45"/>
<ellipse cx="130.8" cy="297.8" rx="1.48" ry="2.96" fill="#2b4d98" stroke="#18224a" stroke-width="0.45"/>
<ellipse cx="115.8" cy="297.8" rx="1.02" ry="1.48" fill="#2b4d98" stroke="#18224a" stroke-width="0.45"/>
<ellipse cx="136.4" cy="297.8" rx="1.02" ry="1.48" fill="#2b4d98" stroke="#18224a" stroke-width="0.45"/>
<line x1="138.9" y1="297.8" x2="140.3" y2="297.8" stroke="#333" stroke-width="1.1" />
<line x1="142.1" y1="297.8" x2="143.5" y2="297.8" stroke="#333" stroke-width="1.1" />
<line x1="145.3" y1="297.8" x2="146.7" y2="297.8" stroke="#333" stroke-width="1.1" />
<line x1="83.8" y1="305.6" x2="173.1" y2="305.6" stroke="#888" stroke-width="0.8" />
<line x1="173.1" y1="303.4" x2="173.1" y2="307.8" stroke="#888" stroke-width="0.7" />
<line x1="83.8" y1="303.4" x2="83.8" y2="307.8" stroke="#888" stroke-width="0.7" />
<line x1="109.7" y1="305.6" x2="141.6" y2="305.6" stroke="#2b4d98" stroke-width="1.6" />
<ellipse cx="115.8" cy="305.6" rx="1.85" ry="3.70" fill="#2b4d98" stroke="#18224a" stroke-width="0.45"/>
<ellipse cx="121.4" cy="305.6" rx="1.85" ry="3.70" fill="#2b4d98" stroke="#18224a" stroke-width="0.45"/>
<ellipse cx="126.1" cy="305.6" rx="1.85" ry="3.70" fill="#2b4d98" stroke="#18224a" stroke-width="0.45"/>
<ellipse cx="130.8" cy="305.6" rx="1.85" ry="3.70" fill="#2b4d98" stroke="#18224a" stroke-width="0.45"/>
<ellipse cx="136.0" cy="305.6" rx="1.48" ry="2.96" fill="#2b4d98" stroke="#18224a" stroke-width="0.45"/>
<ellipse cx="141.6" cy="305.6" rx="1.02" ry="1.48" fill="#2b4d98" stroke="#18224a" stroke-width="0.45"/>
<ellipse cx="109.7" cy="305.6" rx="1.02" ry="1.48" fill="#2b4d98" stroke="#18224a" stroke-width="0.45"/>
<line x1="144.1" y1="305.6" x2="145.5" y2="305.6" stroke="#333" stroke-width="1.1" />
<line x1="147.3" y1="305.6" x2="148.7" y2="305.6" stroke="#333" stroke-width="1.1" />
<line x1="150.5" y1="305.6" x2="151.9" y2="305.6" stroke="#333" stroke-width="1.1" />
<line x1="79.1" y1="313.4" x2="126.1" y2="313.4" stroke="#444" stroke-width="0.8" />
<line x1="126.1" y1="311.2" x2="126.1" y2="315.6" stroke="#444" stroke-width="0.7" />
<line x1="79.1" y1="311.2" x2="79.1" y2="315.6" stroke="#444" stroke-width="0.7" />
<line x1="97.4" y1="313.4" x2="107.3" y2="313.4" stroke="#2c3f86" stroke-width="1.6" />
<ellipse cx="97.4" cy="313.4" rx="1.85" ry="3.70" fill="#2c3f86" stroke="#18224a" stroke-width="0.45"/>
<ellipse cx="102.1" cy="313.4" rx="1.85" ry="3.70" fill="#2c3f86" stroke="#18224a" stroke-width="0.45"/>
<ellipse cx="107.3" cy="313.4" rx="1.02" ry="1.85" fill="#2c3f86" stroke="#18224a" stroke-width="0.45"/>
<line x1="109.8" y1="313.4" x2="111.2" y2="313.4" stroke="#333" stroke-width="1.1" />
<line x1="113.0" y1="313.4" x2="114.4" y2="313.4" stroke="#333" stroke-width="1.1" />
<line x1="116.2" y1="313.4" x2="117.6" y2="313.4" stroke="#333" stroke-width="1.1" />
<line x1="74.4" y1="321.2" x2="135.5" y2="321.2" stroke="#333" stroke-width="0.8" />
<line x1="135.5" y1="319.0" x2="135.5" y2="323.4" stroke="#333" stroke-width="0.7" />
<line x1="92.7" y1="321.2" x2="112.0" y2="321.2" stroke="#2c3f86" stroke-width="1.6" />
<ellipse cx="92.7" cy="321.2" rx="1.02" ry="1.85" fill="#2c3f86" stroke="#18224a" stroke-width="0.45"/>
<ellipse cx="97.4" cy="321.2" rx="1.85" ry="3.70" fill="#2c3f86" stroke="#18224a" stroke-width="0.45"/>
<ellipse cx="102.1" cy="321.2" rx="1.85" ry="3.70" fill="#2c3f86" stroke="#18224a" stroke-width="0.45"/>
<ellipse cx="107.3" cy="321.2" rx="1.11" ry="2.22" fill="#2c3f86" stroke="#18224a" stroke-width="0.45"/>
<ellipse cx="112.0" cy="321.2" rx="1.02" ry="1.11" fill="#2c3f86" stroke="#18224a" stroke-width="0.45"/>
<line x1="114.5" y1="321.2" x2="115.9" y2="321.2" stroke="#333" stroke-width="1.1" />
<line x1="117.7" y1="321.2" x2="119.1" y2="321.2" stroke="#333" stroke-width="1.1" />
<line x1="120.9" y1="321.2" x2="122.3" y2="321.2" stroke="#333" stroke-width="1.1" />
<line x1="74.4" y1="329.1" x2="135.5" y2="329.1" stroke="#333" stroke-width="0.8" />
<line x1="135.5" y1="326.9" x2="135.5" y2="331.3" stroke="#333" stroke-width="0.7" />
<line x1="97.4" y1="329.1" x2="112.0" y2="329.1" stroke="#2c3f86" stroke-width="1.6" />
<ellipse cx="97.4" cy="329.1" rx="1.85" ry="3.70" fill="#2c3f86" stroke="#18224a" stroke-width="0.45"/>
<ellipse cx="102.1" cy="329.1" rx="1.85" ry="3.70" fill="#2c3f86" stroke="#18224a" stroke-width="0.45"/>
<ellipse cx="107.3" cy="329.1" rx="1.11" ry="2.22" fill="#2c3f86" stroke="#18224a" stroke-width="0.45"/>
<ellipse cx="112.0" cy="329.1" rx="1.02" ry="1.11" fill="#2c3f86" stroke="#18224a" stroke-width="0.45"/>
<line x1="114.5" y1="329.1" x2="115.9" y2="329.1" stroke="#333" stroke-width="1.1" />
<line x1="117.7" y1="329.1" x2="119.1" y2="329.1" stroke="#333" stroke-width="1.1" />
<line x1="120.9" y1="329.1" x2="122.3" y2="329.1" stroke="#333" stroke-width="1.1" />
<line x1="74.4" y1="336.9" x2="149.6" y2="336.9" stroke="#888" stroke-width="0.8" />
<line x1="149.6" y1="334.7" x2="149.6" y2="339.1" stroke="#888" stroke-width="0.7" />
<line x1="102.1" y1="336.9" x2="112.0" y2="336.9" stroke="#2c3f86" stroke-width="1.6" />
<ellipse cx="102.1" cy="336.9" rx="1.85" ry="3.70" fill="#2c3f86" stroke="#18224a" stroke-width="0.45"/>
<ellipse cx="107.3" cy="336.9" rx="1.29" ry="2.59" fill="#2c3f86" stroke="#18224a" stroke-width="0.45"/>
<ellipse cx="112.0" cy="336.9" rx="1.02" ry="1.11" fill="#2c3f86" stroke="#18224a" stroke-width="0.45"/>
<line x1="114.5" y1="336.9" x2="115.9" y2="336.9" stroke="#333" stroke-width="1.1" />
<line x1="117.7" y1="336.9" x2="119.1" y2="336.9" stroke="#333" stroke-width="1.1" />
<line x1="120.9" y1="336.9" x2="122.3" y2="336.9" stroke="#333" stroke-width="1.1" />
<line x1="74.4" y1="344.7" x2="135.5" y2="344.7" stroke="#444" stroke-width="0.8" />
<line x1="135.5" y1="342.5" x2="135.5" y2="346.9" stroke="#444" stroke-width="0.7" />
<line x1="102.1" y1="344.7" x2="107.3" y2="344.7" stroke="#2c3f86" stroke-width="1.6" />
<ellipse cx="102.1" cy="344.7" rx="1.85" ry="3.70" fill="#2c3f86" stroke="#18224a" stroke-width="0.45"/>
<ellipse cx="107.3" cy="344.7" rx="1.29" ry="2.59" fill="#2c3f86" stroke="#18224a" stroke-width="0.45"/>
<line x1="109.8" y1="344.7" x2="111.2" y2="344.7" stroke="#333" stroke-width="1.1" />
<line x1="113.0" y1="344.7" x2="114.4" y2="344.7" stroke="#333" stroke-width="1.1" />
<line x1="116.2" y1="344.7" x2="117.6" y2="344.7" stroke="#333" stroke-width="1.1" />
<line x1="74.4" y1="352.5" x2="130.8" y2="352.5" stroke="#444" stroke-width="0.8" />
<line x1="130.8" y1="350.3" x2="130.8" y2="354.7" stroke="#444" stroke-width="0.7" />
<line x1="74.4" y1="352.5" x2="107.3" y2="352.5" stroke="#2b4d98" stroke-width="1.2" />
<ellipse cx="88.0" cy="352.5" rx="1.12" ry="2.64" fill="#2b4d98" stroke="#18224a" stroke-width="0.45"/>
<ellipse cx="92.7" cy="352.5" rx="1.40" ry="3.30" fill="#2b4d98" stroke="#18224a" stroke-width="0.45"/>
<ellipse cx="97.4" cy="352.5" rx="1.40" ry="3.30" fill="#2b4d98" stroke="#18224a" stroke-width="0.45"/>
<ellipse cx="102.1" cy="352.5" rx="0.84" ry="1.98" fill="#2b4d98" stroke="#18224a" stroke-width="0.45"/>
<ellipse cx="107.3" cy="352.5" rx="0.77" ry="0.99" fill="#2b4d98" stroke="#18224a" stroke-width="0.45"/>
<ellipse cx="74.4" cy="352.5" rx="0.77" ry="0.99" fill="#2b4d98" stroke="#18224a" stroke-width="0.45"/>
<line x1="109.8" y1="352.5" x2="111.2" y2="352.5" stroke="#333" stroke-width="1.1" />
<line x1="113.0" y1="352.5" x2="114.4" y2="352.5" stroke="#333" stroke-width="1.1" />
<line x1="116.2" y1="352.5" x2="117.6" y2="352.5" stroke="#333" stroke-width="1.1" />
<line x1="74.4" y1="360.3" x2="121.4" y2="360.3" stroke="#444" stroke-width="0.8" />
<line x1="121.4" y1="358.1" x2="121.4" y2="362.5" stroke="#444" stroke-width="0.7" />
<line x1="74.4" y1="360.3" x2="92.7" y2="360.3" stroke="#2b4d98" stroke-width="1.2" />
<ellipse cx="74.4" cy="360.3" rx="1.12" ry="2.64" fill="#2b4d98" stroke="#18224a" stroke-width="0.45"/>
<ellipse cx="88.0" cy="360.3" rx="1.40" ry="3.30" fill="#2b4d98" stroke="#18224a" stroke-width="0.45"/>
<ellipse cx="92.7" cy="360.3" rx="0.77" ry="1.65" fill="#2b4d98" stroke="#18224a" stroke-width="0.45"/>
<line x1="95.2" y1="360.3" x2="96.6" y2="360.3" stroke="#333" stroke-width="1.1" />
<line x1="98.4" y1="360.3" x2="99.8" y2="360.3" stroke="#333" stroke-width="1.1" />
<line x1="101.6" y1="360.3" x2="103.0" y2="360.3" stroke="#333" stroke-width="1.1" />
<line x1="74.4" y1="368.1" x2="112.0" y2="368.1" stroke="#999" stroke-width="0.8" />
<line x1="112.0" y1="365.9" x2="112.0" y2="370.3" stroke="#999" stroke-width="0.7" />
<line x1="74.4" y1="368.1" x2="97.9" y2="368.1" stroke="#342a6a" stroke-width="1.2" />
<ellipse cx="74.4" cy="368.1" rx="1.12" ry="2.64" fill="#342a6a" stroke="#18224a" stroke-width="0.45"/>
<ellipse cx="88.0" cy="368.1" rx="1.40" ry="3.30" fill="#342a6a" stroke="#18224a" stroke-width="0.45"/>
<ellipse cx="92.7" cy="368.1" rx="1.12" ry="2.64" fill="#342a6a" stroke="#18224a" stroke-width="0.45"/>
<ellipse cx="97.9" cy="368.1" rx="0.77" ry="0.99" fill="#342a6a" stroke="#18224a" stroke-width="0.45"/>
<line x1="100.4" y1="368.1" x2="101.8" y2="368.1" stroke="#333" stroke-width="1.1" />
<line x1="103.6" y1="368.1" x2="105.0" y2="368.1" stroke="#333" stroke-width="1.1" />
<line x1="106.8" y1="368.1" x2="108.2" y2="368.1" stroke="#333" stroke-width="1.1" />
<line x1="74.4" y1="375.9" x2="107.3" y2="375.9" stroke="#999" stroke-width="0.8" />
<line x1="107.3" y1="373.7" x2="107.3" y2="378.1" stroke="#999" stroke-width="0.7" />
<line x1="74.4" y1="375.9" x2="88.5" y2="375.9" stroke="#2a6a3a" stroke-width="1.2" />
<ellipse cx="74.4" cy="375.9" rx="0.77" ry="1.32" fill="#2a6a3a" stroke="#18224a" stroke-width="0.45"/>
<ellipse cx="83.8" cy="375.9" rx="1.40" ry="3.30" fill="#2a6a3a" stroke="#18224a" stroke-width="0.45"/>
<ellipse cx="88.5" cy="375.9" rx="0.77" ry="1.32" fill="#2a6a3a" stroke="#18224a" stroke-width="0.45"/>
<line x1="91.0" y1="375.9" x2="92.4" y2="375.9" stroke="#333" stroke-width="1.1" />
<line x1="94.2" y1="375.9" x2="95.6" y2="375.9" stroke="#333" stroke-width="1.1" />
<line x1="97.4" y1="375.9" x2="98.8" y2="375.9" stroke="#333" stroke-width="1.1" />
<line x1="74.4" y1="383.7" x2="135.5" y2="383.7" stroke="#444" stroke-width="0.8" />
<line x1="135.5" y1="381.5" x2="135.5" y2="385.9" stroke="#444" stroke-width="0.7" />
<line x1="74.4" y1="383.7" x2="93.2" y2="383.7" stroke="#2b4d98" stroke-width="1.2" />
<ellipse cx="74.4" cy="383.7" rx="1.12" ry="2.64" fill="#2b4d98" stroke="#18224a" stroke-width="0.45"/>
<ellipse cx="79.1" cy="383.7" rx="0.84" ry="1.98" fill="#2b4d98" stroke="#18224a" stroke-width="0.45"/>
<ellipse cx="83.8" cy="383.7" rx="1.12" ry="2.64" fill="#2b4d98" stroke="#18224a" stroke-width="0.45"/>
<ellipse cx="88.5" cy="383.7" rx="1.12" ry="2.64" fill="#2b4d98" stroke="#18224a" stroke-width="0.45"/>
<ellipse cx="93.2" cy="383.7" rx="0.77" ry="1.32" fill="#2b4d98" stroke="#18224a" stroke-width="0.45"/>
<line x1="95.7" y1="383.7" x2="97.1" y2="383.7" stroke="#333" stroke-width="1.1" />
<line x1="98.9" y1="383.7" x2="100.3" y2="383.7" stroke="#333" stroke-width="1.1" />
<line x1="102.1" y1="383.7" x2="103.5" y2="383.7" stroke="#333" stroke-width="1.1" />
<line x1="74.4" y1="391.5" x2="107.3" y2="391.5" stroke="#444" stroke-width="0.8" />
<line x1="107.3" y1="389.3" x2="107.3" y2="393.7" stroke="#444" stroke-width="0.7" />
<line x1="74.4" y1="391.5" x2="88.5" y2="391.5" stroke="#2b4d98" stroke-width="1.2" />
<ellipse cx="74.4" cy="391.5" rx="0.77" ry="0.99" fill="#2b4d98" stroke="#18224a" stroke-width="0.45"/>
<ellipse cx="83.8" cy="391.5" rx="1.40" ry="3.30" fill="#2b4d98" stroke="#18224a" stroke-width="0.45"/>
<ellipse cx="88.5" cy="391.5" rx="0.77" ry="1.32" fill="#2b4d98" stroke="#18224a" stroke-width="0.45"/>
<line x1="91.0" y1="391.5" x2="92.4" y2="391.5" stroke="#333" stroke-width="1.1" />
<line x1="94.2" y1="391.5" x2="95.6" y2="391.5" stroke="#333" stroke-width="1.1" />
<line x1="97.4" y1="391.5" x2="98.8" y2="391.5" stroke="#333" stroke-width="1.1" />
<line x1="74.4" y1="399.3" x2="126.1" y2="399.3" stroke="#444" stroke-width="0.8" />
<line x1="126.1" y1="397.1" x2="126.1" y2="401.5" stroke="#444" stroke-width="0.7" />
<line x1="74.4" y1="399.3" x2="93.2" y2="399.3" stroke="#2e6ab0" stroke-width="1.2" />
<ellipse cx="79.1" cy="399.3" rx="1.40" ry="3.30" fill="#2e6ab0" stroke="#18224a" stroke-width="0.45"/>
<ellipse cx="83.8" cy="399.3" rx="1.26" ry="2.97" fill="#2e6ab0" stroke="#18224a" stroke-width="0.45"/>
<ellipse cx="88.5" cy="399.3" rx="0.98" ry="2.31" fill="#2e6ab0" stroke="#18224a" stroke-width="0.45"/>
<ellipse cx="93.2" cy="399.3" rx="0.77" ry="1.65" fill="#2e6ab0" stroke="#18224a" stroke-width="0.45"/>
<ellipse cx="74.4" cy="399.3" rx="0.77" ry="1.32" fill="#2e6ab0" stroke="#18224a" stroke-width="0.45"/>
<line x1="95.7" y1="399.3" x2="97.1" y2="399.3" stroke="#333" stroke-width="1.1" />
<line x1="98.9" y1="399.3" x2="100.3" y2="399.3" stroke="#333" stroke-width="1.1" />
<line x1="102.1" y1="399.3" x2="103.5" y2="399.3" stroke="#333" stroke-width="1.1" />
<line x1="74.4" y1="407.2" x2="112.0" y2="407.2" stroke="#999" stroke-width="0.8" />
<line x1="112.0" y1="405.0" x2="112.0" y2="409.4" stroke="#999" stroke-width="0.7" />
<line x1="83.8" y1="407.2" x2="88.5" y2="407.2" stroke="#2c3f86" stroke-width="1.2" />
<ellipse cx="83.8" cy="407.2" rx="1.40" ry="3.30" fill="#2c3f86" stroke="#18224a" stroke-width="0.45"/>
<ellipse cx="88.5" cy="407.2" rx="0.77" ry="1.65" fill="#2c3f86" stroke="#18224a" stroke-width="0.45"/>
<line x1="91.0" y1="407.2" x2="92.4" y2="407.2" stroke="#333" stroke-width="1.1" />
<line x1="94.2" y1="407.2" x2="95.6" y2="407.2" stroke="#333" stroke-width="1.1" />
<line x1="97.4" y1="407.2" x2="98.8" y2="407.2" stroke="#333" stroke-width="1.1" />
<line x1="74.4" y1="415.0" x2="121.4" y2="415.0" stroke="#777" stroke-width="0.8" />
<line x1="121.4" y1="412.8" x2="121.4" y2="417.2" stroke="#777" stroke-width="0.7" />
<line x1="74.4" y1="415.0" x2="88.5" y2="415.0" stroke="#2c3f86" stroke-width="1.2" />
<ellipse cx="74.4" cy="415.0" rx="0.98" ry="2.31" fill="#2c3f86" stroke="#18224a" stroke-width="0.45"/>
<ellipse cx="79.1" cy="415.0" rx="0.98" ry="2.31" fill="#2c3f86" stroke="#18224a" stroke-width="0.45"/>
<ellipse cx="83.8" cy="415.0" rx="0.84" ry="1.98" fill="#2c3f86" stroke="#18224a" stroke-width="0.45"/>
<ellipse cx="88.5" cy="415.0" rx="0.77" ry="0.99" fill="#2c3f86" stroke="#18224a" stroke-width="0.45"/>
<line x1="91.0" y1="415.0" x2="92.4" y2="415.0" stroke="#333" stroke-width="1.1" />
<line x1="94.2" y1="415.0" x2="95.6" y2="415.0" stroke="#333" stroke-width="1.1" />
<line x1="97.4" y1="415.0" x2="98.8" y2="415.0" stroke="#333" stroke-width="1.1" />
<line x1="74.4" y1="422.8" x2="116.7" y2="422.8" stroke="#444" stroke-width="0.8" />
<line x1="116.7" y1="420.6" x2="116.7" y2="425.0" stroke="#444" stroke-width="0.7" />
<line x1="74.4" y1="422.8" x2="88.5" y2="422.8" stroke="#2b4d98" stroke-width="1.2" />
<ellipse cx="74.4" cy="422.8" rx="0.84" ry="1.98" fill="#2b4d98" stroke="#18224a" stroke-width="0.45"/>
<ellipse cx="79.1" cy="422.8" rx="1.40" ry="3.30" fill="#2b4d98" stroke="#18224a" stroke-width="0.45"/>
<ellipse cx="83.8" cy="422.8" rx="0.84" ry="1.98" fill="#2b4d98" stroke="#18224a" stroke-width="0.45"/>
<ellipse cx="88.5" cy="422.8" rx="0.77" ry="0.99" fill="#2b4d98" stroke="#18224a" stroke-width="0.45"/>
<line x1="91.0" y1="422.8" x2="92.4" y2="422.8" stroke="#333" stroke-width="1.1" />
<line x1="94.2" y1="422.8" x2="95.6" y2="422.8" stroke="#333" stroke-width="1.1" />
<line x1="97.4" y1="422.8" x2="98.8" y2="422.8" stroke="#333" stroke-width="1.1" />
<line x1="74.4" y1="430.6" x2="116.7" y2="430.6" stroke="#444" stroke-width="0.8" />
<line x1="116.7" y1="428.4" x2="116.7" y2="432.8" stroke="#444" stroke-width="0.7" />
<line x1="74.4" y1="430.6" x2="88.5" y2="430.6" stroke="#7a1a2a" stroke-width="1.2" />
<ellipse cx="74.4" cy="430.6" rx="0.84" ry="1.98" fill="#7a1a2a" stroke="#18224a" stroke-width="0.45"/>
<ellipse cx="79.1" cy="430.6" rx="1.26" ry="2.97" fill="#7a1a2a" stroke="#18224a" stroke-width="0.45"/>
<ellipse cx="83.8" cy="430.6" rx="0.84" ry="1.98" fill="#7a1a2a" stroke="#18224a" stroke-width="0.45"/>
<ellipse cx="88.5" cy="430.6" rx="0.77" ry="1.32" fill="#7a1a2a" stroke="#18224a" stroke-width="0.45"/>
<line x1="91.0" y1="430.6" x2="92.4" y2="430.6" stroke="#333" stroke-width="1.1" />
<line x1="94.2" y1="430.6" x2="95.6" y2="430.6" stroke="#333" stroke-width="1.1" />
<line x1="97.4" y1="430.6" x2="98.8" y2="430.6" stroke="#333" stroke-width="1.1" />
<line x1="74.4" y1="438.4" x2="102.6" y2="438.4" stroke="#444" stroke-width="0.8" />
<line x1="102.6" y1="436.2" x2="102.6" y2="440.6" stroke="#444" stroke-width="0.7" />
<line x1="79.1" y1="438.4" x2="83.8" y2="438.4" stroke="#2c3f86" stroke-width="1.2" />
<ellipse cx="79.1" cy="438.4" rx="1.26" ry="2.97" fill="#2c3f86" stroke="#18224a" stroke-width="0.45"/>
<ellipse cx="83.8" cy="438.4" rx="0.77" ry="0.66" fill="#2c3f86" stroke="#18224a" stroke-width="0.45"/>
<line x1="86.3" y1="438.4" x2="87.7" y2="438.4" stroke="#333" stroke-width="1.1" />
<line x1="89.5" y1="438.4" x2="90.9" y2="438.4" stroke="#333" stroke-width="1.1" />
<line x1="92.7" y1="438.4" x2="94.1" y2="438.4" stroke="#333" stroke-width="1.1" />
<line x1="74.4" y1="446.2" x2="102.6" y2="446.2" stroke="#444" stroke-width="0.8" />
<line x1="102.6" y1="444.0" x2="102.6" y2="448.4" stroke="#444" stroke-width="0.7" />
<line x1="74.4" y1="446.2" x2="88.5" y2="446.2" stroke="#2b4d98" stroke-width="1.2" />
<ellipse cx="74.4" cy="446.2" rx="0.77" ry="1.65" fill="#2b4d98" stroke="#18224a" stroke-width="0.45"/>
<ellipse cx="79.1" cy="446.2" rx="1.40" ry="3.30" fill="#2b4d98" stroke="#18224a" stroke-width="0.45"/>
<ellipse cx="83.8" cy="446.2" rx="1.12" ry="2.64" fill="#2b4d98" stroke="#18224a" stroke-width="0.45"/>
<ellipse cx="88.5" cy="446.2" rx="0.77" ry="0.99" fill="#2b4d98" stroke="#18224a" stroke-width="0.45"/>
<line x1="91.0" y1="446.2" x2="92.4" y2="446.2" stroke="#333" stroke-width="1.1" />
<line x1="94.2" y1="446.2" x2="95.6" y2="446.2" stroke="#333" stroke-width="1.1" />
<line x1="97.4" y1="446.2" x2="98.8" y2="446.2" stroke="#333" stroke-width="1.1" />
<line x1="74.4" y1="454.0" x2="102.6" y2="454.0" stroke="#555" stroke-width="0.8" />
<line x1="102.6" y1="451.8" x2="102.6" y2="456.2" stroke="#555" stroke-width="0.7" />
<line x1="74.4" y1="454.0" x2="88.5" y2="454.0" stroke="#2b4d98" stroke-width="1.2" />
<ellipse cx="74.4" cy="454.0" rx="0.77" ry="1.65" fill="#2b4d98" stroke="#18224a" stroke-width="0.45"/>
<ellipse cx="79.1" cy="454.0" rx="1.40" ry="3.30" fill="#2b4d98" stroke="#18224a" stroke-width="0.45"/>
<ellipse cx="83.8" cy="454.0" rx="1.12" ry="2.64" fill="#2b4d98" stroke="#18224a" stroke-width="0.45"/>
<ellipse cx="88.5" cy="454.0" rx="0.77" ry="0.99" fill="#2b4d98" stroke="#18224a" stroke-width="0.45"/>
<line x1="91.0" y1="454.0" x2="92.4" y2="454.0" stroke="#333" stroke-width="1.1" />
<line x1="94.2" y1="454.0" x2="95.6" y2="454.0" stroke="#333" stroke-width="1.1" />
<line x1="97.4" y1="454.0" x2="98.8" y2="454.0" stroke="#333" stroke-width="1.1" />
<line x1="74.4" y1="461.8" x2="112.0" y2="461.8" stroke="#444" stroke-width="0.8" />
<line x1="112.0" y1="459.6" x2="112.0" y2="464.0" stroke="#444" stroke-width="0.7" />
<line x1="79.1" y1="461.8" x2="88.5" y2="461.8" stroke="#1f5e3a" stroke-width="1.2" />
<ellipse cx="79.1" cy="461.8" rx="1.40" ry="3.30" fill="#1f5e3a" stroke="#18224a" stroke-width="0.45"/>
<ellipse cx="83.8" cy="461.8" rx="0.77" ry="1.65" fill="#1f5e3a" stroke="#18224a" stroke-width="0.45"/>
<ellipse cx="88.5" cy="461.8" rx="0.77" ry="0.99" fill="#1f5e3a" stroke="#18224a" stroke-width="0.45"/>
<line x1="91.0" y1="461.8" x2="92.4" y2="461.8" stroke="#333" stroke-width="1.1" />
<line x1="94.2" y1="461.8" x2="95.6" y2="461.8" stroke="#333" stroke-width="1.1" />
<line x1="97.4" y1="461.8" x2="98.8" y2="461.8" stroke="#333" stroke-width="1.1" />
<line x1="74.4" y1="469.6" x2="126.1" y2="469.6" stroke="#444" stroke-width="0.8" />
<line x1="126.1" y1="467.4" x2="126.1" y2="471.8" stroke="#444" stroke-width="0.7" />
<line x1="74.4" y1="469.6" x2="93.2" y2="469.6" stroke="#2b4d98" stroke-width="1.2" />
<ellipse cx="74.4" cy="469.6" rx="0.84" ry="1.98" fill="#2b4d98" stroke="#18224a" stroke-width="0.45"/>
<ellipse cx="79.1" cy="469.6" rx="1.40" ry="3.30" fill="#2b4d98" stroke="#18224a" stroke-width="0.45"/>
<ellipse cx="83.8" cy="469.6" rx="1.12" ry="2.64" fill="#2b4d98" stroke="#18224a" stroke-width="0.45"/>
<ellipse cx="88.5" cy="469.6" rx="0.98" ry="2.31" fill="#2b4d98" stroke="#18224a" stroke-width="0.45"/>
<ellipse cx="93.2" cy="469.6" rx="0.77" ry="0.99" fill="#2b4d98" stroke="#18224a" stroke-width="0.45"/>
<line x1="95.7" y1="469.6" x2="97.1" y2="469.6" stroke="#333" stroke-width="1.1" />
<line x1="98.9" y1="469.6" x2="100.3" y2="469.6" stroke="#333" stroke-width="1.1" />
<line x1="102.1" y1="469.6" x2="103.5" y2="469.6" stroke="#333" stroke-width="1.1" />
<line x1="74.4" y1="477.4" x2="112.0" y2="477.4" stroke="#555" stroke-width="0.8" />
<line x1="112.0" y1="475.2" x2="112.0" y2="479.6" stroke="#555" stroke-width="0.7" />
<line x1="74.4" y1="477.4" x2="93.2" y2="477.4" stroke="#2c3f86" stroke-width="1.2" />
<ellipse cx="74.4" cy="477.4" rx="1.12" ry="2.64" fill="#2c3f86" stroke="#18224a" stroke-width="0.45"/>
<ellipse cx="83.8" cy="477.4" rx="0.77" ry="1.65" fill="#2c3f86" stroke="#18224a" stroke-width="0.45"/>
<ellipse cx="88.5" cy="477.4" rx="0.98" ry="2.31" fill="#2c3f86" stroke="#18224a" stroke-width="0.45"/>
<ellipse cx="93.2" cy="477.4" rx="0.77" ry="0.99" fill="#2c3f86" stroke="#18224a" stroke-width="0.45"/>
<line x1="95.7" y1="477.4" x2="97.1" y2="477.4" stroke="#333" stroke-width="1.1" />
<line x1="98.9" y1="477.4" x2="100.3" y2="477.4" stroke="#333" stroke-width="1.1" />
<line x1="102.1" y1="477.4" x2="103.5" y2="477.4" stroke="#333" stroke-width="1.1" />
<line x1="74.4" y1="485.3" x2="116.7" y2="485.3" stroke="#888" stroke-width="0.8" />
<line x1="116.7" y1="483.1" x2="116.7" y2="487.5" stroke="#888" stroke-width="0.7" />
<line x1="74.4" y1="485.3" x2="93.2" y2="485.3" stroke="#2e6ab0" stroke-width="1.2" />
<ellipse cx="74.4" cy="485.3" rx="1.12" ry="2.64" fill="#2e6ab0" stroke="#18224a" stroke-width="0.45"/>
<ellipse cx="79.1" cy="485.3" rx="0.77" ry="1.32" fill="#2e6ab0" stroke="#18224a" stroke-width="0.45"/>
<ellipse cx="88.5" cy="485.3" rx="1.12" ry="2.64" fill="#2e6ab0" stroke="#18224a" stroke-width="0.45"/>
<ellipse cx="93.2" cy="485.3" rx="0.77" ry="0.99" fill="#2e6ab0" stroke="#18224a" stroke-width="0.45"/>
<line x1="95.7" y1="485.3" x2="97.1" y2="485.3" stroke="#333" stroke-width="1.1" />
<line x1="98.9" y1="485.3" x2="100.3" y2="485.3" stroke="#333" stroke-width="1.1" />
<line x1="102.1" y1="485.3" x2="103.5" y2="485.3" stroke="#333" stroke-width="1.1" />
<line x1="74.4" y1="493.1" x2="112.0" y2="493.1" stroke="#777" stroke-width="0.8" />
<line x1="112.0" y1="490.9" x2="112.0" y2="495.3" stroke="#777" stroke-width="0.7" />
<line x1="74.4" y1="493.1" x2="93.2" y2="493.1" stroke="#2c3f86" stroke-width="1.2" />
<ellipse cx="74.4" cy="493.1" rx="1.12" ry="2.64" fill="#2c3f86" stroke="#18224a" stroke-width="0.45"/>
<ellipse cx="83.8" cy="493.1" rx="0.84" ry="1.98" fill="#2c3f86" stroke="#18224a" stroke-width="0.45"/>
<ellipse cx="88.5" cy="493.1" rx="0.98" ry="2.31" fill="#2c3f86" stroke="#18224a" stroke-width="0.45"/>
<ellipse cx="93.2" cy="493.1" rx="0.77" ry="0.99" fill="#2c3f86" stroke="#18224a" stroke-width="0.45"/>
<line x1="95.7" y1="493.1" x2="97.1" y2="493.1" stroke="#333" stroke-width="1.1" />
<line x1="98.9" y1="493.1" x2="100.3" y2="493.1" stroke="#333" stroke-width="1.1" />
<line x1="102.1" y1="493.1" x2="103.5" y2="493.1" stroke="#333" stroke-width="1.1" />
<text x="296.3" y="361.1" font-size="7.9" text-anchor="start" fill="#333" font-weight="normal" stroke="#333" stroke-width="0.2" >Start</text>
<text x="296.3" y="370.6" font-size="7.9" text-anchor="start" fill="#333" font-weight="normal" stroke="#333" stroke-width="0.2" >location</text>
<circle cx="302.0" cy="384.0" r="4.8" fill="#2c4fa0" stroke="#333" stroke-width="0.5"/>
<text x="311.0" y="386.7" font-size="7.9" text-anchor="start" fill="#333" font-weight="normal" stroke="#333" stroke-width="0.2" >Rivers</text>
<circle cx="302.0" cy="399.5" r="4.8" fill="#272a6c" stroke="#333" stroke-width="0.5"/>
<text x="311.0" y="402.2" font-size="7.9" text-anchor="start" fill="#333" font-weight="normal" stroke="#333" stroke-width="0.2" >SS</text>
<circle cx="302.0" cy="414.9" r="4.8" fill="#1b7d3b" stroke="#333" stroke-width="0.5"/>
<text x="311.0" y="417.6" font-size="7.9" text-anchor="start" fill="#333" font-weight="normal" stroke="#333" stroke-width="0.2" >SW</text>
<circle cx="302.0" cy="430.4" r="4.8" fill="#1c6fb8" stroke="#333" stroke-width="0.5"/>
<text x="311.0" y="433.1" font-size="7.9" text-anchor="start" fill="#333" font-weight="normal" stroke="#333" stroke-width="0.2" >SE</text>
<circle cx="302.0" cy="445.9" r="4.8" fill="#f6d219" stroke="#333" stroke-width="0.5"/>
<text x="311.0" y="448.6" font-size="7.9" text-anchor="start" fill="#333" font-weight="normal" stroke="#333" stroke-width="0.2" >NW</text>
<circle cx="302.0" cy="461.4" r="4.8" fill="#ec6935" stroke="#333" stroke-width="0.5"/>
<text x="311.0" y="464.1" font-size="7.9" text-anchor="start" fill="#333" font-weight="normal" stroke="#333" stroke-width="0.2" >NE</text>
<circle cx="302.0" cy="476.8" r="4.8" fill="#8a1224" stroke="#333" stroke-width="0.5"/>
<text x="311.0" y="479.5" font-size="7.9" text-anchor="start" fill="#333" font-weight="normal" stroke="#333" stroke-width="0.2" >NC</text>
<text x="354.8" y="94.3" font-size="10.5" text-anchor="start" fill="#111" font-weight="bold"  stroke="#111" stroke-width="0.45">c</text>
<polygon points="524.5,240.8 527.6,242.3 532.0,241.7 538.0,241.5 546.0,241.7 553.9,241.8 561.2,242.8 568.0,242.6 575.8,242.3 575.8,243.6 568.0,243.6 561.2,243.6 553.9,243.6 546.0,243.6 538.0,243.6 532.0,243.6 527.6,243.6 524.5,243.6" fill="#1667b6"/>
<polygon points="524.5,239.5 527.6,241.6 532.0,240.7 538.0,240.4 546.0,240.7 553.9,241.0 561.2,242.4 568.0,242.1 575.8,241.7 575.8,242.3 568.0,242.6 561.2,242.8 553.9,241.8 546.0,241.7 538.0,241.5 532.0,241.7 527.6,242.3 524.5,240.8" fill="#272a7a"/>
<polygon points="524.5,238.8 527.6,241.3 532.0,240.3 538.0,239.9 546.0,240.3 553.9,240.6 561.2,242.2 568.0,241.9 575.8,241.4 575.8,241.7 568.0,242.1 561.2,242.4 553.9,241.0 546.0,240.7 538.0,240.4 532.0,240.7 527.6,241.6 524.5,239.5" fill="#9a1228"/>
<polygon points="524.5,238.1 527.6,240.9 532.0,239.7 538.0,239.3 546.0,239.7 553.9,240.1 561.2,242.0 568.0,241.6 575.8,241.1 575.8,241.4 568.0,241.9 561.2,242.2 553.9,240.6 546.0,240.3 538.0,239.9 532.0,240.3 527.6,241.3 524.5,238.8" fill="#272a7a"/>
<polygon points="524.5,237.0 527.6,240.4 532.0,239.0 538.0,238.5 546.0,239.0 553.9,239.4 561.2,241.7 568.0,241.2 575.8,240.6 575.8,241.1 568.0,241.6 561.2,242.0 553.9,240.1 546.0,239.7 538.0,239.3 532.0,239.7 527.6,240.9 524.5,238.1" fill="#d42a2a"/>
<polygon points="482.0,242.5 484.7,243.0 488.0,243.1 492.6,243.2 501.3,243.3 513.6,243.3 519.0,243.3 522.3,243.2 524.5,243.3 527.6,243.4 527.6,243.6 524.5,243.6 522.3,243.6 519.0,243.6 513.6,243.6 501.3,243.6 492.6,243.6 488.0,243.6 484.7,243.6 482.0,243.6" fill="#1667b6"/>
<polygon points="482.0,237.1 484.7,240.0 488.0,240.9 492.6,241.2 501.3,241.8 513.6,242.1 519.0,241.7 522.3,241.4 524.5,241.6 527.6,242.6 527.6,243.4 524.5,243.3 522.3,243.2 519.0,243.3 513.6,243.3 501.3,243.3 492.6,243.2 488.0,243.1 484.7,243.0 482.0,242.5" fill="#272a7a"/>
<polygon points="482.0,234.5 484.7,238.6 488.0,239.8 492.6,240.3 501.3,241.1 513.6,241.5 519.0,241.0 522.3,240.6 524.5,240.8 527.6,242.3 527.6,242.6 524.5,241.6 522.3,241.4 519.0,241.7 513.6,242.1 501.3,241.8 492.6,241.2 488.0,240.9 484.7,240.0 482.0,237.1" fill="#1d8a3e"/>
<polygon points="482.0,229.8 484.7,236.0 488.0,237.8 492.6,238.5 501.3,239.8 513.6,240.4 519.0,239.6 522.3,239.0 524.5,239.4 527.6,241.6 527.6,242.3 524.5,240.8 522.3,240.6 519.0,241.0 513.6,241.5 501.3,241.1 492.6,240.3 488.0,239.8 484.7,238.6 482.0,234.5" fill="#272a7a"/>
<polygon points="482.0,227.6 484.7,234.8 488.0,236.9 492.6,237.8 501.3,239.2 513.6,239.9 519.0,239.0 522.3,238.3 524.5,238.7 527.6,241.2 527.6,241.6 524.5,239.4 522.3,239.0 519.0,239.6 513.6,240.4 501.3,239.8 492.6,238.5 488.0,237.8 484.7,236.0 482.0,229.8" fill="#9a1228"/>
<polygon points="482.0,226.3 484.7,234.1 488.0,236.3 492.6,237.3 501.3,238.8 513.6,239.6 519.0,238.6 522.3,237.8 524.5,238.3 527.6,241.0 527.6,241.2 524.5,238.7 522.3,238.3 519.0,239.0 513.6,239.9 501.3,239.2 492.6,237.8 488.0,236.9 484.7,234.8 482.0,227.6" fill="#1667b6"/>
<polygon points="482.0,224.6 484.7,233.1 488.0,235.6 492.6,236.6 501.3,238.3 513.6,239.2 519.0,238.1 522.3,237.3 524.5,237.8 527.6,240.8 527.6,241.0 524.5,238.3 522.3,237.8 519.0,238.6 513.6,239.6 501.3,238.8 492.6,237.3 488.0,236.3 484.7,234.1 482.0,226.3" fill="#272a7a"/>
<polygon points="482.0,222.0 484.7,231.7 488.0,234.5 492.6,235.7 501.3,237.6 513.6,238.6 519.0,237.4 522.3,236.4 524.5,237.0 527.6,240.4 527.6,240.8 524.5,237.8 522.3,237.3 519.0,238.1 513.6,239.2 501.3,238.3 492.6,236.6 488.0,235.6 484.7,233.1 482.0,224.6" fill="#d42a2a"/>
<polygon points="384.4,243.6 419.6,243.6 440.0,243.5 454.5,243.4 460.0,243.1 466.3,242.6 472.0,242.1 476.0,241.8 478.2,241.7 480.0,241.8 482.0,242.3 484.7,242.9 484.7,243.6 482.0,243.6 480.0,243.6 478.2,243.6 476.0,243.6 472.0,243.6 466.3,243.6 460.0,243.6 454.5,243.6 440.0,243.6 419.6,243.6 384.4,243.6" fill="#1667b6"/>
<polygon points="384.4,243.4 419.6,243.2 440.0,242.7 454.5,241.8 460.0,239.8 466.3,236.0 472.0,232.3 476.0,230.1 478.2,229.3 480.0,230.1 482.0,234.1 484.7,238.4 484.7,242.9 482.0,242.3 480.0,241.8 478.2,241.7 476.0,241.8 472.0,242.1 466.3,242.6 460.0,243.1 454.5,243.4 440.0,243.5 419.6,243.6 384.4,243.6" fill="#272a7a"/>
<polygon points="384.4,243.4 419.6,243.2 440.0,242.6 454.5,241.7 460.0,239.5 466.3,235.3 472.0,231.3 476.0,228.9 478.2,228.0 480.0,228.9 482.0,233.2 484.7,237.9 484.7,238.4 482.0,234.1 480.0,230.1 478.2,229.3 476.0,230.1 472.0,232.3 466.3,236.0 460.0,239.8 454.5,241.8 440.0,242.7 419.6,243.2 384.4,243.4" fill="#1d8a3e"/>
<polygon points="384.4,243.3 419.6,243.0 440.0,242.0 454.5,240.4 460.0,236.6 466.3,229.7 472.0,222.9 476.0,218.8 478.2,217.4 480.0,218.8 482.0,226.1 484.7,234.0 484.7,237.9 482.0,233.2 480.0,228.9 478.2,228.0 476.0,228.9 472.0,231.3 466.3,235.3 460.0,239.5 454.5,241.7 440.0,242.6 419.6,243.2 384.4,243.4" fill="#272a7a"/>
<polygon points="384.4,243.3 419.6,242.9 440.0,241.9 454.5,240.1 460.0,236.1 466.3,228.6 472.0,221.3 476.0,217.0 478.2,215.4 480.0,217.0 482.0,224.8 484.7,233.2 484.7,234.0 482.0,226.1 480.0,218.8 478.2,217.4 476.0,218.8 472.0,222.9 466.3,229.7 460.0,236.6 454.5,240.4 440.0,242.0 419.6,243.0 384.4,243.3" fill="#1667b6"/>
<polygon points="384.4,243.2 419.6,242.9 440.0,241.7 454.5,239.9 460.0,235.6 466.3,227.6 472.0,219.8 476.0,215.1 478.2,213.5 480.0,215.1 482.0,223.5 484.7,232.5 484.7,233.2 482.0,224.8 480.0,217.0 478.2,215.4 476.0,217.0 472.0,221.3 466.3,228.6 460.0,236.1 454.5,240.1 440.0,241.9 419.6,242.9 384.4,243.3" fill="#9a1228"/>
<polygon points="384.4,243.2 419.6,242.8 440.0,241.7 454.5,239.7 460.0,235.3 466.3,226.9 472.0,218.8 476.0,213.9 478.2,212.2 480.0,213.9 482.0,222.6 484.7,232.1 484.7,232.5 482.0,223.5 480.0,215.1 478.2,213.5 476.0,215.1 472.0,219.8 466.3,227.6 460.0,235.6 454.5,239.9 440.0,241.7 419.6,242.9 384.4,243.2" fill="#272a7a"/>
<polygon points="384.4,243.2 419.6,242.8 440.0,241.6 454.5,239.6 460.0,235.0 466.3,226.4 472.0,218.0 476.0,213.0 478.2,211.2 480.0,213.0 482.0,222.0 484.7,231.7 484.7,232.1 482.0,222.6 480.0,213.9 478.2,212.2 476.0,213.9 472.0,218.8 466.3,226.9 460.0,235.3 454.5,239.7 440.0,241.7 419.6,242.8 384.4,243.2" fill="#d42a2a"/>
<polygon points="561.2,243.4 568.0,243.4 575.8,243.4 586.2,243.1 596.7,242.8 607.0,242.4 612.0,242.0 617.5,241.6 621.0,241.2 623.8,240.7 629.0,240.5 634.2,240.4 634.2,243.6 629.0,243.6 623.8,243.6 621.0,243.6 617.5,243.6 612.0,243.6 607.0,243.6 596.7,243.6 586.2,243.6 575.8,243.6 568.0,243.6 561.2,243.6" fill="#1667b6"/>
<polygon points="561.2,243.2 568.0,243.1 575.8,243.0 586.2,242.4 596.7,241.5 607.0,240.5 612.0,239.7 617.5,238.6 621.0,237.5 623.8,236.3 629.0,235.9 634.2,235.5 634.2,240.4 629.0,240.5 623.8,240.7 621.0,241.2 617.5,241.6 612.0,242.0 607.0,242.4 596.7,242.8 586.2,243.1 575.8,243.4 568.0,243.4 561.2,243.4" fill="#272a7a"/>
<polygon points="561.2,243.1 568.0,242.9 575.8,242.8 586.2,241.9 596.7,240.7 607.0,239.2 612.0,238.1 617.5,236.6 621.0,235.0 623.8,233.4 629.0,232.8 634.2,232.3 634.2,235.5 629.0,235.9 623.8,236.3 621.0,237.5 617.5,238.6 612.0,239.7 607.0,240.5 596.7,241.5 586.2,242.4 575.8,243.0 568.0,243.1 561.2,243.2" fill="#1d8a3e"/>
<polygon points="561.2,242.9 568.0,242.7 575.8,242.5 586.2,241.4 596.7,239.9 607.0,238.0 612.0,236.5 617.5,234.7 621.0,232.6 623.8,230.5 629.0,229.8 634.2,229.0 634.2,232.3 629.0,232.8 623.8,233.4 621.0,235.0 617.5,236.6 612.0,238.1 607.0,239.2 596.7,240.7 586.2,241.9 575.8,242.8 568.0,242.9 561.2,243.1" fill="#272a7a"/>
<polygon points="561.2,242.8 568.0,242.5 575.8,242.3 586.2,240.9 596.7,239.1 607.0,236.7 612.0,235.0 617.5,232.7 621.0,230.1 623.8,227.6 629.0,226.7 634.2,225.8 634.2,229.0 629.0,229.8 623.8,230.5 621.0,232.6 617.5,234.7 612.0,236.5 607.0,238.0 596.7,239.9 586.2,241.4 575.8,242.5 568.0,242.7 561.2,242.9" fill="#1667b6"/>
<polygon points="561.2,242.6 568.0,242.4 575.8,242.0 586.2,240.4 596.7,238.2 607.0,235.5 612.0,233.4 617.5,230.7 621.0,227.7 623.8,224.7 629.0,223.6 634.2,222.5 634.2,225.8 629.0,226.7 623.8,227.6 621.0,230.1 617.5,232.7 612.0,235.0 607.0,236.7 596.7,239.1 586.2,240.9 575.8,242.3 568.0,242.5 561.2,242.8" fill="#272a7a"/>
<polygon points="561.2,242.3 568.0,242.0 575.8,241.6 586.2,239.5 596.7,236.7 607.0,233.1 612.0,230.5 617.5,227.0 621.0,223.1 623.8,219.3 629.0,217.9 634.2,216.5 634.2,222.5 629.0,223.6 623.8,224.7 621.0,227.7 617.5,230.7 612.0,233.4 607.0,235.5 596.7,238.2 586.2,240.4 575.8,242.0 568.0,242.4 561.2,242.6" fill="#9a1228"/>
<polygon points="561.2,242.1 568.0,241.8 575.8,241.3 586.2,238.9 596.7,235.7 607.0,231.6 612.0,228.5 617.5,224.5 621.0,220.0 623.8,215.6 629.0,214.0 634.2,212.4 634.2,216.5 629.0,217.9 623.8,219.3 621.0,223.1 617.5,227.0 612.0,230.5 607.0,233.1 596.7,236.7 586.2,239.5 575.8,241.6 568.0,242.0 561.2,242.3" fill="#272a7a"/>
<polygon points="561.2,242.0 568.0,241.6 575.8,241.1 586.2,238.5 596.7,235.1 607.0,230.7 612.0,227.3 617.5,223.0 621.0,218.2 623.8,213.5 629.0,211.7 634.2,210.0 634.2,212.4 629.0,214.0 623.8,215.6 621.0,220.0 617.5,224.5 612.0,228.5 607.0,231.6 596.7,235.7 586.2,238.9 575.8,241.3 568.0,241.8 561.2,242.1" fill="#9a1228"/>
<polygon points="561.2,241.9 568.0,241.5 575.8,241.0 586.2,238.3 596.7,234.6 607.0,230.0 612.0,226.5 617.5,222.0 621.0,217.0 623.8,212.0 629.0,210.2 634.2,208.4 634.2,210.0 629.0,211.7 623.8,213.5 621.0,218.2 617.5,223.0 612.0,227.3 607.0,230.7 596.7,235.1 586.2,238.5 575.8,241.1 568.0,241.6 561.2,242.0" fill="#ec6935"/>
<polygon points="561.2,241.8 568.0,241.3 575.8,240.8 586.2,237.8 596.7,233.8 607.0,228.8 612.0,225.0 617.5,220.0 621.0,214.5 623.8,209.1 629.0,207.1 634.2,205.1 634.2,208.4 629.0,210.2 623.8,212.0 621.0,217.0 617.5,222.0 612.0,226.5 607.0,230.0 596.7,234.6 586.2,238.3 575.8,241.0 568.0,241.5 561.2,241.9" fill="#272a7a"/>
<polygon points="561.2,241.7 568.0,241.2 575.8,240.6 586.2,237.5 596.7,233.3 607.0,228.0 612.0,224.0 617.5,218.8 621.0,213.0 623.8,207.3 629.0,205.2 634.2,203.1 634.2,205.1 629.0,207.1 623.8,209.1 621.0,214.5 617.5,220.0 612.0,225.0 607.0,228.8 596.7,233.8 586.2,237.8 575.8,240.8 568.0,241.3 561.2,241.8" fill="#d42a2a"/>
<polygon points="634.2,238.3 637.3,237.0 640.0,235.9 642.5,234.9 646.0,234.0 648.8,233.4 651.9,233.5 653.5,234.3 655.0,235.5 657.0,238.2 659.2,241.4 659.2,243.6 657.0,243.6 655.0,243.6 653.5,243.6 651.9,243.6 648.8,243.6 646.0,243.6 642.5,243.6 640.0,243.6 637.3,243.6 634.2,243.6" fill="#1667b6"/>
<polygon points="634.2,235.1 637.3,232.9 640.0,231.1 642.5,229.6 646.0,228.1 648.8,227.1 651.9,227.4 653.5,228.6 655.0,230.5 657.0,234.9 659.2,240.1 659.2,241.4 657.0,238.2 655.0,235.5 653.5,234.3 651.9,233.5 648.8,233.4 646.0,234.0 642.5,234.9 640.0,235.9 637.3,237.0 634.2,238.3" fill="#272a7a"/>
<polygon points="634.2,228.2 637.3,224.3 640.0,221.0 642.5,218.3 646.0,215.6 648.8,213.7 651.9,214.2 653.5,216.4 655.0,219.9 657.0,227.8 659.2,237.3 659.2,240.1 657.0,234.9 655.0,230.5 653.5,228.6 651.9,227.4 648.8,227.1 646.0,228.1 642.5,229.6 640.0,231.1 637.3,232.9 634.2,235.1" fill="#1d8a3e"/>
<polygon points="634.2,224.6 637.3,219.7 640.0,215.6 642.5,212.3 646.0,209.0 648.8,206.7 651.9,207.2 653.5,209.9 655.0,214.3 657.0,224.0 659.2,235.8 659.2,237.3 657.0,227.8 655.0,219.9 653.5,216.4 651.9,214.2 648.8,213.7 646.0,215.6 642.5,218.3 640.0,221.0 637.3,224.3 634.2,228.2" fill="#1667b6"/>
<polygon points="634.2,220.5 637.3,214.6 640.0,209.6 642.5,205.6 646.0,201.6 648.8,198.8 651.9,199.5 653.5,202.8 655.0,208.1 657.0,219.9 659.2,234.1 659.2,235.8 657.0,224.0 655.0,214.3 653.5,209.9 651.9,207.2 648.8,206.7 646.0,209.0 642.5,212.3 640.0,215.6 637.3,219.7 634.2,224.6" fill="#272a7a"/>
<polygon points="634.2,218.5 637.3,212.0 640.0,206.6 642.5,202.3 646.0,198.0 648.8,194.9 651.9,195.6 653.5,199.2 655.0,204.9 657.0,217.8 659.2,233.3 659.2,234.1 657.0,219.9 655.0,208.1 653.5,202.8 651.9,199.5 648.8,198.8 646.0,201.6 642.5,205.6 640.0,209.6 637.3,214.6 634.2,220.5" fill="#9a1228"/>
<polygon points="634.2,214.4 637.3,207.0 640.0,200.7 642.5,195.6 646.0,190.6 648.8,187.0 651.9,187.9 653.5,192.0 655.0,198.7 657.0,213.6 659.2,231.6 659.2,233.3 657.0,217.8 655.0,204.9 653.5,199.2 651.9,195.6 648.8,194.9 646.0,198.0 642.5,202.3 640.0,206.6 637.3,212.0 634.2,218.5" fill="#272a7a"/>
<polygon points="634.2,212.4 637.3,204.4 640.0,197.7 642.5,192.3 646.0,186.9 648.8,183.1 651.9,184.0 653.5,188.5 655.0,195.6 657.0,211.6 659.2,230.8 659.2,231.6 657.0,213.6 655.0,198.7 653.5,192.0 651.9,187.9 648.8,187.0 646.0,190.6 642.5,195.6 640.0,200.7 637.3,207.0 634.2,214.4" fill="#1667b6"/>
<polygon points="634.2,210.8 637.3,202.4 640.0,195.3 642.5,189.7 646.0,184.0 648.8,179.9 651.9,180.9 653.5,185.6 655.0,193.1 657.0,209.9 659.2,230.2 659.2,230.8 657.0,211.6 655.0,195.6 653.5,188.5 651.9,184.0 648.8,183.1 646.0,186.9 642.5,192.3 640.0,197.7 637.3,204.4 634.2,212.4" fill="#f7d41a"/>
<polygon points="634.2,209.6 637.3,200.8 640.0,193.5 642.5,187.7 646.0,181.8 648.8,177.6 651.9,178.6 653.5,183.5 655.0,191.2 657.0,208.7 659.2,229.7 659.2,230.2 657.0,209.9 655.0,193.1 653.5,185.6 651.9,180.9 648.8,179.9 646.0,184.0 642.5,189.7 640.0,195.3 637.3,202.4 634.2,210.8" fill="#1d8a3e"/>
<polygon points="634.2,207.6 637.3,198.3 640.0,190.6 642.5,184.3 646.0,178.1 648.8,173.6 651.9,174.8 653.5,179.9 655.0,188.1 657.0,206.6 659.2,228.8 659.2,229.7 657.0,208.7 655.0,191.2 653.5,183.5 651.9,178.6 648.8,177.6 646.0,181.8 642.5,187.7 640.0,193.5 637.3,200.8 634.2,209.6" fill="#272a7a"/>
<polygon points="634.2,205.5 637.3,195.8 640.0,187.6 642.5,181.0 646.0,174.4 648.8,169.7 651.9,170.9 653.5,176.3 655.0,185.0 657.0,204.5 659.2,228.0 659.2,228.8 657.0,206.6 655.0,188.1 653.5,179.9 651.9,174.8 648.8,173.6 646.0,178.1 642.5,184.3 640.0,190.6 637.3,198.3 634.2,207.6" fill="#9a1228"/>
<polygon points="634.2,203.1 637.3,192.7 640.0,184.0 642.5,177.0 646.0,170.0 648.8,165.0 651.9,166.2 653.5,172.0 655.0,181.2 657.0,202.0 659.2,227.0 659.2,228.0 657.0,204.5 655.0,185.0 653.5,176.3 651.9,170.9 648.8,169.7 646.0,174.4 642.5,181.0 640.0,187.6 637.3,195.8 634.2,205.5" fill="#d42a2a"/>
<polygon points="657.0,227.8 659.2,237.3 661.2,239.3 665.4,239.3 668.5,240.5 673.0,242.0 677.9,243.5 680.0,243.6 680.0,243.6 677.9,243.6 673.0,243.6 668.5,243.6 665.4,243.6 661.2,243.6 659.2,243.6 657.0,243.6" fill="#1667b6"/>
<polygon points="657.0,218.6 659.2,233.6 661.2,236.8 665.4,236.8 668.5,238.7 673.0,241.1 677.9,243.4 680.0,243.6 680.0,243.6 677.9,243.5 673.0,242.0 668.5,240.5 665.4,239.3 661.2,239.3 659.2,237.3 657.0,227.8" fill="#272a7a"/>
<polygon points="657.0,214.5 659.2,232.0 661.2,235.7 665.4,235.7 668.5,237.9 673.0,240.7 677.9,243.4 680.0,243.6 680.0,243.6 677.9,243.4 673.0,241.1 668.5,238.7 665.4,236.8 661.2,236.8 659.2,233.6 657.0,218.6" fill="#1667b6"/>
<polygon points="657.0,208.2 659.2,229.5 661.2,234.0 665.4,234.0 668.5,236.6 673.0,240.1 677.9,243.3 680.0,243.6 680.0,243.6 677.9,243.4 673.0,240.7 668.5,237.9 665.4,235.7 661.2,235.7 659.2,232.0 657.0,214.5" fill="#272a7a"/>
<polygon points="657.0,204.9 659.2,228.2 661.2,233.1 665.4,233.1 668.5,236.0 673.0,239.8 677.9,243.3 680.0,243.6 680.0,243.6 677.9,243.3 673.0,240.1 668.5,236.6 665.4,234.0 661.2,234.0 659.2,229.5 657.0,208.2" fill="#9a1228"/>
<polygon points="657.0,202.0 659.2,227.0 661.2,232.3 665.4,232.3 668.5,235.4 673.0,239.5 677.9,243.3 680.0,243.6 680.0,243.6 677.9,243.3 673.0,239.8 668.5,236.0 665.4,233.1 661.2,233.1 659.2,228.2 657.0,204.9" fill="#d42a2a"/>
<polyline points="384.4,243.2 419.6,242.8 440.0,241.6 454.5,239.6 460.0,235.0 466.3,226.4 472.0,218.0 476.0,213.0 478.2,211.2 480.0,213.0 482.0,222.0 484.7,231.7 488.0,234.5 492.6,235.7 501.3,237.6 513.6,238.6 519.0,237.4 522.3,236.4 524.5,237.0 527.6,240.4 532.0,239.0 538.0,238.5 546.0,239.0 553.9,239.4 561.2,241.7 568.0,241.2 575.8,240.6 586.2,237.5 596.7,233.3 607.0,228.0 612.0,224.0 617.5,218.8 621.0,213.0 623.8,207.3 629.0,205.2 634.2,203.1 637.3,192.7 640.0,184.0 642.5,177.0 646.0,170.0 648.8,165.0 651.9,166.2 653.5,172.0 655.0,181.2 657.0,202.0 659.2,227.0 661.2,232.3 665.4,232.3 668.5,235.4 673.0,239.5 677.9,243.3 680.0,243.6" fill="none" stroke="#e0312e" stroke-width="1.7" stroke-linejoin="round"/>
<line x1="384.0" y1="94.4" x2="384.0" y2="246.5" stroke="#cfcfcf" stroke-width="1.6" />
<line x1="384.0" y1="244.6" x2="685.0" y2="244.6" stroke="#c8c8c8" stroke-width="1.4" />
<line x1="380.3" y1="243.6" x2="383.5" y2="243.6" stroke="#999" stroke-width="0.8" />
<text x="376.5" y="246.6" font-size="8.2" text-anchor="end" fill="#333" font-weight="normal" stroke="#333" stroke-width="0.2" >0</text>
<line x1="380.3" y1="213.8" x2="383.5" y2="213.8" stroke="#999" stroke-width="0.8" />
<text x="376.5" y="216.8" font-size="8.2" text-anchor="end" fill="#333" font-weight="normal" stroke="#333" stroke-width="0.2" >2</text>
<line x1="380.3" y1="184.0" x2="383.5" y2="184.0" stroke="#999" stroke-width="0.8" />
<text x="376.5" y="187.0" font-size="8.2" text-anchor="end" fill="#333" font-weight="normal" stroke="#333" stroke-width="0.2" >4</text>
<line x1="380.3" y1="154.2" x2="383.5" y2="154.2" stroke="#999" stroke-width="0.8" />
<text x="376.5" y="157.2" font-size="8.2" text-anchor="end" fill="#333" font-weight="normal" stroke="#333" stroke-width="0.2" >6</text>
<line x1="380.3" y1="124.4" x2="383.5" y2="124.4" stroke="#999" stroke-width="0.8" />
<text x="376.5" y="127.4" font-size="8.2" text-anchor="end" fill="#333" font-weight="normal" stroke="#333" stroke-width="0.2" >8</text>
<line x1="380.3" y1="94.6" x2="383.5" y2="94.6" stroke="#999" stroke-width="0.8" />
<text x="376.5" y="97.6" font-size="8.2" text-anchor="end" fill="#333" font-weight="normal" stroke="#333" stroke-width="0.2" >10</text>
<line x1="384.4" y1="243.6" x2="384.4" y2="246.5" stroke="#888" stroke-width="0.8" />
<text x="384.4" y="258.0" font-size="8.2" text-anchor="middle" fill="#333" font-weight="normal" stroke="#333" stroke-width="0.2" >2015</text>
<line x1="419.8" y1="243.6" x2="419.8" y2="246.5" stroke="#888" stroke-width="0.8" />
<text x="419.8" y="258.0" font-size="8.2" text-anchor="middle" fill="#333" font-weight="normal" stroke="#333" stroke-width="0.2" >2016</text>
<line x1="455.1" y1="243.6" x2="455.1" y2="246.5" stroke="#888" stroke-width="0.8" />
<text x="455.1" y="258.0" font-size="8.2" text-anchor="middle" fill="#333" font-weight="normal" stroke="#333" stroke-width="0.2" >2017</text>
<line x1="490.4" y1="243.6" x2="490.4" y2="246.5" stroke="#888" stroke-width="0.8" />
<text x="490.4" y="258.0" font-size="8.2" text-anchor="middle" fill="#333" font-weight="normal" stroke="#333" stroke-width="0.2" >2018</text>
<line x1="525.8" y1="243.6" x2="525.8" y2="246.5" stroke="#888" stroke-width="0.8" />
<text x="525.8" y="258.0" font-size="8.2" text-anchor="middle" fill="#333" font-weight="normal" stroke="#333" stroke-width="0.2" >2019</text>
<line x1="561.1" y1="243.6" x2="561.1" y2="246.5" stroke="#888" stroke-width="0.8" />
<text x="561.1" y="258.0" font-size="8.2" text-anchor="middle" fill="#333" font-weight="normal" stroke="#333" stroke-width="0.2" >2020</text>
<line x1="596.5" y1="243.6" x2="596.5" y2="246.5" stroke="#888" stroke-width="0.8" />
<text x="596.5" y="258.0" font-size="8.2" text-anchor="middle" fill="#333" font-weight="normal" stroke="#333" stroke-width="0.2" >2021</text>
<line x1="631.9" y1="243.6" x2="631.9" y2="246.5" stroke="#888" stroke-width="0.8" />
<text x="631.9" y="258.0" font-size="8.2" text-anchor="middle" fill="#333" font-weight="normal" stroke="#333" stroke-width="0.2" >2022</text>
<line x1="667.2" y1="243.6" x2="667.2" y2="246.5" stroke="#888" stroke-width="0.8" />
<text x="667.2" y="258.0" font-size="8.2" text-anchor="middle" fill="#333" font-weight="normal" stroke="#333" stroke-width="0.2" >2023</text>
<line x1="479.6" y1="94.4" x2="479.6" y2="243.6" stroke="#e84848" stroke-width="1.1" stroke-dasharray="2.2,1.6"/>
<text x="489.0" y="200.1" font-size="8.05" text-anchor="start" fill="#222" font-weight="normal" stroke="#222" stroke-width="0.2" >First case detected</text>
<text x="0.0" y="0.0" font-size="8.1" text-anchor="middle" fill="#333" font-weight="normal" stroke="#333" stroke-width="0.2" transform="translate(360.9,169.5) rotate(-90)">Mean number of introductions</text>
<text x="396.7" y="124.5" font-size="8.2" text-anchor="start" fill="#333" font-weight="normal" stroke="#333" stroke-width="0.2" >Start location</text>
<circle cx="397.4" cy="133.4" r="4.1" fill="#fff" stroke="#333" stroke-width="0.75"/>
<text x="404.6" y="136.2" font-size="8.2" text-anchor="start" fill="#333" font-weight="normal" stroke="#333" stroke-width="0.2" >Rivers</text>
<circle cx="397.4" cy="146.8" r="4.1" fill="#fff" stroke="#e0312e" stroke-width="0.75"/>
<text x="404.6" y="149.6" font-size="8.2" text-anchor="start" fill="#333" font-weight="normal" stroke="#333" stroke-width="0.2" >Remaining</text>
<text x="396.7" y="176.3" font-size="8.2" text-anchor="start" fill="#333" font-weight="normal" stroke="#333" stroke-width="0.2" >End location</text>
<circle cx="397.4" cy="184.1" r="3.8" fill="#272a6c" stroke="#333" stroke-width="0.5"/>
<text x="405.0" y="186.9" font-size="8.2" text-anchor="start" fill="#333" font-weight="normal" stroke="#333" stroke-width="0.2" >SS</text>
<circle cx="397.4" cy="195.5" r="3.8" fill="#1b7d3b" stroke="#333" stroke-width="0.5"/>
<text x="405.0" y="198.3" font-size="8.2" text-anchor="start" fill="#333" font-weight="normal" stroke="#333" stroke-width="0.2" >SW</text>
<circle cx="397.4" cy="206.9" r="3.8" fill="#1c6fb8" stroke="#333" stroke-width="0.5"/>
<text x="405.0" y="209.7" font-size="8.2" text-anchor="start" fill="#333" font-weight="normal" stroke="#333" stroke-width="0.2" >SE</text>
<circle cx="397.4" cy="218.3" r="3.8" fill="#f6d219" stroke="#333" stroke-width="0.5"/>
<text x="405.0" y="221.1" font-size="8.2" text-anchor="start" fill="#333" font-weight="normal" stroke="#333" stroke-width="0.2" >NW</text>
<circle cx="426.4" cy="184.1" r="3.8" fill="#ec6935" stroke="#333" stroke-width="0.5"/>
<text x="434.0" y="186.9" font-size="8.2" text-anchor="start" fill="#333" font-weight="normal" stroke="#333" stroke-width="0.2" >NE</text>
<circle cx="426.4" cy="195.5" r="3.8" fill="#8a1224" stroke="#333" stroke-width="0.5"/>
<text x="434.0" y="198.3" font-size="8.2" text-anchor="start" fill="#333" font-weight="normal" stroke="#333" stroke-width="0.2" >NC</text>
<circle cx="426.4" cy="206.9" r="3.8" fill="#1b1b1b" stroke="#333" stroke-width="0.5"/>
<text x="434.0" y="209.7" font-size="8.2" text-anchor="start" fill="#333" font-weight="normal" stroke="#333" stroke-width="0.2" >Nigeria</text>
<circle cx="426.4" cy="218.3" r="3.8" fill="#c6c6c6" stroke="#333" stroke-width="0.5"/>
<text x="434.0" y="221.1" font-size="8.2" text-anchor="start" fill="#333" font-weight="normal" stroke="#333" stroke-width="0.2" >Other</text>
<text x="355.3" y="275.6" font-size="10.5" text-anchor="start" fill="#111" font-weight="bold"  stroke="#111" stroke-width="0.45">d</text>
<clipPath id="cclip"><polygon points="399.3,322.5 401.8,319.2 410.1,317.5 420.2,316.4 425.2,318.0 431.9,319.2 438.6,323.4 443.6,329.2 448.6,327.6 457.0,325.0 463.6,326.7 470.3,330.0 480.0,331.7 488.0,330.6 496.4,325.7 508.5,324.0 520.6,325.7 530.3,328.1 537.5,323.3 544.8,319.2 549.6,319.7 553.2,325.7 558.1,334.2 564.1,341.4 565.3,349.9 561.7,354.7 554.5,357.1 550.8,368.0 547.2,375.3 537.5,387.4 530.3,401.9 525.4,411.5 518.2,421.2 510.9,432.1 506.1,434.5 496.4,428.5 489.2,426.0 486.0,431.0 483.7,435.4 480.1,439.0 475.9,443.8 474.0,448.7 472.8,454.7 468.0,460.8 463.2,463.2 455.9,465.6 448.7,466.8 441.4,468.0 431.8,469.2 425.7,466.8 422.1,460.8 419.7,455.9 417.3,449.9 414.8,443.8 414.7,441.4 412.3,442.0 406.3,438.4 397.8,436.0 388.0,435.4 377.6,436.0 377.2,418.0 377.6,399.0 378.4,395.3 380.0,392.0 382.5,389.5 386.8,385.0 390.3,380.0 391.6,373.9 393.8,370.4 393.3,360.3 390.3,355.5 390.1,351.8 391.7,343.4 391.4,337.6 395.1,331.7"/></clipPath>
<polygon points="399.3,322.5 401.8,319.2 410.1,317.5 420.2,316.4 425.2,318.0 431.9,319.2 438.6,323.4 443.6,329.2 448.6,327.6 457.0,325.0 463.6,326.7 470.3,330.0 480.0,331.7 488.0,330.6 496.4,325.7 508.5,324.0 520.6,325.7 530.3,328.1 537.5,323.3 544.8,319.2 549.6,319.7 553.2,325.7 558.1,334.2 564.1,341.4 565.3,349.9 561.7,354.7 554.5,357.1 550.8,368.0 547.2,375.3 537.5,387.4 530.3,401.9 525.4,411.5 518.2,421.2 510.9,432.1 506.1,434.5 496.4,428.5 489.2,426.0 486.0,431.0 483.7,435.4 480.1,439.0 475.9,443.8 474.0,448.7 472.8,454.7 468.0,460.8 463.2,463.2 455.9,465.6 448.7,466.8 441.4,468.0 431.8,469.2 425.7,466.8 422.1,460.8 419.7,455.9 417.3,449.9 414.8,443.8 414.7,441.4 412.3,442.0 406.3,438.4 397.8,436.0 388.0,435.4 377.6,436.0 377.2,418.0 377.6,399.0 378.4,395.3 380.0,392.0 382.5,389.5 386.8,385.0 390.3,380.0 391.6,373.9 393.8,370.4 393.3,360.3 390.3,355.5 390.1,351.8 391.7,343.4 391.4,337.6 395.1,331.7" fill="#8c0c26" />
<polygon points="486.0,331.0 496.4,325.7 508.5,324.0 520.6,325.7 530.3,328.1 537.5,323.3 544.8,319.2 549.6,319.7 553.2,325.7 558.1,334.2 564.1,341.4 565.3,349.9 561.7,354.7 554.5,357.1 550.8,368.0 547.2,375.3 537.5,387.4 530.3,401.9 525.4,411.5 518.2,421.2 510.9,432.1 506.1,434.5 496.4,428.5 489.2,426.0 489.2,414.0 496.4,406.7 501.3,397.0 501.3,387.4 491.6,380.1 481.9,375.3 474.7,368.0 472.3,362.0 479.5,357.1 489.2,360.8 496.4,358.4 498.8,348.7 501.3,339.0 501.3,334.0" fill="#ef6b37" />
<polygon points="390.3,355.5 390.1,351.8 391.7,343.4 391.4,337.6 395.1,331.7 399.3,322.5 401.8,319.2 410.1,317.5 420.2,316.4 425.2,318.0 431.9,319.2 438.6,323.4 443.6,329.2 448.6,327.6 457.0,325.0 463.6,326.7 470.3,330.0 480.0,331.7 488.0,331.5 496.0,332.5 501.3,334.0 501.3,339.0 498.8,348.7 496.4,358.4 489.2,360.8 479.5,357.1 472.3,362.0 473.7,365.2 472.9,372.7 471.4,378.7 468.5,387.6 465.5,393.6 462.5,391.3 456.5,390.6 449.1,389.1 449.1,381.7 447.6,375.7 445.0,370.4 441.0,368.6 437.5,369.5 434.0,370.4 431.4,366.9 430.5,362.5 428.8,360.8 424.4,361.6 420.0,363.4 418.7,360.8 417.4,357.3 413.9,357.7 410.4,358.6 410.4,359.9 414.8,362.5 413.9,366.9 410.4,368.6 410.4,373.0 407.8,375.6 406.0,374.8 406.9,369.5 409.1,366.0 408.6,363.8 403.4,362.1 402.5,361.2 393.3,360.3" fill="#f9d31f" />
<polygon points="377.6,399.0 383.3,397.1 389.0,393.3 394.7,391.4 400.4,396.1 406.0,404.7 413.6,408.5 419.3,412.3 424.0,416.5 428.1,422.1 424.5,423.3 419.7,426.9 414.8,431.8 413.6,437.8 414.7,441.4 412.3,442.0 406.3,438.4 397.8,436.0 388.0,435.4 377.6,436.0 377.2,418.0" fill="#1f873f" />
<polygon points="414.8,431.8 419.7,426.9 424.5,423.3 428.1,422.1 434.2,419.7 439.0,424.5 440.2,431.1 442.6,429.3 448.7,425.7 452.3,425.1 458.3,429.3 463.2,431.1 466.8,433.0 472.8,430.5 477.7,429.9 482.5,433.0 483.7,435.4 480.1,439.0 475.9,443.8 474.0,448.7 472.8,454.7 468.0,460.8 463.2,463.2 455.9,465.6 448.7,466.8 441.4,468.0 431.8,469.2 425.7,466.8 422.1,460.8 419.7,455.9 417.3,449.9 414.8,443.8 413.6,437.8" fill="#29297a" />
<polygon points="440.2,431.1 442.6,429.3 448.7,425.7 452.3,425.1 458.3,429.3 463.2,431.1 466.8,433.0 466.8,439.0 463.2,446.3 458.3,449.9 452.3,449.9 446.3,446.3 441.4,440.2 439.0,434.2" fill="#1a74c4" />
<path d="M417.1,306.0L405.9,331.6M548.9,337.9L554.8,339.0M548.9,337.9L547.2,331.2M554.8,339.0L549.0,329.8M547.2,331.2L549.0,329.8M379.6,333.5L398.8,340.1M379.6,333.5L404.7,332.9M398.8,340.1L403.5,335.5M404.7,332.9L403.5,335.5M401.4,343.9L398.8,340.1M401.4,343.9L400.8,345.2M168.1,280.1L394.3,351.0M168.1,280.1L379.6,333.5M394.3,351.0L400.8,345.2M-630.7,55.4L168.1,280.1M405.9,331.6L405.9,331.7M405.9,331.7L404.7,332.9M401.4,343.9L408.4,343.9M408.4,343.9L403.5,335.5M403.1,379.3L405.4,381.5M403.1,379.3L406.8,376.0M409.4,377.3L407.6,375.6M409.4,377.3L409.8,379.9M405.4,381.5L409.8,379.9M406.8,376.0L407.6,375.6M554.8,339.0L555.6,339.7M549.0,329.8L549.5,328.9M555.4,323.4L549.5,328.9M555.4,323.4L543.2,322.0M549.5,328.9L542.6,324.5M543.2,322.0L542.6,324.5M481.4,1.0L509.0,225.4M543.2,322.0L509.0,225.4M540.1,334.3L539.3,332.9M540.1,334.3L547.2,331.2M539.3,332.9L541.6,325.0M541.6,325.0L542.6,324.5M404.4,399.3L401.4,392.9M404.4,399.3L405.1,393.2M401.4,392.9L404.9,392.8M405.1,393.2L404.9,392.8M399.7,387.6L405.3,387.0M399.7,387.6L398.5,391.3M398.5,391.3L401.4,392.9M405.3,387.0L405.8,391.1M405.8,391.1L404.9,392.8M399.7,387.6L396.8,382.6M396.8,382.6L394.2,382.3M398.5,391.3L398.4,391.4M394.2,382.3L389.9,389.1M398.4,391.4L390.4,390.8M389.9,389.1L390.4,390.8M398.4,391.4L397.6,394.8M390.5,394.8L393.5,395.2M390.5,394.8L390.4,390.9M397.6,394.8L393.5,395.2M390.4,390.8L390.4,390.9M386.7,377.6L393.8,382.0M386.7,377.6L394.8,374.2M393.8,382.0L395.2,374.6M394.8,374.2L395.2,374.6M385.9,365.4L391.0,365.6M385.9,365.4L396.3,353.3M396.3,353.3L398.4,355.3M398.4,355.3L393.4,365.0M391.0,365.6L393.4,365.0M403.1,379.3L402.1,379.2M406.8,376.0L401.5,373.1M402.1,379.2L401.5,373.1M420.0,383.7L419.5,384.1M420.0,383.7L425.8,385.3M419.5,384.1L417.0,387.6M420.7,392.4L418.8,391.5M420.7,392.4L425.9,386.4M425.8,385.3L425.9,386.4M418.8,391.5L417.0,387.6M413.9,380.4L419.5,384.1M413.9,380.4L411.6,381.4M411.3,383.8L411.6,381.4M411.3,383.8L416.6,387.6M417.0,387.6L416.6,387.6M396.1,365.9L393.4,365.0M396.1,365.9L400.0,370.0M394.7,373.2L400.3,370.7M394.7,373.2L391.0,365.6M400.0,370.0L400.3,370.7M497.5,414.0L497.1,404.7M497.5,414.0L498.0,414.4M498.0,414.4L505.1,407.4M498.3,403.6L497.1,404.7M498.3,403.6L501.2,403.3M501.2,403.3L505.1,407.4M525.3,395.9L522.9,394.7M525.3,395.9L523.2,404.4M522.9,394.7L511.9,405.2M511.9,405.2L513.8,407.3M513.8,407.3L523.2,404.4M509.0,225.4L513.5,271.7M541.6,325.0L529.0,320.4M513.5,271.7L529.0,320.4M539.3,332.9L531.5,325.3M531.5,325.3L529.1,320.8M529.1,320.8L529.0,320.4M540.1,334.3L539.3,337.6M531.5,325.3L529.7,337.3M539.3,337.6L529.7,337.3M548.9,337.9L541.2,343.0M541.2,343.0L540.8,342.3M539.3,337.6L540.8,342.3M555.6,339.7L546.5,347.2M548.4,350.6L546.5,347.2M540.7,365.1L545.7,367.7M540.7,365.1L539.6,358.3M545.7,367.7L542.8,357.7M542.8,357.7L539.6,358.3M425.8,385.3L428.1,383.4M425.9,386.4L428.6,392.1M428.1,383.4L432.7,385.6M432.7,385.6L432.2,388.6M432.2,388.6L428.6,392.1M473.6,389.0L472.4,391.4M473.6,389.0L468.1,388.1M471.4,391.9L472.4,391.4M471.4,391.9L467.6,390.1M467.6,390.1L468.1,388.1M455.2,392.9L448.7,386.6M455.2,392.9L449.7,396.6M448.7,386.6L444.5,386.4M443.0,388.0L444.5,386.4M443.0,388.0L448.0,395.3M449.7,396.6L448.0,395.3M405.3,387.0L406.1,386.5M405.8,391.1L409.9,392.8M409.9,392.8L409.8,391.2M409.8,391.2L406.1,386.5M396.8,382.6L398.4,380.8M405.4,381.5L406.2,386.3M402.1,379.2L398.4,380.8M406.2,386.3L406.1,386.5M392.9,398.2L392.4,397.9M392.9,398.2L390.8,402.3M392.4,397.9L390.0,401.1M390.0,401.1L390.2,402.0M390.8,402.3L390.2,402.0M390.3,395.5L392.4,397.9M390.3,395.5L390.5,394.8M394.8,398.8L393.5,395.2M394.8,398.8L392.9,398.2M390.3,395.5L388.1,397.3M388.1,397.3L390.0,401.1M401.6,400.1L397.9,398.4M401.6,400.1L398.3,404.8M397.9,398.4L396.1,399.5M396.1,399.5L394.4,403.1M394.4,403.1L396.4,405.0M398.3,404.8L396.4,405.0M404.6,400.3L401.6,400.1M404.6,400.3L404.4,399.3M397.6,394.8L397.9,398.4M394.8,398.8L396.1,399.5M392.9,403.4L390.8,402.3M392.9,403.4L394.4,403.1M384.7,401.4L385.5,398.5M384.7,401.4L378.0,399.2M378.0,399.2L385.5,398.5M384.8,401.7L384.7,401.4M384.8,401.7L388.4,402.9M388.1,397.3L385.9,397.6M385.9,397.6L385.5,398.5M388.4,402.9L390.2,402.0M396.4,374.9L400.6,371.4M396.4,374.9L397.6,376.8M397.6,376.8L401.3,372.6M400.6,371.4L401.2,372.0M401.3,372.6L401.2,372.0M394.8,374.2L394.7,373.2M395.2,374.6L396.4,374.9M400.3,370.7L400.6,371.4M394.2,382.3L393.8,382.0M398.4,380.8L397.6,376.8M401.5,373.1L401.3,372.6M407.6,375.6L408.2,371.7M408.2,371.7L408.1,371.3M408.1,371.3L401.2,372.0M402.7,439.8L403.8,434.6M402.7,439.8L412.0,435.9M403.8,434.6L406.9,432.9M406.9,432.9L408.6,432.8M408.6,432.8L411.9,434.4M412.0,435.9L411.9,434.4M407.9,426.5L406.9,432.9M407.9,426.5L411.5,427.1M408.6,432.8L412.0,428.0M411.5,427.1L412.0,428.0M420.7,392.4L422.1,394.0M422.1,394.0L424.8,394.6M428.6,392.1L428.6,394.7M424.8,394.6L428.6,394.7M522.9,394.7L520.2,392.3M511.9,405.2L511.2,404.7M520.2,392.3L513.5,397.0M511.2,404.7L510.9,403.7M513.5,397.0L510.9,403.7M501.2,403.3L504.7,397.3M505.1,407.4L511.2,404.7M510.9,403.7L504.7,397.3M511.8,414.7L514.3,410.6M511.8,414.7L514.4,422.8M514.3,410.6L547.2,431.7M514.4,422.8L559.3,442.1M559.3,442.1L547.2,431.7M498.0,414.4L499.5,418.6M499.5,418.6L511.8,414.7M513.8,407.3L514.3,410.6M523.2,404.4L547.2,431.7M525.3,395.9L528.1,395.4M513.4,368.2L516.0,376.9M513.4,368.2L513.8,367.4M513.8,367.4L527.1,374.4M516.0,376.9L518.4,378.3M518.4,378.3L524.3,378.3M524.3,378.3L525.1,378.0M525.1,378.0L527.1,374.4M514.0,387.9L513.2,386.5M514.0,387.9L516.2,389.9M516.2,389.9L520.1,392.3M520.1,392.3L524.3,378.3M513.2,386.5L518.4,378.3M528.1,395.4L531.1,388.0M520.2,392.3L520.1,392.3M529.8,383.7L531.1,388.0M529.8,383.7L525.1,378.0M545.7,367.7L548.3,369.8M544.7,356.9L542.8,357.7M544.7,356.9L548.5,369.8M548.3,369.8L548.5,369.8M546.1,356.0L544.7,356.9M546.1,356.0L562.7,373.8M548.5,369.8L562.7,373.8M548.4,350.6L546.1,356.0M473.6,397.0L471.4,391.9M473.6,397.0L475.5,397.3M472.4,391.4L480.0,392.8M475.5,397.3L480.0,392.8M454.6,339.4L446.3,348.8M454.6,339.4L446.0,335.5M446.3,348.8L444.3,335.4M446.0,335.5L444.3,335.4M455.2,339.3L454.9,322.7M455.2,339.3L454.6,339.4M454.9,322.7L446.0,335.5M455.8,278.0L455.5,320.1M455.8,278.0L438.7,328.8M454.9,322.7L455.5,320.1M444.3,335.4L442.8,335.0M438.7,328.8L442.8,335.0M541.6,343.9L532.7,350.6M541.6,343.9L542.4,344.8M542.4,344.8L537.4,357.5M532.7,350.6L534.8,357.6M534.8,357.6L537.4,357.5M541.2,343.0L541.6,343.9M546.5,347.2L542.4,344.8M539.6,358.3L537.4,357.5M540.8,342.3L528.1,344.5M529.7,337.3L525.8,339.0M528.1,344.5L525.8,339.0M532.7,350.6L528.0,348.5M528.1,344.5L528.0,348.5M494.2,402.6L497.1,404.7M494.2,402.6L497.2,395.1M498.3,403.6L499.5,395.2M499.5,395.2L497.2,395.1M495.7,368.7L507.3,370.7M495.7,368.7L495.8,366.0M495.8,366.0L495.8,366.0M495.8,366.0L504.0,362.3M504.0,362.3L507.9,369.9M507.9,369.9L507.3,370.7M506.8,375.1L507.3,370.7M506.8,375.1L499.8,378.6M493.8,374.2L494.1,376.3M493.8,374.2L495.7,368.7M494.1,376.3L499.8,378.6M506.8,375.1L510.4,377.6M510.4,377.6L516.0,376.9M513.4,368.2L507.9,369.9M510.2,303.9L509.4,330.3M510.2,303.9L496.8,330.9M496.8,330.9L509.4,330.3M520.4,334.5L513.5,271.7M520.4,334.5L509.5,330.7M513.5,271.7L510.2,303.9M509.5,330.7L509.4,330.3M434.0,389.7L436.7,393.7M434.0,389.7L438.6,385.2M436.7,393.7L441.9,388.0M438.6,385.2L441.9,388.0M432.7,385.6L437.6,384.1M432.2,388.6L434.0,389.7M437.6,384.1L438.6,385.2M443.0,388.0L441.9,388.0M448.0,395.3L438.5,397.6M436.7,393.7L436.0,395.0M436.0,395.0L438.5,397.6M457.1,383.7L457.2,380.7M457.1,383.7L457.4,385.0M457.4,385.0L468.0,387.5M458.0,379.9L457.2,380.7M458.0,379.9L469.3,383.6M469.3,383.6L468.0,387.5M457.0,392.0L457.4,385.0M457.0,392.0L455.2,392.9M448.7,386.6L457.1,383.7M467.6,390.1L458.0,392.6M467.6,390.1L467.7,397.3M467.7,397.3L466.9,397.4M466.9,397.4L460.3,395.7M460.3,395.7L458.0,392.6M467.6,390.1L467.6,390.1M468.1,388.1L468.0,387.5M457.0,392.0L458.0,392.6M473.6,397.0L468.7,397.9M468.7,397.9L467.7,397.3M449.6,399.2L448.8,400.6M449.6,399.2L449.7,396.6M438.8,399.0L438.5,397.6M438.8,399.0L441.8,401.7M441.8,401.7L448.8,400.6M437.0,403.6L440.2,405.5M437.0,403.6L436.8,401.9M436.8,401.9L438.8,399.0M441.8,401.7L440.2,405.5M434.9,408.9L440.8,407.6M434.9,408.9L432.5,407.0M432.5,407.0L437.0,403.6M440.2,405.5L440.8,407.6M462.2,420.9L458.6,426.6M462.2,420.9L460.6,418.8M458.6,426.6L455.9,425.8M455.9,425.8L454.4,425.1M454.4,425.1L455.7,419.4M460.6,418.8L455.7,419.4M382.4,426.4L375.9,422.3M382.4,426.4L383.7,423.3M383.7,423.3L380.4,420.5M375.9,422.3L379.9,420.5M379.9,420.5L380.4,420.5M362.4,423.8L375.9,422.3M362.4,423.8L375.7,428.7M375.7,428.7L383.6,428.5M383.6,428.5L382.4,426.4M388.2,423.0L383.7,423.3M388.2,423.0L387.9,421.0M380.4,420.5L382.8,419.3M387.9,421.0L382.8,419.3M402.7,439.8L401.0,443.8M412.0,435.9L413.6,438.5M401.0,443.8L413.6,438.5M466.4,422.9L467.9,425.6M466.4,422.9L465.1,421.8M465.1,421.8L462.2,420.9M458.6,426.6L459.1,427.3M459.1,427.3L460.7,427.9M467.9,425.6L467.5,426.4M467.5,426.4L460.7,427.9M476.3,405.4L475.6,408.5M476.3,405.4L470.9,404.6M471.8,412.1L471.8,412.1M471.8,412.1L468.5,409.1M468.5,409.1L470.9,404.6M475.6,408.5L471.8,412.1M499.5,418.6L498.8,427.2M514.4,422.8L498.9,427.4M498.9,427.4L498.8,427.2M473.4,443.7L470.2,444.5M473.4,443.7L471.6,441.3M470.2,444.5L470.2,444.4M470.2,444.4L471.6,441.3M411.7,387.8L410.8,389.0M411.7,387.8L409.2,385.3M410.8,389.0L407.6,386.0M409.2,385.3L407.6,386.0M414.0,389.7L416.3,387.8M414.0,389.7L410.9,389.5M416.3,387.8L411.7,387.8M410.9,389.5L410.8,389.0M411.3,383.8L409.2,385.3M416.6,387.6L416.3,387.8M410.9,389.5L409.8,391.2M406.2,386.3L407.6,386.0M409.8,379.9L411.6,381.4M389.9,389.1L386.0,387.1M390.4,390.9L386.2,392.6M386.2,392.6L385.2,390.5M386.0,387.1L385.2,390.5M386.7,377.6L359.8,368.3M386.0,387.1L359.8,368.3M386.2,392.6L385.2,393.1M385.2,393.1L384.2,391.6M385.2,390.5L384.2,391.6M385.9,365.4L355.7,366.3M359.8,368.3L355.7,366.3M-630.7,55.4L354.0,365.9M394.3,351.0L396.3,353.3M354.0,365.9L355.7,366.3M404.6,400.3L405.3,400.7M405.3,400.7L405.5,401.4M398.3,404.8L402.1,407.2M405.5,401.4L404.0,406.7M402.1,407.2L404.0,406.7M392.9,403.4L392.1,405.3M388.4,402.9L388.1,404.0M388.1,404.0L389.1,405.6M392.1,405.3L389.1,405.6M422.1,394.0L419.5,398.8M418.8,391.5L416.8,393.6M416.8,393.6L415.9,399.1M415.9,399.1L419.5,398.8M436.2,415.7L434.9,408.9M436.2,415.7L435.7,416.6M426.4,410.8L428.0,408.5M426.4,410.8L428.2,415.9M428.2,415.9L429.8,417.3M432.5,407.0L432.5,407.0M432.5,407.0L428.0,408.5M435.7,416.6L431.3,417.8M429.8,417.3L431.3,417.8M403.5,425.0L402.6,432.2M403.5,425.0L401.4,423.9M398.2,430.6L402.6,432.2M398.2,430.6L397.4,428.1M401.4,423.9L397.4,428.1M411.9,434.4L413.0,433.4M412.0,428.0L413.1,428.7M413.0,433.4L413.1,428.7M408.4,398.3L413.8,398.8M408.4,398.3L409.0,394.9M413.8,398.8L412.7,393.5M409.0,394.9L410.0,393.1M410.0,393.1L412.1,393.1M412.1,393.1L412.7,393.5M405.1,393.2L409.0,394.9M405.3,400.7L408.4,398.3M416.8,393.6L412.7,393.5M415.9,399.1L415.3,399.5M415.3,399.5L413.8,398.8M409.9,392.8L410.0,393.1M414.0,389.7L412.1,393.1M509.2,392.6L506.1,393.6M509.2,392.6L511.9,393.5M506.1,393.6L512.7,396.1M511.9,393.5L512.7,396.1M514.0,387.9L509.2,392.6M516.2,389.9L511.9,393.5M513.5,397.0L512.7,396.1M536.4,382.1L545.5,388.4M536.4,382.1L536.5,374.1M536.5,374.1L536.9,374.2M536.9,374.2L550.9,389.8M545.5,388.4L550.9,389.8M529.8,383.7L536.4,382.1M531.1,388.0L545.5,388.4M529.7,371.0L527.1,374.4M529.7,371.0L536.5,374.1M540.7,365.1L529.7,370.1M529.7,370.1L529.7,371.0M548.3,369.8L536.9,374.2M413.9,380.4L414.8,377.5M420.0,383.7L420.6,379.5M420.6,379.5L414.8,377.5M409.4,377.3L414.4,375.4M414.8,377.5L414.4,375.4M408.2,371.7L414.5,375.0M414.4,375.4L414.5,375.0M396.1,365.9L404.3,361.7M400.0,370.0L405.6,365.7M404.3,361.7L405.6,365.7M408.1,371.3L409.0,368.7M405.6,365.7L409.0,368.7M522.8,336.7L511.7,340.8M522.8,336.7L522.3,335.5M520.9,334.8L522.3,335.5M520.9,334.8L511.6,340.5M511.6,340.5L511.7,340.8M515.7,345.2L518.3,344.7M515.7,345.2L511.9,342.4M518.3,344.7L523.9,338.3M523.9,338.3L522.8,336.7M511.9,342.4L511.7,340.8M529.1,320.8L522.3,335.5M525.8,339.0L523.9,338.3M520.4,334.5L520.9,334.8M513.5,271.7L513.5,271.7M509.5,330.7L508.7,333.3M508.7,333.3L511.6,340.5M526.9,349.3L518.6,345.1M526.9,349.3L523.0,354.5M518.6,345.1L522.4,354.3M523.0,354.5L522.4,354.3M528.0,348.5L526.9,349.3M518.3,344.7L518.6,345.1M534.8,357.6L528.4,363.2M523.0,354.5L527.0,362.0M528.4,363.2L527.0,362.0M529.7,370.1L528.7,366.8M528.4,363.2L528.7,366.8M513.8,367.4L514.0,366.8M528.7,366.8L514.0,366.8M504.0,362.3L504.7,361.4M514.0,366.8L513.9,362.5M504.7,361.4L513.9,362.5M527.0,362.0L514.0,362.3M513.9,362.5L514.0,362.3M522.4,354.3L514.7,354.8M514.0,362.3L514.7,354.8M515.7,345.2L513.6,353.6M513.6,353.6L514.7,354.8M480.0,392.8L482.6,394.5M480.0,392.8L480.0,389.4M480.0,389.4L486.5,382.5M482.6,394.5L487.1,396.2M489.0,382.2L486.5,382.5M489.0,382.2L492.2,392.3M487.1,396.2L489.0,395.7M492.3,393.2L492.2,392.3M492.3,393.2L489.1,395.7M489.1,395.7L489.0,395.7M473.6,389.0L477.4,387.8M480.0,392.8L480.0,392.8M477.4,387.8L480.0,389.4M490.2,381.1L498.0,387.3M490.2,381.1L489.0,382.2M498.0,387.3L492.2,392.3M494.2,402.6L494.2,402.6M494.2,402.6L489.1,395.7M497.2,395.1L492.3,393.2M494.2,402.6L490.9,404.0M490.9,404.0L489.0,395.7M500.8,387.5L502.3,382.7M500.8,387.5L502.6,394.5M504.5,393.8L503.2,394.6M504.5,393.8L508.9,385.2M502.3,382.7L508.2,384.3M503.2,394.6L502.6,394.5M508.2,384.3L508.9,385.2M490.2,381.1L494.1,376.3M499.8,378.6L502.3,382.7M498.0,387.3L500.8,387.5M499.5,395.2L502.6,394.5M504.7,397.3L503.2,394.6M506.1,393.6L504.5,393.8M513.2,386.5L508.9,385.2M510.4,377.6L508.2,384.3M458.0,379.9L460.0,375.4M469.3,383.6L469.9,383.1M460.0,375.4L467.4,372.3M467.4,372.3L469.9,383.1M511.9,342.4L507.3,345.6M508.7,333.3L506.4,335.0M506.4,335.0L505.2,336.2M505.2,336.2L506.2,345.6M506.2,345.6L507.3,345.6M500.4,339.4L504.9,345.9M500.4,339.4L505.2,336.2M506.2,345.6L504.9,345.9M511.6,353.3L513.6,353.6M511.6,353.3L508.7,348.2M508.7,348.2L507.3,345.6M428.6,394.7L428.9,395.1M436.0,395.0L434.8,395.3M434.8,395.3L428.9,395.1M449.6,399.2L452.6,401.2M452.6,401.2L454.9,408.8M448.8,400.6L447.4,409.1M447.4,409.1L454.9,408.8M452.6,401.2L457.0,402.8M457.0,402.8L456.8,409.2M456.8,409.2L456.8,409.2M454.9,408.8L456.8,409.2M460.6,418.8L461.6,414.2M455.7,419.4L453.5,417.5M453.5,417.5L456.2,412.6M461.6,414.2L457.3,411.4M457.3,411.4L456.2,412.6M449.3,416.9L446.3,420.7M449.3,416.9L448.4,412.5M448.4,412.5L447.2,409.3M446.3,420.7L445.1,421.4M447.2,409.3L443.6,409.8M444.4,421.5L445.1,421.4M444.4,421.5L442.0,411.8M442.0,411.8L443.6,409.8M454.4,425.1L453.9,425.3M453.9,425.3L446.3,420.7M453.5,417.5L449.3,416.9M456.2,412.6L448.4,412.5M447.4,409.1L447.2,409.3M456.8,409.2L457.3,411.4M440.8,407.6L443.6,409.8M436.2,415.7L442.0,411.8M435.7,416.6L441.9,422.4M441.9,422.4L444.4,421.5M465.0,413.8L471.8,412.1M465.0,413.8L463.9,413.3M468.5,409.1L468.1,409.1M468.1,409.1L463.9,413.3M465.1,421.8L467.2,416.3M467.2,416.3L465.0,413.8M461.6,414.2L463.5,413.2M463.5,413.2L463.9,413.3M354.0,404.1L376.3,408.4M379.9,420.5L380.5,414.9M380.5,414.9L376.3,408.4M354.0,404.1L377.7,399.2M384.8,401.7L381.5,408.0M377.7,399.2L378.0,399.2M376.3,408.4L381.5,408.0M384.3,408.7L388.1,404.0M384.3,408.7L382.5,408.4M381.5,408.0L382.5,408.4M380.5,414.9L383.1,415.7M382.5,408.4L383.9,414.4M383.9,414.4L383.1,415.7M382.8,419.3L383.7,417.0M383.7,417.0L383.1,415.7M474.0,420.4L471.8,419.3M474.0,420.4L478.9,418.3M478.8,417.9L472.1,414.5M478.8,417.9L478.9,418.2M471.8,419.3L470.7,418.4M478.9,418.3L478.9,418.2M470.7,418.4L470.6,416.4M470.6,416.4L472.1,414.5M471.9,425.5L474.0,420.4M471.9,425.5L470.0,425.5M470.0,425.5L471.8,419.3M479.3,413.7L478.8,417.9M479.3,413.7L475.6,408.5M471.8,412.1L472.1,414.5M470.0,425.5L467.9,425.6M466.4,422.9L470.7,418.4M479.0,418.6L488.2,424.1M479.0,418.6L478.9,418.3M488.2,424.1L486.2,415.9M486.2,415.9L478.9,418.2M467.2,416.3L470.6,416.4M483.8,426.6L484.0,432.5M483.8,426.6L478.3,426.4M484.0,432.5L477.5,427.2M478.3,426.4L477.5,427.2M488.2,424.1L483.8,426.6M488.2,424.1L488.2,424.1M479.0,418.6L478.3,426.4M471.9,425.5L476.5,427.8M476.5,427.8L477.5,427.2M473.4,443.7L473.9,443.7M471.6,441.3L471.6,440.2M471.6,440.2L473.9,440.9M473.9,443.7L473.9,440.9M473.8,436.8L475.3,436.5M473.8,436.8L470.8,439.3M470.8,439.3L471.6,440.2M476.3,437.0L475.3,436.5M476.3,437.0L475.6,439.8M475.6,439.8L473.9,440.9M459.1,427.3L458.1,430.7M455.9,425.8L455.5,429.6M458.1,430.7L457.7,431.0M457.7,431.0L456.6,431.3M455.5,429.6L455.5,430.4M455.5,430.4L456.4,431.3M456.6,431.3L456.4,431.3M456.7,444.3L458.5,446.1M456.7,444.3L455.7,447.0M458.5,446.1L456.4,447.9M455.7,447.0L456.4,447.9M470.8,439.3L469.6,439.2M470.2,444.4L469.5,443.4M469.0,439.5L469.5,443.4M469.0,439.5L469.5,439.2M469.6,439.2L469.5,439.2M472.9,436.3L470.9,434.2M472.9,436.3L469.9,436.2M469.9,436.2L469.6,433.5M470.9,434.2L469.6,433.5M473.8,436.8L472.9,436.3M475.3,436.5L474.5,433.9M474.5,433.9L470.9,434.2M469.8,436.5L469.6,439.2M469.8,436.5L469.9,436.2M467.5,426.4L467.3,429.4M460.7,427.9L461.9,430.5M461.9,430.5L465.1,431.1M467.3,429.4L465.1,431.1M362.6,374.0L373.4,383.5M362.6,374.0L382.4,396.0M373.4,383.5L384.3,394.9M382.4,396.0L384.2,395.7M384.2,395.7L384.3,394.9M384.2,391.6L373.4,383.5M354.0,365.9L362.6,374.0M377.7,399.2L382.4,396.0M385.2,393.1L384.3,394.9M385.9,397.6L384.2,395.7M384.3,408.7L385.1,409.0M389.1,405.6L388.1,409.1M385.1,409.0L388.1,409.1M383.9,414.4L387.0,414.5M385.1,409.0L387.0,414.5M392.1,405.3L391.4,410.0M388.1,409.1L391.4,410.0M396.4,405.0L396.3,408.2M396.3,408.2L391.5,410.2M391.5,410.2L391.4,410.0M383.7,417.0L388.6,416.2M387.0,414.5L388.6,416.2M387.9,421.0L389.5,416.7M389.5,416.7L388.6,416.2M396.4,419.5L398.7,413.1M396.4,419.5L393.2,416.6M393.2,416.6L398.7,413.1M392.0,412.4L391.9,415.6M392.0,412.4L391.5,410.2M389.5,416.7L391.8,415.6M391.8,415.6L391.9,415.6M436.3,430.6L438.7,431.8M436.3,430.6L437.1,427.3M437.1,427.3L438.5,426.0M438.5,426.0L438.8,431.6M438.8,431.6L438.7,431.8M441.8,428.7L438.8,431.6M441.8,428.7L442.3,431.4M438.9,432.5L438.7,431.8M438.9,432.5L440.8,433.1M440.8,433.1L442.3,431.4M420.3,419.6L420.3,419.9M420.3,419.6L428.2,415.9M420.3,419.9L421.9,422.9M421.9,422.9L424.0,423.2M429.8,417.3L428.7,419.1M424.0,423.2L428.7,419.1M441.2,423.9L441.6,425.3M441.2,423.9L439.5,424.8M441.8,428.7L442.0,427.8M442.0,427.8L441.9,426.9M438.5,426.0L439.2,425.0M439.5,424.8L439.2,425.0M441.6,425.3L441.9,426.9M396.9,420.1L398.9,420.7M396.9,420.1L392.5,424.3M398.9,420.7L395.4,427.2M392.5,424.3L394.0,426.3M394.0,426.3L395.4,427.2M396.4,419.5L396.9,420.1M388.2,423.0L389.1,424.6M389.1,424.6L392.5,424.3M393.2,416.6L391.8,415.6M420.6,379.5L420.6,379.5M420.6,379.5L419.1,373.7M414.5,375.0L416.9,372.5M419.1,373.7L416.9,372.5M458.4,371.3L459.5,374.7M458.4,371.3L454.0,368.5M459.5,374.7L450.8,370.8M454.0,368.5L450.8,370.8M446.3,348.8L445.8,349.8M442.8,335.0L438.6,341.1M438.6,341.1L445.8,349.8M495.8,366.0L496.9,359.6M504.7,361.4L504.5,357.5M496.9,359.6L498.2,357.8M498.2,357.8L504.5,357.5M504.9,345.9L504.0,346.8M508.7,348.2L503.3,353.2M504.0,346.8L503.2,353.2M503.2,353.2L503.3,353.2M511.6,353.3L505.0,355.1M503.3,353.2L505.0,355.1M505.0,355.1L504.5,357.5M500.4,339.4L497.3,339.7M506.4,335.0L496.7,333.1M497.3,339.7L496.7,333.1M496.6,331.1L496.5,332.4M496.6,331.1L491.6,327.3M491.6,327.3L490.6,334.8M490.6,334.8L496.5,332.4M496.6,331.1L496.8,330.9M496.7,333.1L496.5,332.4M465.9,350.9L466.1,350.9M465.9,350.9L462.9,344.0M466.1,350.9L470.9,346.1M470.9,346.1L471.1,344.9M471.1,344.9L466.7,342.3M466.7,342.3L462.9,344.0M457.3,348.9L456.7,340.9M457.3,348.9L461.9,352.0M461.9,352.0L465.9,350.9M462.9,344.0L456.7,340.9M458.4,371.3L458.4,364.3M454.0,368.5L454.7,363.4M454.7,363.4L458.4,364.3M460.0,375.4L459.5,374.7M467.4,372.3L468.8,370.8M468.8,370.8L460.0,363.7M458.4,364.3L460.0,363.7M495.8,366.0L488.5,360.7M496.9,359.6L494.3,355.1M488.5,360.7L494.3,355.1M477.5,372.5L473.8,371.6M477.5,372.5L479.1,377.1M473.8,371.6L471.8,383.0M479.1,377.1L473.9,383.2M473.9,383.2L471.8,383.0M493.8,374.2L481.7,369.0M486.5,382.5L479.1,377.1M481.7,369.0L477.5,372.5M468.8,370.8L470.1,370.2M469.9,383.1L471.8,383.0M470.1,370.2L473.8,371.6M477.4,387.8L473.9,383.2M434.9,401.5L434.2,399.4M434.9,401.5L432.2,402.8M434.2,399.4L431.5,401.7M432.2,402.8L431.5,401.7M436.8,401.9L434.9,401.5M434.8,395.3L434.2,399.4M432.5,407.0L432.2,402.8M428.9,395.2L428.9,395.1M428.9,395.2L429.2,399.8M429.2,399.8L431.5,401.7M428.0,408.5L426.4,403.4M426.4,403.4L429.2,399.8M460.3,395.7L460.1,401.5M457.0,402.8L459.9,401.8M460.1,401.5L459.9,401.8M456.8,409.2L462.0,406.6M459.9,401.8L462.0,406.6M463.5,413.2L463.2,407.0M462.0,406.6L463.2,407.0M466.2,402.9L463.9,406.9M466.2,402.9L468.8,402.8M468.8,402.8L469.0,403.2M469.0,403.2L465.5,406.9M465.5,406.9L463.9,406.9M468.7,397.9L468.8,402.8M476.3,405.4L477.1,404.7M475.5,397.3L477.1,404.7M470.9,404.6L469.0,403.2M468.1,409.1L465.5,406.9M463.2,407.0L463.4,406.9M463.4,406.9L463.9,406.9M387.7,428.1L392.6,429.7M387.7,428.1L387.0,429.0M387.0,429.0L391.7,441.4M393.5,430.8L392.6,429.7M393.5,430.8L394.1,434.6M394.1,434.6L391.7,441.4M389.1,424.6L387.7,428.1M394.0,426.3L392.6,429.7M383.6,428.5L384.3,429.1M384.3,429.1L387.0,429.0M396.2,427.9L395.4,427.2M396.2,427.9L393.5,430.8M398.2,430.6L394.1,434.6M396.2,427.9L397.4,428.1M402.6,432.2L403.8,434.6M401.0,443.8L393.1,457.1M393.1,457.1L391.7,447.5M391.7,447.5L391.7,441.4M384.7,436.9L383.3,430.5M384.7,436.9L380.6,433.2M383.3,430.5L380.7,432.6M380.6,433.2L380.7,432.6M384.3,429.1L383.3,430.5M391.7,447.5L384.7,436.9M393.1,457.1L392.4,460.8M392.4,460.8L386.6,475.2M375.7,428.7L380.7,432.6M427.2,436.9L427.5,435.0M427.2,436.9L428.5,438.4M427.5,435.0L428.7,434.3M428.7,434.3L430.1,435.2M428.5,438.4L430.1,435.2M446.1,460.7L444.5,460.8M446.1,460.7L447.4,456.8M444.5,460.8L444.0,457.5M444.0,457.5L445.0,456.2M447.4,456.8L445.0,456.2M448.8,455.7L449.0,453.4M448.8,455.7L447.4,456.8M449.0,453.4L447.0,453.1M445.0,456.2L444.4,454.7M447.0,453.1L445.1,453.3M444.4,454.7L445.1,453.3M444.0,457.5L443.1,456.9M444.4,454.7L443.3,455.0M443.1,456.9L443.3,455.0M426.6,452.3L427.3,450.4M426.6,452.3L429.4,451.6M429.4,451.6L427.3,450.4M429.6,449.2L430.1,450.0M429.6,449.2L427.1,449.9M427.1,449.9L427.3,450.4M430.1,450.0L430.2,451.7M430.2,451.7L429.4,451.6M458.1,430.7L459.7,432.2M461.9,430.5L461.4,431.5M459.7,432.2L461.4,431.5M479.3,413.7L481.1,412.4M486.2,415.9L486.4,415.5M486.4,415.5L482.9,412.3M481.1,412.4L482.9,412.3M498.9,427.4L500.2,445.0M498.8,427.2L488.2,424.1M500.2,445.0L490.5,438.6M484.0,432.5L484.2,433.3M484.2,433.3L490.5,438.6M475.9,428.8L474.5,432.8M475.9,428.8L469.3,432.3M474.5,432.8L469.3,432.5M469.3,432.3L469.3,432.5M476.3,437.0L476.8,437.0M476.8,437.0L478.1,430.8M474.5,433.9L474.5,432.8M476.5,427.9L478.1,430.8M476.5,427.9L475.9,428.8M476.5,427.8L476.5,427.9M467.3,429.4L469.3,432.3M469.6,433.5L469.3,433.2M469.3,433.2L469.3,432.5M454.1,431.0L454.1,429.8M454.1,431.0L455.5,430.4M455.5,430.4L454.1,429.8M453.8,431.3L454.1,431.0M453.8,431.3L452.3,430.8M453.6,429.3L454.1,429.8M453.6,429.3L452.4,428.1M452.3,430.8L452.4,428.1M455.5,429.6L453.6,429.3M455.5,430.4L455.5,430.4M470.4,452.5L469.7,451.6M470.4,452.5L469.5,453.3M469.7,451.6L468.2,452.0M468.2,452.0L469.5,453.3M448.8,455.7L449.9,456.9M446.1,460.7L447.5,461.5M447.5,461.5L449.9,456.9M470.4,452.5L473.7,453.6M473.7,453.6L469.9,455.3M469.5,453.3L469.3,453.9M469.9,455.3L469.3,453.9M467.1,446.2L468.9,446.2M467.1,446.2L465.8,447.1M468.9,446.2L467.9,449.6M465.8,447.1L465.5,447.5M467.9,449.6L466.1,449.1M466.1,449.1L465.5,447.5M459.5,449.0L458.8,446.1M459.5,449.0L459.5,449.1M459.5,449.1L462.1,449.3M459.3,445.9L458.8,446.1M459.3,445.9L462.3,447.9M462.1,449.3L462.6,448.6M462.3,447.9L462.6,448.6M458.5,446.1L458.8,446.1M456.4,447.9L456.3,448.6M456.3,448.6L459.5,449.0M458.5,452.9L458.4,451.0M458.5,452.9L458.3,453.0M458.3,453.0L453.4,450.4M458.4,451.0L455.8,449.3M455.8,449.3L453.4,450.4M462.9,453.8L463.0,453.6M462.9,453.8L458.5,452.9M463.0,453.6L462.1,449.3M459.5,449.1L458.4,451.0M456.3,448.6L455.8,449.3M454.7,446.6L455.7,447.0M454.7,446.6L453.0,450.5M453.0,450.5L453.4,450.4M469.8,436.5L468.1,436.2M469.5,439.2L467.9,436.9M467.9,436.9L468.1,436.2M466.1,442.5L466.2,442.5M466.1,442.5L464.7,442.4M466.2,442.5L468.2,439.7M464.7,442.4L464.2,442.1M466.6,438.9L464.0,441.5M466.6,438.9L468.2,439.7M464.2,442.1L464.0,441.5M470.2,444.5L469.6,446.1M469.6,446.1L468.9,446.2M467.1,446.2L466.1,442.5M469.5,443.4L466.2,442.5M464.3,445.5L465.8,447.1M464.3,445.5L464.7,442.4M469.0,439.5L468.2,439.7M464.3,445.5L462.8,445.1M463.0,442.9L462.8,445.1M463.0,442.9L464.2,442.1M462.6,438.3L462.2,438.6M462.6,438.3L464.8,438.1M462.3,439.0L462.2,438.6M462.3,439.0L464.0,441.5M464.8,438.1L466.5,438.8M466.5,438.8L466.6,438.9M466.5,438.8L466.8,436.4M466.8,436.4L467.9,436.9M416.9,411.3L415.8,406.4M416.9,411.3L416.7,411.6M416.7,411.6L408.1,409.1M415.8,406.4L415.0,405.3M409.5,407.6L408.1,409.1M409.5,407.6L414.1,405.3M414.1,405.3L415.0,405.3M425.0,410.6L421.5,404.0M425.0,410.6L416.9,411.3M421.5,404.0L420.4,404.0M420.4,404.0L415.8,406.4M426.4,410.8L425.0,410.6M420.3,419.6L416.1,413.0M416.1,413.0L416.7,411.6M415.3,399.5L415.0,405.3M419.5,398.8L419.9,399.2M420.4,404.0L419.9,399.2M405.5,401.4L407.3,402.4M407.3,402.4L409.5,407.6M404.0,406.7L406.2,409.7M406.2,409.7L406.4,409.7M406.4,409.7L408.1,409.1M407.3,402.4L414.1,405.3M402.1,407.2L399.6,409.8M406.2,409.7L404.0,413.2M404.0,413.2L399.6,409.8M398.7,413.1L398.8,413.0M391.9,415.6L398.5,412.1M398.8,413.0L398.5,412.1M392.0,412.4L398.5,411.3M398.5,412.1L398.5,411.3M396.3,408.2L398.8,410.1M398.5,411.3L398.8,410.1M398.8,410.1L399.6,409.8M404.3,418.5L401.7,414.9M404.3,418.5L399.7,421.1M399.7,421.1L399.2,420.7M399.2,420.7L401.4,415.0M401.4,415.0L401.7,414.9M401.4,423.9L399.7,421.1M398.9,420.7L399.2,420.7M398.8,413.0L401.4,415.0M404.0,413.2L403.9,413.8M403.9,413.8L401.7,414.9M405.1,415.1L405.6,417.7M405.1,415.1L410.4,414.4M405.6,417.7L412.2,416.1M410.4,414.4L412.5,415.5M412.2,416.1L412.5,415.5M405.5,417.9L405.6,417.7M405.5,417.9L404.3,418.5M403.9,413.8L405.1,415.1M406.4,409.7L410.4,414.4M416.1,413.0L412.5,415.5M424.8,402.8L423.6,402.7M424.8,402.8L424.8,399.6M423.6,402.7L422.0,399.8M424.8,399.6L422.9,399.3M422.9,399.3L422.0,399.8M426.4,403.4L424.8,402.8M421.5,404.0L423.6,402.7M428.9,395.2L424.8,399.6M419.9,399.2L422.0,399.8M424.8,394.6L422.9,399.3M437.8,436.3L437.5,436.0M437.8,436.3L437.9,436.7M437.9,436.7L436.6,440.5M435.2,439.8L436.6,440.5M435.2,439.8L434.5,436.7M437.5,436.0L434.5,436.7M429.0,432.4L428.7,434.3M429.0,432.4L433.0,434.0M430.1,435.2L430.3,435.3M430.3,435.3L433.0,434.1M433.0,434.0L433.0,434.1M450.5,429.1L452.4,427.7M450.5,429.1L448.2,429.6M448.2,429.6L447.9,429.4M447.9,429.4L449.5,427.4M449.5,427.4L450.4,427.0M450.4,427.0L452.5,427.1M452.5,427.1L452.4,427.7M450.3,432.2L448.9,431.3M450.3,432.2L450.5,429.1M448.9,431.3L448.2,429.6M446.8,424.7L447.3,427.0M446.8,424.7L450.4,427.0M447.3,427.0L449.5,427.4M453.9,425.3L452.5,427.1M445.1,421.4L446.8,424.7M452.4,428.1L452.4,427.7M424.0,423.2L425.7,424.6M428.7,419.1L427.4,423.4M425.7,424.6L426.1,424.7M427.4,423.4L426.1,424.7M441.9,422.4L441.2,423.9M431.3,417.8L431.6,419.6M439.5,424.8L432.6,421.9M431.6,419.6L432.6,421.9M439.2,425.0L433.4,424.7M432.6,421.9L433.4,424.7M445.6,428.5L445.4,427.7M445.6,428.5L446.2,429.8M447.4,429.3L446.8,429.6M447.4,429.3L447.2,428.1M447.2,428.1L445.4,427.7M446.2,429.8L446.8,429.6M441.6,425.3L445.4,427.7M441.9,426.9L445.6,428.5M448.9,431.3L447.2,432.4M447.2,432.4L446.8,429.6M447.9,429.4L447.4,429.3M447.3,427.0L447.2,428.1M421.9,422.9L421.1,426.2M425.7,424.6L423.6,427.2M421.1,426.2L423.6,427.2M420.3,419.9L415.8,422.7M415.8,422.7L418.4,428.0M418.4,428.0L420.4,426.8M421.1,426.2L420.4,426.8M431.4,328.6L423.4,329.7M431.4,328.6L417.5,307.6M423.4,329.7L418.4,322.8M417.5,307.6L418.4,322.8M481.4,1.0L471.5,186.9M417.1,306.0L417.5,307.6M471.5,186.9L455.8,278.0M438.7,328.8L433.9,330.0M433.9,330.0L431.4,328.6M405.9,331.7L413.1,334.9M413.1,334.9L418.4,322.8M433.9,330.0L433.5,330.6M423.4,329.7L423.4,334.1M433.5,330.6L423.4,334.1M420.6,379.5L423.7,377.9M419.1,373.7L422.4,373.3M422.4,373.3L423.7,377.9M409.0,368.7L409.5,368.5M416.9,372.5L416.7,370.6M409.5,368.5L416.7,370.6M446.3,362.4L448.8,353.2M446.3,362.4L448.5,364.4M448.5,364.4L454.5,363.2M454.5,363.2L454.4,357.3M454.4,357.3L450.4,353.4M450.4,353.4L448.8,353.2M450.8,370.8L448.3,370.9M448.3,370.9L448.5,364.4M454.7,363.4L454.5,363.2M460.3,356.3L462.1,360.3M460.3,356.3L454.4,357.3M462.1,360.3L460.0,363.7M457.3,348.9L450.4,353.4M461.9,352.0L460.3,356.3M455.2,339.3L456.0,339.6M445.8,349.8L445.7,350.5M445.7,350.5L448.8,353.2M456.0,339.6L456.7,340.9M439.9,376.3L444.9,372.7M439.9,376.3L447.6,381.1M444.9,372.7L446.9,372.6M446.9,372.6L450.5,378.9M447.6,381.1L450.5,378.9M445.4,384.3L447.6,381.1M445.4,384.3L439.9,376.3M439.9,376.3L439.9,376.3M457.2,380.7L450.5,378.9M448.3,370.9L446.9,372.6M445.4,384.3L444.5,386.4M439.1,353.9L442.3,362.0M439.1,353.9L434.9,359.7M434.9,359.7L442.3,362.0M442.8,362.7L442.3,362.0M442.8,362.7L446.3,362.4M439.2,353.0L445.7,350.5M439.2,353.0L439.1,353.9M442.8,362.7L440.5,365.3M444.9,372.7L443.5,371.0M443.5,371.0L440.5,365.3M466.7,342.3L466.3,340.8M456.0,339.6L462.6,335.7M466.3,340.8L462.6,335.7M455.5,320.1L463.3,334.8M463.3,334.8L462.6,335.7M498.2,357.8L498.2,354.6M494.3,355.1L494.8,353.4M494.8,353.4L498.2,354.6M503.2,353.2L502.9,353.1M502.9,353.1L498.2,354.6M473.5,355.6L480.5,359.5M473.5,355.6L470.0,356.2M480.5,359.5L470.6,365.6M470.0,356.2L468.5,360.3M468.5,360.3L470.6,365.6M466.1,350.9L470.0,356.2M470.9,346.1L475.7,350.4M475.7,350.4L473.5,355.6M481.7,369.0L483.4,359.7M470.1,370.2L470.6,365.6M483.4,359.7L480.5,359.5M462.1,360.3L468.5,360.3M471.1,344.9L475.4,339.8M475.7,350.4L476.9,350.1M480.4,342.2L475.4,339.8M480.4,342.2L480.4,345.5M480.4,345.5L476.9,350.1M464.8,402.6L463.4,406.8M464.8,402.6L463.8,401.6M463.4,406.8L463.5,401.6M463.8,401.6L463.5,401.6M463.4,406.9L463.4,406.8M466.2,402.9L464.8,402.6M466.9,397.4L463.8,401.6M460.1,401.5L463.5,401.6M414.4,439.0L413.1,442.8M414.4,439.0L415.4,438.9M413.1,442.8L415.8,443.3M415.8,443.3L415.4,438.9M420.9,441.9L420.7,444.9M420.9,441.9L418.5,441.1M420.7,444.9L420.6,444.9M420.6,444.9L417.8,444.2M417.8,444.2L417.7,443.6M417.7,443.6L418.5,441.1M416.4,446.9L417.1,444.9M416.4,446.9L411.0,450.3M417.1,444.9L414.9,445.1M414.9,445.1L406.6,450.4M411.0,450.3L403.7,453.2M406.6,450.4L403.7,453.2M417.8,444.2L417.7,444.4M417.7,444.4L417.1,444.9M415.9,443.4L417.7,443.6M415.9,443.4L414.9,445.1M413.1,442.8L406.6,450.4M415.8,443.3L415.9,443.4M413.6,438.5L414.4,439.0M392.4,460.8L403.7,453.2M419.1,450.1L419.1,451.1M419.1,450.1L421.8,449.6M419.1,451.1L421.7,451.5M421.8,449.6L421.8,451.3M421.7,451.5L421.8,451.3M424.2,437.9L424.4,440.4M424.2,437.9L427.2,436.9M424.4,440.4L424.8,440.6M428.5,438.4L428.8,438.9M424.8,440.6L428.8,438.9M420.9,441.9L422.9,441.4M421.8,445.0L420.7,444.9M421.8,445.0L422.6,444.4M422.9,441.4L423.0,442.2M422.6,444.4L423.0,442.2M421.8,445.0L422.2,445.7M422.2,445.7L423.0,446.3M423.0,446.3L423.7,444.8M422.6,444.4L423.7,444.8M424.2,452.2L422.9,453.7M424.2,452.2L424.0,451.7M422.9,453.7L422.3,453.9M421.7,451.5L421.7,454.0M421.8,451.3L423.2,451.2M424.0,451.7L423.2,451.2M422.3,453.9L421.7,454.0M386.6,475.2L394.5,471.3M428.1,466.4L422.1,462.7M422.1,462.7L394.5,471.3M419.1,451.1L411.7,460.1M420.9,454.9L421.7,454.0M420.9,454.9L411.9,460.0M411.9,460.0L411.7,460.1M423.1,462.2L422.1,462.7M423.1,462.2L423.8,461.3M394.5,471.3L411.7,460.1M411.9,460.0L424.1,457.5M423.8,461.3L424.1,457.5M427.0,449.8L426.6,449.9M427.0,449.8L427.1,449.9M425.8,451.4L426.6,449.9M425.8,451.4L426.3,452.4M426.6,452.3L426.4,452.4M426.3,452.4L426.4,452.4M438.4,466.6L438.3,466.2M438.4,466.6L442.7,469.1M442.7,469.1L441.9,464.2M438.3,466.2L438.7,465.3M441.9,464.2L438.7,465.3M441.9,464.2L442.5,462.8M438.7,465.3L438.3,464.6M438.3,464.6L438.0,462.4M442.5,462.1L442.5,462.8M442.5,462.1L439.0,461.7M438.0,462.4L439.0,461.7M443.1,456.9L440.8,457.1M443.3,455.0L442.5,454.8M442.5,454.8L440.8,455.8M440.8,455.8L440.8,457.1M427.0,449.8L426.9,448.4M429.6,449.2L429.3,448.2M426.9,448.4L427.9,447.5M427.9,447.5L429.3,448.2M430.2,451.7L430.2,451.7M430.2,451.7L430.3,452.0M426.4,452.4L426.9,453.6M426.9,453.6L430.3,452.0M465.1,431.1L464.5,432.7M461.4,431.5L462.1,432.8M464.5,432.7L464.5,432.7M464.5,432.7L463.8,432.9M462.1,432.8L463.8,432.9M463.2,435.9L462.3,434.8M463.2,435.9L463.7,435.6M463.7,435.6L464.5,432.7M463.8,432.9L462.3,434.8M486.4,415.5L488.4,414.0M482.9,412.3L485.1,409.7M485.1,409.7L488.4,414.0M497.5,414.0L494.1,412.9M490.9,404.0L489.1,405.9M489.1,405.9L494.1,412.9M494.1,412.9L488.4,414.0M477.1,404.7L478.3,404.8M481.1,412.4L481.4,410.9M481.4,410.9L478.3,404.8M482.6,394.5L480.7,404.5M480.7,404.5L478.3,404.8M480.1,432.7L477.7,436.7M480.1,432.7L481.9,433.2M481.9,433.2L479.6,436.3M477.7,436.7L479.6,436.3M477.1,437.0L477.7,436.7M477.1,437.0L476.8,437.0M478.1,430.8L480.1,432.7M484.2,433.3L481.9,433.2M490.5,438.6L479.6,436.3M469.6,446.1L470.8,447.5M467.9,449.6L468.2,449.8M470.8,447.5L470.8,447.7M470.8,447.7L468.2,449.8M474.5,444.2L478.3,444.6M474.5,444.2L473.5,446.1M473.5,446.1L478.6,453.2M478.3,444.6L490.8,451.0M490.8,451.0L505.1,460.7M478.6,453.2L505.9,462.4M505.1,460.7L505.9,462.4M473.9,443.7L474.5,444.2M475.6,439.8L478.3,444.6M470.8,447.5L473.5,446.1M478.0,453.1L478.6,453.2M478.0,453.1L471.6,449.0M470.8,447.7L471.6,449.0M477.1,437.0L490.8,451.0M500.2,445.0L505.1,460.7M1307.8,1612.9L505.9,462.4M457.7,431.0L457.8,434.2M456.6,431.3L457.0,434.2M457.8,434.2L457.5,434.4M457.5,434.4L457.0,434.2M459.7,432.2L459.7,432.9M457.8,434.2L457.9,434.2M459.7,432.9L457.9,434.2M456.1,435.7L457.4,436.4M456.1,435.7L455.8,434.1M457.5,434.4L457.5,436.1M457.0,434.2L455.8,434.1M457.4,436.4L457.5,436.1M459.3,445.9L459.5,445.7M462.3,447.9L462.2,446.2M459.5,445.7L462.2,446.2M462.8,445.1L462.5,445.2M465.5,447.5L462.6,448.6M462.2,446.2L462.5,445.2M459.5,445.7L460.4,444.4M462.5,445.2L460.6,444.3M460.4,444.4L460.6,444.3M463.0,442.9L461.5,443.0M460.6,444.3L461.5,443.0M462.3,439.0L461.4,440.3M461.4,440.3L461.2,440.7M461.2,440.7L461.0,441.9M461.5,443.0L461.0,441.9M451.3,451.1L453.9,454.6M451.3,451.1L453.0,450.5M458.3,453.0L457.5,454.2M453.9,454.6L457.5,454.2M442.7,469.1L449.9,484.8M442.5,462.8L448.9,468.1M448.9,468.1L449.9,484.8M464.9,456.2L467.8,456.0M464.9,456.2L465.9,458.8M467.8,456.0L469.1,456.5M469.1,456.5L472.1,465.5M465.9,458.8L472.1,465.5M473.7,453.6L478.0,453.1M469.9,455.3L469.1,456.5M1307.8,1612.9L479.0,477.6M472.1,465.5L479.0,477.6M459.3,461.5L463.0,462.1M459.3,461.5L459.3,458.3M461.9,456.9L463.1,459.9M461.9,456.9L459.3,458.3M463.1,459.9L463.0,462.1M463.1,455.1L464.9,456.2M463.1,455.1L461.9,456.9M465.9,458.8L463.1,459.9M463.1,455.1L462.9,453.8M457.5,454.2L457.9,457.5M457.9,457.5L459.3,458.3M479.0,477.6L463.0,462.1M459.3,461.5L458.9,461.9M438.4,466.6L438.3,466.9M438.3,466.9L436.0,481.3M435.7,506.9L436.0,481.3M459.5,531.1L449.9,484.8M459.5,531.1L501.3,749.0M465.8,451.1L463.4,453.4M465.8,451.1L467.8,451.6M463.4,453.4L467.6,453.5M467.8,451.6L468.1,452.0M468.1,452.0L467.6,453.5M467.6,453.5L467.6,453.5M463.0,453.6L463.4,453.4M466.1,449.1L465.8,451.1M467.8,456.0L467.6,453.5M468.2,452.0L468.1,452.0M469.3,453.9L467.6,453.5M465.7,434.3L465.6,435.6M465.7,434.3L469.0,433.4M469.0,433.4L467.8,435.2M467.8,435.2L466.6,436.0M466.6,436.0L465.7,435.7M465.7,435.7L465.6,435.6M463.7,435.6L465.6,435.6M464.5,432.7L465.7,434.3M469.3,433.2L469.0,433.4M468.1,436.2L467.8,435.2M466.8,436.4L466.6,436.0M464.8,438.1L465.7,435.7M462.6,438.3L463.2,435.9M405.7,418.1L408.1,420.4M405.7,418.1L405.0,424.9M408.1,420.4L406.8,423.4M406.8,423.4L405.6,424.9M405.6,424.9L405.0,424.9M403.5,425.0L405.0,424.9M405.5,417.9L405.7,418.1M407.9,426.5L405.6,424.9M411.9,418.1L409.3,419.9M411.9,418.1L413.8,422.6M409.3,419.9L410.1,422.7M410.1,422.7L413.4,422.9M413.4,422.9L413.8,422.6M412.2,416.1L411.9,418.1M408.1,420.4L409.3,419.9M415.8,422.7L413.8,422.6M406.8,423.4L410.1,422.7M411.5,427.1L413.4,422.9M413.1,428.7L417.9,428.9M418.4,428.0L417.9,428.9M438.9,432.5L438.3,433.6M437.8,436.3L442.1,435.0M440.8,433.1L442.1,435.0M437.5,436.0L437.5,435.8M438.3,433.6L437.5,435.8M452.3,430.8L451.6,431.9M450.3,432.2L450.3,432.2M450.3,432.2L451.6,431.9M442.0,427.8L443.3,428.7M446.2,429.8L445.9,429.9M445.9,429.9L443.3,428.7M442.3,431.4L442.9,431.7M442.9,431.7L443.8,431.4M443.8,431.4L444.1,430.8M443.3,428.7L444.1,430.8M445.8,431.6L444.4,431.7M445.8,431.6L445.8,430.3M445.8,430.3L445.1,430.7M445.1,430.7L444.4,431.6M444.4,431.7L444.4,431.6M446.2,433.2L445.8,431.6M446.2,433.2L444.8,433.4M444.8,433.4L444.4,431.7M445.9,429.9L445.8,430.3M444.1,430.8L445.1,430.7M443.8,431.4L444.4,431.6M444.8,433.4L444.0,433.8M444.0,433.8L442.9,431.7M437.7,442.7L436.6,440.5M437.7,442.7L439.9,442.5M437.9,436.7L439.8,438.1M439.9,442.5L440.5,441.2M439.8,438.1L440.8,440.0M440.5,441.2L440.8,440.0M449.2,434.7L450.2,432.5M449.2,434.7L448.2,435.0M447.2,432.4L446.7,433.3M450.2,432.5L450.3,432.2M448.2,435.0L446.7,433.3M446.2,433.2L446.3,433.2M446.3,433.2L446.7,433.3M456.1,435.7L455.7,435.8M457.4,436.8L457.4,436.4M457.4,436.8L455.4,436.6M455.7,435.8L455.4,436.6M455.1,433.9L454.7,434.8M455.1,433.9L455.8,434.1M455.7,435.8L454.7,434.8M432.4,430.0L432.6,427.6M432.4,430.0L429.8,430.8M432.6,427.6L432.5,427.6M429.8,430.8L428.5,428.0M428.5,428.0L430.4,427.2M432.5,427.6L430.4,427.2M428.5,428.0L428.1,427.8M427.8,427.5L428.1,427.8M427.8,427.5L429.3,425.5M430.4,427.2L429.3,425.5M426.9,427.3L427.8,427.5M426.9,427.3L426.6,425.4M426.6,425.4L429.3,425.0M429.3,425.5L429.3,425.0M427.4,423.4L429.4,424.7M426.6,425.4L426.1,424.7M429.3,425.0L429.4,424.7M425.2,428.5L427.3,430.2M425.2,428.5L425.0,428.6M425.0,428.6L423.9,430.8M428.0,431.3L427.3,430.2M428.0,431.3L425.2,432.0M425.2,432.0L423.7,431.8M423.9,430.8L423.7,431.8M426.9,427.3L425.2,428.5M428.1,427.8L427.3,430.2M423.6,427.2L425.0,428.6M420.4,426.8L423.9,430.8M429.8,430.8L429.0,431.6M429.0,431.6L428.0,431.3M427.5,435.0L427.4,434.9M429.0,431.6L429.0,432.4M427.4,434.9L425.2,432.0M413.0,433.4L413.9,433.5M417.9,428.9L418.1,429.6M418.1,429.6L415.6,432.5M413.9,433.5L415.6,432.5M418.5,441.1L417.2,438.6M415.4,438.9L417.0,438.5M417.2,438.6L417.0,438.5M438.6,341.1L436.8,341.9M436.8,341.9L433.1,341.1M433.5,330.6L430.3,338.3M433.1,341.1L430.3,338.3M404.1,353.7L402.6,355.8M404.1,353.7L408.4,351.0M408.4,351.0L411.7,360.0M402.6,355.8L404.9,359.9M404.9,359.9L411.7,360.0M400.8,345.2L404.1,353.7M398.4,355.3L402.6,355.8M408.4,343.9L411.7,344.7M411.7,344.7L412.1,347.0M412.1,347.0L408.4,351.0M404.3,361.7L404.9,359.9M428.1,383.4L428.5,381.0M437.6,384.1L437.2,380.2M428.5,381.0L437.2,380.2M423.7,377.9L423.8,377.9M423.8,377.9L428.3,379.8M428.5,381.0L428.3,379.8M439.9,376.3L438.9,376.6M438.9,376.6L437.7,377.7M437.2,380.2L437.7,377.7M443.5,371.0L437.2,369.8M440.5,365.3L438.6,365.7M438.6,365.7L437.2,369.8M434.9,359.7L431.6,362.4M438.6,365.7L431.6,362.4M438.9,376.6L436.3,370.9M436.3,370.9L437.2,369.8M476.0,334.2L484.9,334.3M476.0,334.2L475.0,318.4M475.0,318.4L478.5,301.5M485.5,333.7L484.9,334.3M485.5,333.7L483.9,316.0M478.5,301.5L483.9,316.0M480.4,342.2L482.8,341.5M474.9,338.4L475.4,339.8M474.9,338.4L476.0,334.2M482.8,341.5L484.9,334.3M471.5,186.9L478.5,301.5M465.0,334.1L463.3,334.8M465.0,334.1L475.0,318.4M491.6,327.3L483.9,316.0M490.6,334.8L490.0,335.5M490.0,335.5L485.5,333.7M472.2,337.6L467.8,339.7M472.2,337.6L466.7,335.0M466.7,335.0L467.8,339.7M474.9,338.4L472.2,337.6M466.3,340.8L467.8,339.7M465.0,334.1L466.7,335.0M491.8,350.8L493.7,350.8M491.8,350.8L488.7,342.4M493.7,350.8L495.9,348.0M495.9,348.0L496.3,346.3M496.3,346.3L495.0,341.5M495.0,341.5L491.9,340.9M491.9,340.9L488.7,342.4M494.8,353.4L493.7,350.8M502.9,353.1L495.9,348.0M504.0,346.8L496.3,346.3M497.3,339.7L495.0,341.5M490.0,335.5L491.9,340.9M482.8,341.5L487.6,342.7M487.6,342.7L488.7,342.4M482.8,354.8L484.1,350.7M482.8,354.8L483.4,359.7M485.0,359.7L491.5,350.9M485.0,359.7L483.4,359.7M484.1,350.7L486.8,349.1M486.8,349.1L491.5,350.9M480.4,345.5L484.1,350.7M476.9,350.1L482.8,354.8M483.4,359.7L483.4,359.7M488.5,360.7L485.0,359.7M491.8,350.8L491.5,350.9M487.6,342.7L486.8,349.1M420.6,444.9L420.1,446.4M417.7,444.4L418.3,446.0M420.1,446.4L418.3,446.0M416.4,446.9L418.0,447.1M418.0,447.1L418.3,446.0M420.5,447.0L421.5,447.5M420.5,447.0L422.1,445.9M422.1,445.9L421.5,447.5M422.2,445.7L422.1,445.9M420.1,446.4L420.2,446.8M420.2,446.8L420.5,447.0M423.0,446.3L423.6,447.1M422.3,448.6L421.5,447.5M422.3,448.6L423.0,448.4M423.6,447.1L423.0,448.4M425.4,449.8L425.4,451.0M425.4,449.8L424.8,449.2M424.8,449.2L424.2,449.2M425.4,451.0L424.6,451.1M424.6,451.1L424.2,449.6M424.2,449.6L424.2,449.2M425.8,451.4L425.4,451.0M426.6,449.9L425.4,449.8M426.9,448.4L425.7,448.2M425.7,448.2L424.8,449.2M424.2,452.2L425.4,452.7M424.0,451.7L424.6,451.1M425.4,452.7L426.3,452.4M423.2,451.2L424.2,449.6M421.8,449.6L421.9,449.1M421.9,449.1L422.3,448.6M423.0,448.4L424.2,449.2M426.9,453.6L427.0,454.0M427.0,454.0L428.7,454.9M430.3,452.0L430.5,453.2M430.5,453.2L429.2,455.0M428.7,454.9L429.2,455.0M425.4,452.7L424.8,453.7M427.0,454.0L426.6,454.4M426.6,454.4L424.8,453.7M422.9,453.7L424.7,453.8M424.7,453.8L424.8,453.7M431.9,463.7L431.3,463.0M431.9,463.7L431.9,464.9M431.3,464.9L431.9,464.9M431.3,464.9L430.4,464.4M431.3,463.0L430.4,464.4M431.9,463.7L433.8,464.9M432.4,465.2L431.9,464.9M432.4,465.2L433.8,465.1M433.8,465.1L433.8,465.1M433.8,464.9L433.8,465.1M436.0,451.7L435.8,452.7M436.0,451.7L436.7,451.1M438.8,452.9L436.1,453.1M438.8,452.9L436.8,451.2M436.1,453.1L435.8,452.7M436.7,451.1L436.8,451.2M433.4,451.1L433.5,453.9M433.4,451.1L436.0,451.7M433.5,453.9L435.8,452.7M438.9,453.0L436.5,454.0M438.9,453.0L438.8,452.9M436.5,454.0L436.1,453.1M442.9,461.6L444.5,460.8M442.9,461.6L440.9,458.6M440.8,457.1L440.6,457.5M440.9,458.6L440.6,457.5M442.9,461.6L442.5,462.1M438.3,460.4L439.0,461.7M438.3,460.4L438.3,459.9M440.9,458.6L438.3,459.9M423.0,442.2L424.7,444.6M423.7,444.8L423.8,444.8M424.7,444.6L423.8,444.8M424.4,440.4L423.3,441.0M422.9,441.4L423.3,441.0M426.3,444.1L426.2,444.2M426.3,444.1L426.4,442.6M424.8,440.6L426.4,442.6M426.2,444.2L425.3,444.6M424.7,444.6L425.3,444.6M430.1,450.0L432.2,448.7M429.3,448.2L429.8,447.6M429.8,447.6L431.9,447.8M432.2,448.7L431.9,447.8M430.6,444.0L429.5,445.1M430.6,444.0L431.2,445.6M429.5,445.1L430.2,446.8M431.2,445.6L431.2,446.0M430.2,446.8L431.2,446.0M433.5,443.1L432.8,442.8M433.5,443.1L432.6,445.4M432.8,442.8L430.6,443.5M430.6,443.5L430.6,444.0M432.6,445.4L432.5,445.5M432.5,445.5L431.2,445.6M429.8,447.6L430.0,447.0M430.0,447.0L430.2,446.8M431.9,447.8L432.1,447.1M432.1,447.1L431.2,446.0M428.8,445.6L427.9,444.6M428.8,445.6L428.8,445.7M428.8,445.7L428.0,446.5M428.0,446.5L427.0,444.4M427.0,444.4L427.9,444.6M430.1,443.1L430.6,443.5M430.1,443.1L427.9,444.6M429.5,445.1L428.8,445.6M430.0,447.0L428.8,445.7M427.9,447.5L427.7,447.1M427.7,447.1L428.0,446.5M426.3,444.1L427.0,444.4M426.6,446.5L426.2,444.2M426.6,446.5L427.7,447.1M426.4,442.6L429.2,442.0M429.2,442.0L430.1,443.1M462.1,432.8L461.8,433.3M462.3,434.8L462.2,434.7M462.2,434.7L461.8,433.3M459.7,432.9L460.3,433.7M461.8,433.3L460.3,433.7M485.0,409.3L485.3,405.2M485.0,409.3L481.9,410.3M481.9,410.3L482.5,404.7M485.3,405.2L484.9,404.8M484.9,404.8L482.5,404.7M485.1,409.7L485.0,409.3M489.1,405.9L485.3,405.2M481.4,410.9L481.9,410.3M480.7,404.5L482.5,404.7M487.1,396.2L484.9,404.8M469.9,451.1L468.3,450.4M469.9,451.1L470.4,450.3M470.4,450.3L468.3,450.2M468.3,450.4L468.3,450.2M469.7,451.6L469.9,451.1M467.8,451.6L468.3,450.4M471.6,449.0L470.4,450.3M468.2,449.8L468.3,450.2M457.4,436.8L457.7,437.8M457.7,437.8L458.2,438.2M457.5,436.1L459.0,435.6M458.2,438.2L458.5,438.3M458.5,438.3L458.8,438.3M458.8,438.3L459.0,435.6M459.8,441.1L459.0,440.5M459.8,441.1L459.1,442.3M457.8,441.8L458.0,442.3M457.8,441.8L458.5,440.3M458.5,440.3L459.0,440.5M458.0,442.3L458.9,442.5M458.9,442.5L459.1,442.3M461.4,440.3L459.0,440.5M461.2,440.7L459.8,441.1M461.0,441.9L459.1,442.3M456.7,444.2L458.0,442.3M456.7,444.2L455.9,444.1M456.5,441.0L455.4,441.5M456.5,441.0L457.8,441.8M455.9,444.1L455.4,441.5M456.4,440.1L456.5,441.0M456.4,440.1L458.2,438.2M458.5,438.3L458.5,440.3M462.2,438.6L460.7,437.9M460.7,437.9L458.8,438.3M456.7,444.3L456.7,444.2M460.4,444.4L458.9,442.5M453.9,454.9L457.1,457.7M453.9,454.9L453.0,457.6M453.0,457.6L453.2,457.8M453.2,457.8L454.4,459.4M457.1,457.7L454.4,459.4M453.9,454.6L453.9,454.9M457.9,457.5L457.1,457.7M451.3,451.1L449.0,453.4M451.3,451.1L451.3,451.1M449.9,456.9L450.7,457.5M450.7,457.5L453.0,457.6M448.9,468.1L449.5,464.2M459.5,531.1L454.0,463.2M454.0,463.2L449.5,464.2M456.5,463.5L458.4,462.0M456.5,463.5L454.2,463.1M458.4,462.0L454.4,459.4M454.2,463.1L454.0,460.2M454.4,459.4L454.0,460.2M458.9,461.9L458.4,462.0M501.3,749.0L456.5,463.5M454.0,463.2L454.2,463.1M454.4,459.4L454.4,459.4M436.4,433.0L436.0,434.2M436.4,433.0L434.5,431.3M433.9,431.4L434.5,431.3M433.9,431.4L433.8,432.5M433.8,432.5L436.0,434.2M438.3,433.6L436.4,433.0M437.5,435.8L436.0,434.2M436.3,430.6L434.5,431.3M432.4,430.0L433.9,431.4M432.6,427.6L437.1,427.3M433.0,434.0L433.8,432.5M434.5,436.7L433.9,436.6M433.9,436.6L433.0,434.1M452.7,432.9L452.9,433.3M452.7,432.9L454.0,431.7M452.9,433.3L454.9,433.5M454.9,433.5L455.1,432.5M454.0,431.7L455.1,432.5M450.2,432.5L451.9,434.1M451.6,431.9L452.7,432.9M451.9,434.1L452.7,433.9M452.7,433.9L452.9,433.3M453.8,431.3L454.0,431.7M456.4,431.3L455.1,432.5M455.1,433.9L454.9,433.5M451.3,451.1L450.9,450.3M447.0,453.1L444.4,448.0M444.4,448.0L445.9,447.6M445.9,447.6L450.2,449.7M450.9,450.3L450.2,449.7M446.0,442.8L444.9,443.3M446.0,442.8L446.8,444.4M444.9,443.3L446.4,445.9M446.8,444.4L446.4,445.9M447.8,443.9L446.8,444.4M447.8,443.9L446.7,441.9M446.0,442.8L446.6,441.9M446.6,441.9L446.7,441.9M444.0,433.8L443.2,434.9M446.3,433.2L445.1,435.8M445.1,435.8L443.2,434.9M442.1,435.0L442.4,435.2M439.8,438.1L442.4,435.8M442.4,435.8L442.4,435.2M442.4,435.2L443.2,434.9M447.8,443.9L447.9,443.9M447.9,443.9L448.4,442.3M447.1,441.5L446.7,441.9M447.1,441.5L447.9,441.4M447.9,441.4L448.4,442.3M452.7,433.9L452.9,435.2M454.7,434.8L453.9,435.7M452.9,435.2L453.9,435.7M433.3,424.9L429.8,424.4M433.3,424.9L432.6,426.8M432.6,426.8L429.7,424.5M429.8,424.4L429.7,424.5M431.6,419.6L429.8,424.4M433.4,424.7L433.3,424.9M432.5,427.6L432.6,426.8M429.4,424.7L429.7,424.5M427.4,434.9L425.4,435.0M423.7,431.8L423.5,431.9M423.5,431.9L425.4,435.0M419.4,431.5L417.0,434.2M419.4,431.5L421.2,432.8M421.2,432.8L416.6,435.6M417.0,434.2L416.5,435.5M416.5,435.5L416.6,435.6M418.1,429.6L419.4,431.5M415.6,432.5L417.0,434.2M423.5,431.9L421.3,432.9M421.3,432.9L421.2,432.8M413.9,433.5L416.5,435.5M417.0,438.5L416.6,435.6M424.7,345.0L427.7,338.6M424.7,345.0L414.9,339.2M427.7,338.6L423.1,335.5M423.1,335.5L414.9,338.8M414.9,338.8L414.9,339.2M423.4,334.1L423.1,335.5M430.3,338.3L427.7,338.6M413.1,334.9L414.9,338.8M411.7,344.7L414.9,339.2M412.1,347.0L418.4,353.1M418.4,353.1L424.4,353.5M424.7,345.0L426.4,350.9M424.4,353.5L426.4,350.9M433.1,341.1L427.7,350.5M426.4,350.9L427.7,350.5M436.8,341.9L435.7,350.9M427.7,350.5L435.7,350.9M439.2,353.0L436.1,351.2M436.1,351.2L435.7,350.9M424.0,372.2L422.4,373.3M424.0,372.2L419.4,365.9M416.7,370.6L419.1,366.0M419.4,365.9L419.3,365.9M419.1,366.0L419.3,365.9M424.0,372.2L426.0,372.0M423.8,377.9L426.7,373.3M426.0,372.0L426.7,373.3M428.3,379.8L429.8,376.3M426.7,373.3L429.8,376.3M437.7,377.7L431.2,375.7M429.8,376.3L431.2,375.7M419.8,447.2L418.3,447.5M419.8,447.2L419.9,448.6M419.9,448.6L418.9,449.4M418.3,447.7L418.6,449.3M418.3,447.7L418.3,447.5M418.9,449.4L418.6,449.3M420.2,446.8L419.8,447.2M418.0,447.1L418.3,447.5M421.9,449.1L419.9,448.6M419.1,450.1L418.9,449.4M414.1,449.7L418.6,449.3M414.1,449.7L418.3,447.7M414.1,449.7L411.0,450.3M425.7,446.9L425.1,445.5M425.7,446.9L425.4,447.2M425.4,447.2L423.9,447.0M425.1,445.5L424.0,446.8M423.9,447.0L424.0,446.8M426.6,446.5L425.7,446.9M425.3,444.6L425.1,445.5M425.7,448.2L425.4,447.2M423.6,447.1L423.9,447.0M423.8,444.8L424.0,446.8M430.3,435.3L430.7,436.3M433.9,436.6L433.1,437.2M433.1,437.2L430.7,436.3M429.1,439.1L429.6,439.8M429.1,439.1L430.3,437.7M429.6,439.8L432.3,439.8M430.3,437.7L432.7,438.0M432.3,439.8L432.7,438.0M428.8,438.9L429.1,439.1M429.2,442.0L429.6,439.8M430.7,436.3L430.3,437.7M432.8,440.2L432.8,442.8M432.8,440.2L432.3,439.8M433.1,437.2L432.7,438.0M435.2,439.8L432.8,440.2M423.8,461.3L427.6,459.2M424.1,457.5L424.4,457.2M427.7,459.1L427.6,459.2M427.7,459.1L427.6,458.8M427.6,458.8L426.9,458.1M426.9,458.1L424.4,457.2M432.1,466.5L432.3,467.1M432.1,466.5L431.7,466.0M432.3,467.1L432.3,467.1M432.3,467.1L430.9,467.4M431.5,466.0L431.7,466.0M431.5,466.0L430.0,466.7M430.0,466.7L430.7,467.3M430.7,467.3L430.9,467.4M433.8,465.1L432.1,466.5M434.1,465.9L433.8,465.1M434.1,465.9L432.5,467.1M432.5,467.1L432.3,467.1M432.4,465.2L431.7,466.0M432.5,467.1L433.5,467.6M433.5,467.6L432.4,468.3M432.4,468.3L432.3,467.1M432.1,469.9L432.4,468.3M432.1,469.9L430.9,467.4M431.3,464.9L431.5,466.0M428.1,466.4L428.2,466.3M428.2,466.3L430.0,466.7M435.7,506.9L432.1,469.9M428.2,466.3L428.3,465.8M423.1,462.2L426.8,463.1M426.8,463.1L428.3,465.8M430.4,464.4L428.9,465.1M428.3,465.8L428.9,465.1M437.5,448.0L437.8,448.1M437.5,448.0L436.2,449.2M436.7,450.7L438.7,449.4M436.7,450.7L436.3,449.9M436.3,449.9L436.2,449.2M437.8,448.1L438.7,449.4M436.9,445.8L437.5,448.0M436.9,445.8L438.3,446.4M438.3,446.4L439.6,447.4M437.8,448.1L439.6,447.4M439.6,453.2L438.9,453.0M439.6,453.2L439.6,454.4M439.6,454.4L438.6,455.0M436.5,454.0L436.6,454.6M438.6,455.0L437.2,455.5M437.2,455.5L437.0,455.5M436.6,454.6L437.0,455.5M435.3,457.0L435.0,458.5M435.3,457.0L436.2,456.3M435.8,459.0L435.1,458.6M435.8,459.0L436.8,458.5M436.8,458.5L436.3,456.3M435.0,458.5L435.1,458.6M436.2,456.3L436.3,456.3M433.3,451.0L430.2,451.7M433.3,451.0L433.4,450.3M432.2,448.7L433.2,449.1M433.2,449.1L433.4,450.3M433.3,451.0L433.4,451.1M436.7,450.7L436.7,451.1M436.3,449.9L433.5,450.3M433.4,450.3L433.5,450.3M436.2,449.2L435.9,449.0M433.5,450.3L435.9,449.0M433.5,443.1L435.5,443.8M432.6,445.4L433.9,445.4M433.9,445.4L435.5,443.8M437.7,442.7L436.4,443.8M439.9,442.5L441.7,444.1M436.9,445.8L436.4,444.9M441.7,444.1L441.9,445.1M438.3,446.4L441.9,445.1M436.4,444.9L436.4,443.8M436.4,443.8L435.5,443.8M458.9,434.7L460.3,434.3M458.9,434.7L459.3,435.5M459.3,435.5L460.4,435.9M460.4,435.9L460.7,435.0M460.7,435.0L460.3,434.3M457.9,434.2L458.9,434.7M460.3,433.7L460.3,434.3M459.0,435.6L459.3,435.5M460.7,437.9L460.4,435.9M462.2,434.7L460.7,435.0M448.4,462.0L450.2,459.9M448.4,462.0L449.3,463.8M449.3,463.8L452.8,460.5M450.2,459.9L451.2,460.1M451.2,460.1L452.8,460.5M447.5,461.5L448.4,462.0M450.7,457.5L450.2,459.9M449.5,464.2L449.3,463.8M454.0,460.2L452.8,460.5M453.2,457.8L451.2,460.1M452.4,445.7L452.2,445.2M452.4,445.7L454.2,445.7M454.2,445.7L455.9,444.1M452.5,444.7L452.2,445.2M452.5,444.7L455.2,443.8M455.9,444.1L455.2,443.8M454.7,446.6L454.2,445.7M450.9,450.3L452.4,445.7M455.9,444.1L455.9,444.1M455.4,441.5L454.9,441.3M454.9,441.3L454.7,441.4M454.7,441.4L454.5,443.3M454.5,443.3L455.2,443.8M448.3,445.4L448.7,444.3M448.3,445.4L449.6,446.1M449.6,446.1L450.8,444.1M448.7,444.3L449.9,443.8M449.9,443.8L450.6,443.8M450.8,444.1L450.6,443.8M447.9,443.9L448.7,444.3M446.4,446.6L448.3,445.4M446.4,446.6L446.4,445.9M445.9,447.6L446.4,446.6M450.2,449.7L449.6,446.1M452.2,445.2L450.8,444.1M448.4,442.3L449.9,443.8M447.9,441.4L448.6,440.7M448.8,440.6L448.6,440.7M448.8,440.6L450.7,443.4M450.7,443.4L450.6,443.8M440.8,440.0L441.8,439.4M442.4,435.8L442.8,436.8M441.8,439.4L442.8,436.8M454.5,443.3L454.0,443.2M452.5,444.7L453.5,443.2M454.0,443.2L453.5,443.2M450.4,439.0L451.8,440.2M450.4,439.0L450.0,439.1M449.3,440.1L450.0,439.1M449.3,440.1L451.3,442.3M451.8,440.2L451.8,441.4M451.8,441.4L451.3,442.3M449.3,440.1L448.8,440.6M450.7,443.4L451.3,442.6M451.3,442.3L451.3,442.6M453.5,443.2L453.1,442.8M451.3,442.6L453.1,442.8M451.9,434.1L450.8,435.2M452.9,435.2L452.3,435.4M452.3,435.4L450.8,435.2M449.2,434.7L450.3,435.3M450.3,435.3L450.8,435.2M452.3,435.4L452.1,437.2M450.3,435.3L451.2,437.6M452.1,437.2L451.2,437.6M454.3,436.9L454.1,436.7M454.3,436.9L455.1,438.3M454.1,436.7L453.2,437.2M453.2,437.2L453.2,438.8M455.1,438.3L454.8,439.3M453.2,438.8L453.8,439.6M454.8,439.3L454.4,439.6M453.8,439.6L454.4,439.6M455.4,436.6L454.3,436.9M453.9,435.7L454.1,436.7M457.7,437.8L455.1,438.3M452.1,437.2L453.2,437.2M450.8,438.5L453.2,438.8M450.8,438.5L451.2,437.6M456.4,440.1L454.8,439.3M450.4,439.0L450.8,438.5M453.3,440.0L451.8,440.2M453.3,440.0L453.8,439.6M454.9,441.3L454.4,439.6M421.3,434.8L423.6,436.9M421.3,434.8L418.2,438.1M420.8,438.7L423.7,437.3M420.8,438.7L418.2,438.1M423.7,437.3L423.6,436.9M421.3,432.9L421.3,434.8M425.4,435.0L423.6,436.9M417.2,438.6L418.2,438.1M424.2,437.9L423.7,437.3M423.3,441.0L420.8,438.7M419.6,365.8L424.9,355.1M419.6,365.8L427.6,366.2M424.9,355.1L430.0,361.2M427.6,366.2L430.6,362.9M430.0,361.2L430.8,362.5M430.8,362.5L430.6,362.9M418.4,353.1L417.4,354.6M419.4,365.9L419.6,365.8M424.4,353.5L424.9,355.1M417.4,354.6L419.3,365.9M426.0,372.0L426.1,371.8M426.1,371.8L427.5,369.0M427.5,369.0L427.6,366.2M436.1,351.2L430.0,361.2M431.6,362.4L430.8,362.5M436.3,370.9L434.0,370.5M434.0,370.5L430.6,362.9M410.3,367.1L417.2,364.9M410.3,367.1L412.1,360.1M417.2,364.9L412.7,360.0M412.1,360.1L412.7,360.0M409.5,368.5L410.3,367.1M419.1,366.0L417.2,364.9M411.7,360.0L412.1,360.1M417.4,354.6L412.7,360.0M432.5,371.6L428.5,369.6M432.5,371.6L431.8,373.3M428.5,369.6L430.1,372.3M431.8,373.3L430.1,372.3M427.5,369.0L428.5,369.6M434.0,370.5L432.5,371.6M431.2,375.7L431.8,373.3M426.1,371.8L430.1,372.3M427.6,458.8L429.4,455.9M429.4,455.9L429.2,455.0M428.7,454.9L427.0,456.0M426.9,458.1L426.8,457.4M427.0,456.0L426.8,457.4M426.6,454.4L426.1,455.0M427.0,456.0L426.1,455.0M424.2,456.5L424.8,455.4M424.2,456.5L424.3,457.0M424.3,457.0L426.0,456.2M424.8,455.4L425.0,455.2M425.0,455.2L425.7,455.2M425.7,455.2L426.0,456.2M420.9,454.9L424.2,456.5M422.3,453.9L424.8,455.4M424.4,457.2L424.3,457.0M426.8,457.4L426.0,456.2M424.7,453.8L425.0,455.2M426.1,455.0L425.7,455.2M429.6,462.2L429.0,463.2M429.6,462.2L427.9,461.4M429.0,463.2L427.7,462.2M427.9,461.4L427.7,462.2M431.5,462.1L431.3,463.0M431.5,462.1L431.1,461.7M431.1,461.7L429.6,462.2M428.9,465.1L429.0,463.2M426.8,463.1L427.7,462.2M427.6,459.2L427.9,461.4M430.6,458.4L431.1,457.4M430.6,458.4L429.9,456.2M431.1,457.4L430.2,456.2M429.9,456.2L430.2,456.2M427.7,459.1L430.5,459.7M429.4,455.9L429.9,456.2M430.5,459.7L430.6,458.4M431.1,457.4L431.7,457.2M430.2,456.2L431.3,456.2M431.7,457.2L431.3,456.2M435.0,458.5L433.3,457.1M435.1,458.6L434.0,459.2M433.3,457.1L432.6,457.8M432.6,457.8L432.4,458.5M434.0,459.2L432.4,458.5M434.6,467.6L435.6,474.4M434.6,467.6L434.6,467.4M434.6,467.4L436.5,467.6M435.6,474.4L436.6,467.7M436.6,467.7L436.5,467.6M436.0,481.3L435.6,474.4M433.5,467.6L434.6,467.6M434.1,465.9L434.7,466.7M434.7,466.7L434.6,467.4M434.7,466.7L436.2,466.3M436.2,466.3L436.2,466.3M436.2,466.3L436.5,467.6M438.3,466.9L436.6,467.7M438.3,466.2L437.3,466.1M437.3,466.1L436.2,466.3M433.8,464.9L434.2,464.4M436.2,466.3L435.8,464.4M435.8,464.4L434.2,464.4M433.8,462.1L431.5,462.1M433.8,462.1L434.1,462.7M434.1,462.7L434.2,464.4M438.9,449.5L441.8,447.5M438.9,449.5L439.4,450.8M442.5,450.9L441.7,451.6M442.5,450.9L443.3,448.0M443.3,448.0L442.5,447.3M439.4,450.8L440.9,451.9M442.5,447.3L441.8,447.5M441.7,451.6L440.9,451.9M438.7,449.4L438.9,449.5M439.6,447.4L441.8,447.5M436.8,451.2L439.4,450.8M445.1,453.3L442.5,450.9M442.5,454.8L441.7,451.6M444.4,448.0L443.3,448.0M441.7,444.1L443.2,443.4M441.9,445.1L442.5,447.3M443.2,443.4L444.9,443.3M439.6,453.2L440.9,451.9M440.8,455.8L439.6,454.4M438.6,455.0L439.0,457.0M437.2,455.5L438.1,456.9M438.1,456.9L439.0,457.0M436.8,458.5L437.2,458.6M437.0,455.5L436.3,456.3M438.1,456.9L437.2,458.6M440.6,457.5L440.4,457.5M440.4,457.5L439.0,457.0M433.2,449.1L433.4,448.9M435.9,449.0L435.1,448.3M435.1,448.3L433.4,448.9M436.4,444.9L435.0,446.9M435.1,448.3L435.0,446.9M432.1,447.1L432.4,447.0M433.4,448.9L433.4,447.4M432.4,447.0L433.4,447.4M453.3,441.4L453.2,441.6M453.3,441.4L454.7,441.4M453.9,442.1L454.3,441.9M453.9,442.1L453.2,441.9M453.2,441.6L453.2,441.9M454.7,441.4L454.3,441.9M453.3,440.0L453.3,441.4M451.8,441.4L453.2,441.6M454.7,441.4L454.7,441.4M454.0,442.8L453.9,442.1M454.0,442.8L454.3,441.9M454.0,443.2L454.0,442.8M453.1,442.8L453.2,441.9M431.4,456.1L433.3,456.9M431.4,456.1L432.7,454.3M432.7,454.3L433.2,454.3M433.2,454.3L433.6,454.9M433.6,454.9L433.7,455.3M433.7,455.3L433.6,456.4M433.6,456.4L433.3,456.9M431.7,457.2L432.6,457.8M433.3,457.1L433.3,456.9M431.3,456.2L431.4,456.1M430.5,453.2L432.7,454.3M433.5,453.9L433.2,454.3M436.6,454.6L433.6,454.9M436.2,456.3L433.7,455.3M435.3,457.0L433.6,456.4M433.7,460.4L433.7,460.2M433.7,460.4L430.7,459.9M433.7,460.2L432.2,458.8M432.2,458.8L430.7,459.8M430.7,459.9L430.7,459.8M435.7,460.7L435.8,459.0M435.7,460.7L434.2,461.4M434.2,461.4L433.7,460.4M434.0,459.2L433.7,460.2M433.8,462.1L434.2,461.4M431.1,461.7L430.7,459.9M432.4,458.5L432.2,458.8M430.5,459.7L430.7,459.8M436.3,464.4L435.8,464.4M436.3,464.4L436.9,464.3M435.8,464.4L436.2,462.9M436.9,464.3L437.0,462.5M436.2,462.9L436.8,462.4M436.8,462.4L437.0,462.5M437.3,466.1L436.3,464.4M435.8,464.4L435.8,464.4M438.3,464.6L436.9,464.3M434.1,462.7L436.2,462.9M438.0,462.4L437.0,462.5M435.7,460.7L435.8,460.8M435.8,460.8L436.8,462.4M435.8,460.8L438.3,460.4M438.2,459.9L439.8,457.8M438.2,459.9L437.6,458.8M437.6,458.8L439.8,457.8M438.3,459.9L438.2,459.9M440.4,457.5L439.8,457.8M437.2,458.6L437.6,458.8M433.0,446.1L433.4,446.1M433.0,446.1L432.9,446.3M432.9,446.3L433.6,447.2M433.4,446.1L434.2,446.9M434.2,446.9L433.6,447.2M432.5,445.5L433.0,446.1M433.9,445.4L433.4,446.1M432.4,447.0L432.9,446.3M433.4,447.4L433.6,447.2M435.0,446.9L434.2,446.9M445.2,439.7L444.7,438.7M445.2,439.7L444.6,441.1M444.7,438.7L443.4,439.4M443.4,439.4L443.8,440.7M443.8,440.7L444.3,441.2M444.3,441.2L444.6,441.1M447.1,441.5L446.2,440.1M446.6,441.9L444.6,441.1M446.2,440.1L445.2,439.7M441.8,439.4L443.4,439.4M442.8,436.8L444.9,438.2M444.9,438.2L444.7,438.7M440.5,441.2L443.8,440.7M443.2,443.4L444.3,441.2M446.1,436.6L444.9,438.2M446.1,436.6L447.6,436.3M444.9,438.2L446.9,439.0M447.6,436.3L448.0,437.3M448.0,437.3L447.0,439.0M447.0,439.0L446.9,439.0M445.1,435.8L446.1,436.6M444.9,438.2L444.9,438.2M448.2,435.0L447.6,436.3M446.2,440.1L446.9,439.0M450.0,439.1L448.0,437.3M448.6,440.7L447.0,439.0" stroke="#e6e2e2" stroke-width="0.35" fill="none" opacity="0.7" clip-path="url(#cclip)"/>
<path d="M455,441 Q538,441 548.4,338.5" stroke="#141414" stroke-width="0.6" fill="none" opacity="0.9"/>
<path d="M458,414 Q525,418 542.9,352.3" stroke="#141414" stroke-width="0.6" fill="none" opacity="0.9"/>
<path d="M452,426 Q506,401 512.1,373.3" stroke="#141414" stroke-width="0.6" fill="none" opacity="0.9"/>
<path d="M397.5,435.5 Q399,457 421,458.5" stroke="#141414" stroke-width="0.6" fill="none" opacity="0.9"/>
<path d="M410,453 Q425,458 434,459.5" stroke="#141414" stroke-width="0.6" fill="none" opacity="0.9"/>
<path d="M449,371.5 Q458,385 456,440" stroke="#141414" stroke-width="0.6" fill="none" opacity="0.9"/>
<path d="M451.5,370.5 Q461,384 460,442" stroke="#141414" stroke-width="0.6" fill="none" opacity="0.9"/>
<path d="M462.5,352.6 Q478,382 466,440" stroke="#141414" stroke-width="0.6" fill="none" opacity="0.9"/>
<path d="M471,380 Q470,410 462,445" stroke="#141414" stroke-width="0.6" fill="none" opacity="0.9"/>
<path d="M475,384 Q468,415 458,446" stroke="#141414" stroke-width="0.6" fill="none" opacity="0.9"/>
<path d="M450,390 Q455,420 452,445" stroke="#141414" stroke-width="0.6" fill="none" opacity="0.9"/>
<path d="M448,395 Q447,420 450,440" stroke="#141414" stroke-width="0.6" fill="none" opacity="0.9"/>
<path d="M473,378 Q476,410 468,436" stroke="#141414" stroke-width="0.6" fill="none" opacity="0.9"/>
<path d="M385,430 Q420,405 455,440" stroke="#141414" stroke-width="0.6" fill="none" opacity="0.9"/>
<path d="M405,425 Q440,385 458,440" stroke="#141414" stroke-width="0.6" fill="none" opacity="0.9"/>
<path d="M383,428 Q415,418 445,445" stroke="#141414" stroke-width="0.6" fill="none" opacity="0.9"/>
<path d="M388,425 Q420,415 448,448" stroke="#141414" stroke-width="0.6" fill="none" opacity="0.9"/>
<path d="M390,432 Q420,422 445,452" stroke="#141414" stroke-width="0.6" fill="none" opacity="0.9"/>
<path d="M380,431 Q410,425 440,450" stroke="#141414" stroke-width="0.6" fill="none" opacity="0.9"/>
<path d="M395,428 Q425,412 452,447" stroke="#141414" stroke-width="0.6" fill="none" opacity="0.9"/>
<circle cx="446.3" cy="459.5" r="1.2" fill="#aadbd8" stroke="#6a8a90" stroke-width="0.25"/>
<circle cx="455.8" cy="446.4" r="1.2" fill="#aadbd8" stroke="#6a8a90" stroke-width="0.25"/>
<circle cx="443.6" cy="446.3" r="1.2" fill="#aadbd8" stroke="#6a8a90" stroke-width="0.25"/>
<circle cx="450.6" cy="449.6" r="1.2" fill="#aadbd8" stroke="#6a8a90" stroke-width="0.25"/>
<circle cx="452.0" cy="437.1" r="1.2" fill="#aadbd8" stroke="#6a8a90" stroke-width="0.25"/>
<circle cx="458.5" cy="449.3" r="1.2" fill="#aadbd8" stroke="#6a8a90" stroke-width="0.25"/>
<circle cx="451.4" cy="449.0" r="1.2" fill="#aadbd8" stroke="#6a8a90" stroke-width="0.25"/>
<circle cx="443.0" cy="453.2" r="1.2" fill="#aadbd8" stroke="#6a8a90" stroke-width="0.25"/>
<circle cx="452.6" cy="448.6" r="1.2" fill="#aadbd8" stroke="#6a8a90" stroke-width="0.25"/>
<circle cx="444.8" cy="454.8" r="1.2" fill="#aadbd8" stroke="#6a8a90" stroke-width="0.25"/>
<circle cx="439.0" cy="439.4" r="1.2" fill="#aadbd8" stroke="#6a8a90" stroke-width="0.25"/>
<circle cx="449.2" cy="445.3" r="1.2" fill="#aadbd8" stroke="#6a8a90" stroke-width="0.25"/>
<circle cx="430.6" cy="444.3" r="1.2" fill="#aadbd8" stroke="#6a8a90" stroke-width="0.25"/>
<circle cx="442.3" cy="441.6" r="1.2" fill="#aadbd8" stroke="#6a8a90" stroke-width="0.25"/>
<circle cx="434.1" cy="450.3" r="1.2" fill="#aadbd8" stroke="#6a8a90" stroke-width="0.25"/>
<circle cx="453.2" cy="448.4" r="1.2" fill="#aadbd8" stroke="#6a8a90" stroke-width="0.25"/>
<circle cx="440.1" cy="452.7" r="1.2" fill="#aadbd8" stroke="#6a8a90" stroke-width="0.25"/>
<circle cx="451.7" cy="447.9" r="1.2" fill="#aadbd8" stroke="#6a8a90" stroke-width="0.25"/>
<circle cx="450.4" cy="457.3" r="1.2" fill="#aadbd8" stroke="#6a8a90" stroke-width="0.25"/>
<circle cx="444.3" cy="444.3" r="1.2" fill="#aadbd8" stroke="#6a8a90" stroke-width="0.25"/>
<circle cx="448.8" cy="451.7" r="1.2" fill="#aadbd8" stroke="#6a8a90" stroke-width="0.25"/>
<circle cx="454.8" cy="441.0" r="1.2" fill="#aadbd8" stroke="#6a8a90" stroke-width="0.25"/>
<circle cx="440.7" cy="444.1" r="1.2" fill="#aadbd8" stroke="#6a8a90" stroke-width="0.25"/>
<circle cx="432.1" cy="450.9" r="1.2" fill="#aadbd8" stroke="#6a8a90" stroke-width="0.25"/>
<circle cx="450.2" cy="444.8" r="1.2" fill="#aadbd8" stroke="#6a8a90" stroke-width="0.25"/>
<circle cx="457.1" cy="455.8" r="1.2" fill="#aadbd8" stroke="#6a8a90" stroke-width="0.25"/>
<circle cx="451.0" cy="452.8" r="1.2" fill="#aadbd8" stroke="#6a8a90" stroke-width="0.25"/>
<circle cx="453.6" cy="440.7" r="1.2" fill="#aadbd8" stroke="#6a8a90" stroke-width="0.25"/>
<circle cx="450.9" cy="454.2" r="1.2" fill="#aadbd8" stroke="#6a8a90" stroke-width="0.25"/>
<circle cx="431.9" cy="452.4" r="1.2" fill="#aadbd8" stroke="#6a8a90" stroke-width="0.25"/>
<circle cx="444.0" cy="455.5" r="1.2" fill="#aadbd8" stroke="#6a8a90" stroke-width="0.25"/>
<circle cx="442.5" cy="449.9" r="1.2" fill="#aadbd8" stroke="#6a8a90" stroke-width="0.25"/>
<circle cx="448.7" cy="443.9" r="1.2" fill="#aadbd8" stroke="#6a8a90" stroke-width="0.25"/>
<circle cx="450.8" cy="449.3" r="1.2" fill="#aadbd8" stroke="#6a8a90" stroke-width="0.25"/>
<circle cx="449.9" cy="446.3" r="1.2" fill="#aadbd8" stroke="#6a8a90" stroke-width="0.25"/>
<circle cx="454.7" cy="454.2" r="1.2" fill="#aadbd8" stroke="#6a8a90" stroke-width="0.25"/>
<circle cx="444.6" cy="454.4" r="1.2" fill="#aadbd8" stroke="#6a8a90" stroke-width="0.25"/>
<circle cx="456.1" cy="462.5" r="1.2" fill="#aadbd8" stroke="#6a8a90" stroke-width="0.25"/>
<circle cx="433.4" cy="456.2" r="1.2" fill="#aadbd8" stroke="#6a8a90" stroke-width="0.25"/>
<circle cx="449.7" cy="449.3" r="1.2" fill="#aadbd8" stroke="#6a8a90" stroke-width="0.25"/>
<circle cx="437.9" cy="458.8" r="1.2" fill="#aadbd8" stroke="#6a8a90" stroke-width="0.25"/>
<circle cx="435.9" cy="454.0" r="1.2" fill="#aadbd8" stroke="#6a8a90" stroke-width="0.25"/>
<circle cx="456.4" cy="438.8" r="1.2" fill="#aadbd8" stroke="#6a8a90" stroke-width="0.25"/>
<circle cx="443.6" cy="440.8" r="1.2" fill="#aadbd8" stroke="#6a8a90" stroke-width="0.25"/>
<circle cx="448.0" cy="460.6" r="1.2" fill="#aadbd8" stroke="#6a8a90" stroke-width="0.25"/>
<circle cx="462.2" cy="437.6" r="1.2" fill="#aadbd8" stroke="#6a8a90" stroke-width="0.25"/>
<circle cx="441.4" cy="454.9" r="1.2" fill="#aadbd8" stroke="#6a8a90" stroke-width="0.25"/>
<circle cx="458.6" cy="452.9" r="1.2" fill="#aadbd8" stroke="#6a8a90" stroke-width="0.25"/>
<circle cx="440.0" cy="452.1" r="1.2" fill="#aadbd8" stroke="#6a8a90" stroke-width="0.25"/>
<circle cx="445.9" cy="448.6" r="1.2" fill="#aadbd8" stroke="#6a8a90" stroke-width="0.25"/>
<circle cx="440.1" cy="452.7" r="1.2" fill="#aadbd8" stroke="#6a8a90" stroke-width="0.25"/>
<circle cx="448.5" cy="449.3" r="1.2" fill="#aadbd8" stroke="#6a8a90" stroke-width="0.25"/>
<circle cx="444.2" cy="441.0" r="1.2" fill="#aadbd8" stroke="#6a8a90" stroke-width="0.25"/>
<circle cx="442.1" cy="458.4" r="1.2" fill="#aadbd8" stroke="#6a8a90" stroke-width="0.25"/>
<circle cx="444.5" cy="439.9" r="1.2" fill="#aadbd8" stroke="#6a8a90" stroke-width="0.25"/>
<circle cx="456.7" cy="453.7" r="1.2" fill="#aadbd8" stroke="#6a8a90" stroke-width="0.25"/>
<circle cx="462.9" cy="450.4" r="1.2" fill="#aadbd8" stroke="#6a8a90" stroke-width="0.25"/>
<circle cx="442.3" cy="439.9" r="1.2" fill="#aadbd8" stroke="#6a8a90" stroke-width="0.25"/>
<circle cx="439.4" cy="445.5" r="1.2" fill="#aadbd8" stroke="#6a8a90" stroke-width="0.25"/>
<circle cx="450.8" cy="444.2" r="1.2" fill="#aadbd8" stroke="#6a8a90" stroke-width="0.25"/>
<circle cx="443.8" cy="447.6" r="1.2" fill="#aadbd8" stroke="#6a8a90" stroke-width="0.25"/>
<circle cx="447.5" cy="457.7" r="1.2" fill="#aadbd8" stroke="#6a8a90" stroke-width="0.25"/>
<circle cx="446.2" cy="456.4" r="1.2" fill="#aadbd8" stroke="#6a8a90" stroke-width="0.25"/>
<circle cx="442.6" cy="452.3" r="1.2" fill="#aadbd8" stroke="#6a8a90" stroke-width="0.25"/>
<circle cx="428.9" cy="439.9" r="1.2" fill="#aadbd8" stroke="#6a8a90" stroke-width="0.25"/>
<circle cx="452.4" cy="445.9" r="1.2" fill="#aadbd8" stroke="#6a8a90" stroke-width="0.25"/>
<circle cx="450.6" cy="453.8" r="1.2" fill="#aadbd8" stroke="#6a8a90" stroke-width="0.25"/>
<circle cx="456.6" cy="455.7" r="1.2" fill="#aadbd8" stroke="#6a8a90" stroke-width="0.25"/>
<circle cx="454.1" cy="449.2" r="1.2" fill="#aadbd8" stroke="#6a8a90" stroke-width="0.25"/>
<circle cx="440.4" cy="444.9" r="1.2" fill="#aadbd8" stroke="#6a8a90" stroke-width="0.25"/>
<circle cx="442.1" cy="442.1" r="1.2" fill="#aadbd8" stroke="#6a8a90" stroke-width="0.25"/>
<circle cx="441.6" cy="449.4" r="1.2" fill="#aadbd8" stroke="#6a8a90" stroke-width="0.25"/>
<circle cx="448.0" cy="447.6" r="1.2" fill="#aadbd8" stroke="#6a8a90" stroke-width="0.25"/>
<circle cx="430.6" cy="449.5" r="1.2" fill="#aadbd8" stroke="#6a8a90" stroke-width="0.25"/>
<circle cx="448.4" cy="390.6" r="1.2" fill="#aadbd8" stroke="#6a8a90" stroke-width="0.25"/>
<circle cx="449.5" cy="395.0" r="1.2" fill="#aadbd8" stroke="#6a8a90" stroke-width="0.25"/>
<circle cx="449.8" cy="399.5" r="1.2" fill="#aadbd8" stroke="#6a8a90" stroke-width="0.25"/>
<circle cx="449.0" cy="406.8" r="1.2" fill="#aadbd8" stroke="#6a8a90" stroke-width="0.25"/>
<circle cx="436.2" cy="407.3" r="1.2" fill="#aadbd8" stroke="#6a8a90" stroke-width="0.25"/>
<circle cx="471.3" cy="400.0" r="1.2" fill="#aadbd8" stroke="#6a8a90" stroke-width="0.25"/>
<circle cx="467.4" cy="410.1" r="1.2" fill="#aadbd8" stroke="#6a8a90" stroke-width="0.25"/>
<circle cx="427.8" cy="429.0" r="1.2" fill="#aadbd8" stroke="#6a8a90" stroke-width="0.25"/>
<circle cx="453.4" cy="434.6" r="1.2" fill="#aadbd8" stroke="#6a8a90" stroke-width="0.25"/>
<circle cx="407.4" cy="403.2" r="1.2" fill="#aadbd8" stroke="#6a8a90" stroke-width="0.25"/>
<circle cx="472.0" cy="381.0" r="1.2" fill="#aadbd8" stroke="#6a8a90" stroke-width="0.25"/>
<circle cx="473.5" cy="385.0" r="1.2" fill="#aadbd8" stroke="#6a8a90" stroke-width="0.25"/>
<circle cx="471.4" cy="399.5" r="1.2" fill="#aadbd8" stroke="#6a8a90" stroke-width="0.25"/>
<circle cx="449.0" cy="371.5" r="1.2" fill="#aadbd8" stroke="#6a8a90" stroke-width="0.25"/>
<circle cx="451.5" cy="370.5" r="1.2" fill="#aadbd8" stroke="#6a8a90" stroke-width="0.25"/>
<circle cx="399.4" cy="427.5" r="1.2" fill="#aadbd8" stroke="#6a8a90" stroke-width="0.25"/>
<circle cx="395.0" cy="429.1" r="1.2" fill="#aadbd8" stroke="#6a8a90" stroke-width="0.25"/>
<circle cx="408.3" cy="423.6" r="1.2" fill="#aadbd8" stroke="#6a8a90" stroke-width="0.25"/>
<circle cx="409.1" cy="425.4" r="1.2" fill="#aadbd8" stroke="#6a8a90" stroke-width="0.25"/>
<circle cx="413.9" cy="424.4" r="1.2" fill="#aadbd8" stroke="#6a8a90" stroke-width="0.25"/>
<circle cx="416.5" cy="426.2" r="1.2" fill="#aadbd8" stroke="#6a8a90" stroke-width="0.25"/>
<circle cx="406.2" cy="430.1" r="1.2" fill="#aadbd8" stroke="#6a8a90" stroke-width="0.25"/>
<circle cx="404.8" cy="423.9" r="1.2" fill="#aadbd8" stroke="#6a8a90" stroke-width="0.25"/>
<circle cx="424.1" cy="421.4" r="1.2" fill="#aadbd8" stroke="#6a8a90" stroke-width="0.25"/>
<circle cx="396.6" cy="428.2" r="1.2" fill="#aadbd8" stroke="#6a8a90" stroke-width="0.25"/>
<circle cx="384.2" cy="422.3" r="1.2" fill="#aadbd8" stroke="#6a8a90" stroke-width="0.25"/>
<circle cx="416.6" cy="431.8" r="1.2" fill="#aadbd8" stroke="#6a8a90" stroke-width="0.25"/>
<circle cx="409.8" cy="433.5" r="1.2" fill="#aadbd8" stroke="#6a8a90" stroke-width="0.25"/>
<circle cx="414.7" cy="424.5" r="1.2" fill="#aadbd8" stroke="#6a8a90" stroke-width="0.25"/>
<circle cx="410.1" cy="425.1" r="1.2" fill="#aadbd8" stroke="#6a8a90" stroke-width="0.25"/>
<circle cx="414.5" cy="425.8" r="1.2" fill="#aadbd8" stroke="#6a8a90" stroke-width="0.25"/>
<circle cx="389.4" cy="433.1" r="1.2" fill="#aadbd8" stroke="#6a8a90" stroke-width="0.25"/>
<circle cx="412.0" cy="431.2" r="1.2" fill="#aadbd8" stroke="#6a8a90" stroke-width="0.25"/>
<circle cx="548.4" cy="338.5" r="1.2" fill="#aadbd8" stroke="#6a8a90" stroke-width="0.25"/>
<circle cx="542.9" cy="352.3" r="1.2" fill="#aadbd8" stroke="#6a8a90" stroke-width="0.25"/>
<circle cx="512.1" cy="373.3" r="1.2" fill="#aadbd8" stroke="#6a8a90" stroke-width="0.25"/>
<circle cx="462.5" cy="352.6" r="1.2" fill="#aadbd8" stroke="#6a8a90" stroke-width="0.25"/>
<circle cx="450.7" cy="445.1" r="1.1" fill="#8d4d9c"/>
<circle cx="431.2" cy="450.2" r="1.1" fill="#8d4d9c"/>
<circle cx="433.2" cy="454.6" r="1.1" fill="#8d4d9c"/>
<circle cx="433.1" cy="442.4" r="1.1" fill="#8d4d9c"/>
<circle cx="429.9" cy="463.8" r="1.1" fill="#8d4d9c"/>
<circle cx="440.5" cy="441.5" r="1.1" fill="#8d4d9c"/>
<circle cx="440.1" cy="438.0" r="1.1" fill="#8d4d9c"/>
<circle cx="461.5" cy="438.3" r="1.1" fill="#8d4d9c"/>
<circle cx="445.7" cy="456.9" r="1.1" fill="#8d4d9c"/>
<circle cx="422.6" cy="454.7" r="1.1" fill="#8d4d9c"/>
<circle cx="452.0" cy="456.2" r="1.1" fill="#8d4d9c"/>
<circle cx="443.1" cy="460.5" r="1.1" fill="#8d4d9c"/>
<circle cx="441.9" cy="455.0" r="1.1" fill="#8d4d9c"/>
<circle cx="438.5" cy="457.7" r="1.1" fill="#8d4d9c"/>
<circle cx="428.7" cy="459.1" r="1.1" fill="#8d4d9c"/>
<circle cx="433.9" cy="442.2" r="1.1" fill="#8d4d9c"/>
<circle cx="444.4" cy="467.2" r="1.1" fill="#8d4d9c"/>
<circle cx="451.5" cy="447.4" r="1.1" fill="#8d4d9c"/>
<circle cx="448.4" cy="447.9" r="1.1" fill="#8d4d9c"/>
<circle cx="438.5" cy="452.8" r="1.1" fill="#8d4d9c"/>
<circle cx="427.6" cy="445.7" r="1.1" fill="#8d4d9c"/>
<circle cx="422.3" cy="438.4" r="1.1" fill="#8d4d9c"/>
<circle cx="428.7" cy="459.4" r="1.1" fill="#8d4d9c"/>
<circle cx="460.0" cy="451.8" r="1.1" fill="#8d4d9c"/>
<circle cx="453.1" cy="449.6" r="1.1" fill="#8d4d9c"/>
<circle cx="445.3" cy="448.1" r="1.1" fill="#8d4d9c"/>
<circle cx="443.6" cy="457.2" r="1.1" fill="#8d4d9c"/>
<circle cx="429.6" cy="438.7" r="1.1" fill="#8d4d9c"/>
<defs><linearGradient id="cb" x1="0" y1="0" x2="0" y2="1"><stop offset="0" stop-color="#b4e4e2"/><stop offset="0.12" stop-color="#a0cac8"/><stop offset="0.25" stop-color="#8fa8a6"/><stop offset="0.36" stop-color="#878886"/><stop offset="0.46" stop-color="#7e6a65"/><stop offset="0.56" stop-color="#76524a"/><stop offset="0.64" stop-color="#7a4d5c"/><stop offset="0.74" stop-color="#7c4b72"/><stop offset="0.86" stop-color="#7a4687"/><stop offset="1" stop-color="#773e95"/></linearGradient></defs>
<rect x="583.1" y="289" width="10.6" height="203.9" fill="url(#cb)" stroke="#9a9a9a" stroke-width="0.5"/>
<line x1="593.7" y1="289.0" x2="597.6" y2="289.0" stroke="#777" stroke-width="0.6" />
<text x="601.7" y="291.9" font-size="8.1" text-anchor="start" fill="#333" font-weight="normal" stroke="#333" stroke-width="0.2" >1 May 2024</text>
<line x1="593.7" y1="311.7" x2="597.6" y2="311.7" stroke="#777" stroke-width="0.6" />
<text x="601.7" y="314.6" font-size="8.1" text-anchor="start" fill="#333" font-weight="normal" stroke="#333" stroke-width="0.2" >1 May 2023</text>
<line x1="593.7" y1="334.3" x2="597.6" y2="334.3" stroke="#777" stroke-width="0.6" />
<text x="601.7" y="337.2" font-size="8.1" text-anchor="start" fill="#333" font-weight="normal" stroke="#333" stroke-width="0.2" >1 May 2022</text>
<line x1="593.7" y1="357.0" x2="597.6" y2="357.0" stroke="#777" stroke-width="0.6" />
<text x="601.7" y="359.9" font-size="8.1" text-anchor="start" fill="#333" font-weight="normal" stroke="#333" stroke-width="0.2" >1 May 2021</text>
<line x1="593.7" y1="379.6" x2="597.6" y2="379.6" stroke="#777" stroke-width="0.6" />
<text x="601.7" y="382.5" font-size="8.1" text-anchor="start" fill="#333" font-weight="normal" stroke="#333" stroke-width="0.2" >1 May 2020</text>
<line x1="593.7" y1="402.3" x2="597.6" y2="402.3" stroke="#777" stroke-width="0.6" />
<text x="601.7" y="405.2" font-size="8.1" text-anchor="start" fill="#333" font-weight="normal" stroke="#333" stroke-width="0.2" >1 May 2019</text>
<line x1="593.7" y1="424.9" x2="597.6" y2="424.9" stroke="#777" stroke-width="0.6" />
<text x="601.7" y="427.8" font-size="8.1" text-anchor="start" fill="#333" font-weight="normal" stroke="#333" stroke-width="0.2" >1 May 2018</text>
<line x1="593.7" y1="447.6" x2="597.6" y2="447.6" stroke="#777" stroke-width="0.6" />
<text x="601.7" y="450.5" font-size="8.1" text-anchor="start" fill="#333" font-weight="normal" stroke="#333" stroke-width="0.2" >1 May 2017</text>
<line x1="593.7" y1="470.2" x2="597.6" y2="470.2" stroke="#777" stroke-width="0.6" />
<text x="601.7" y="473.1" font-size="8.1" text-anchor="start" fill="#333" font-weight="normal" stroke="#333" stroke-width="0.2" >1 May 2016</text>
<line x1="593.7" y1="492.9" x2="597.6" y2="492.9" stroke="#777" stroke-width="0.6" />
<text x="601.7" y="495.8" font-size="8.1" text-anchor="start" fill="#333" font-weight="normal" stroke="#333" stroke-width="0.2" >1 May 2015</text>
</svg></body></html>
